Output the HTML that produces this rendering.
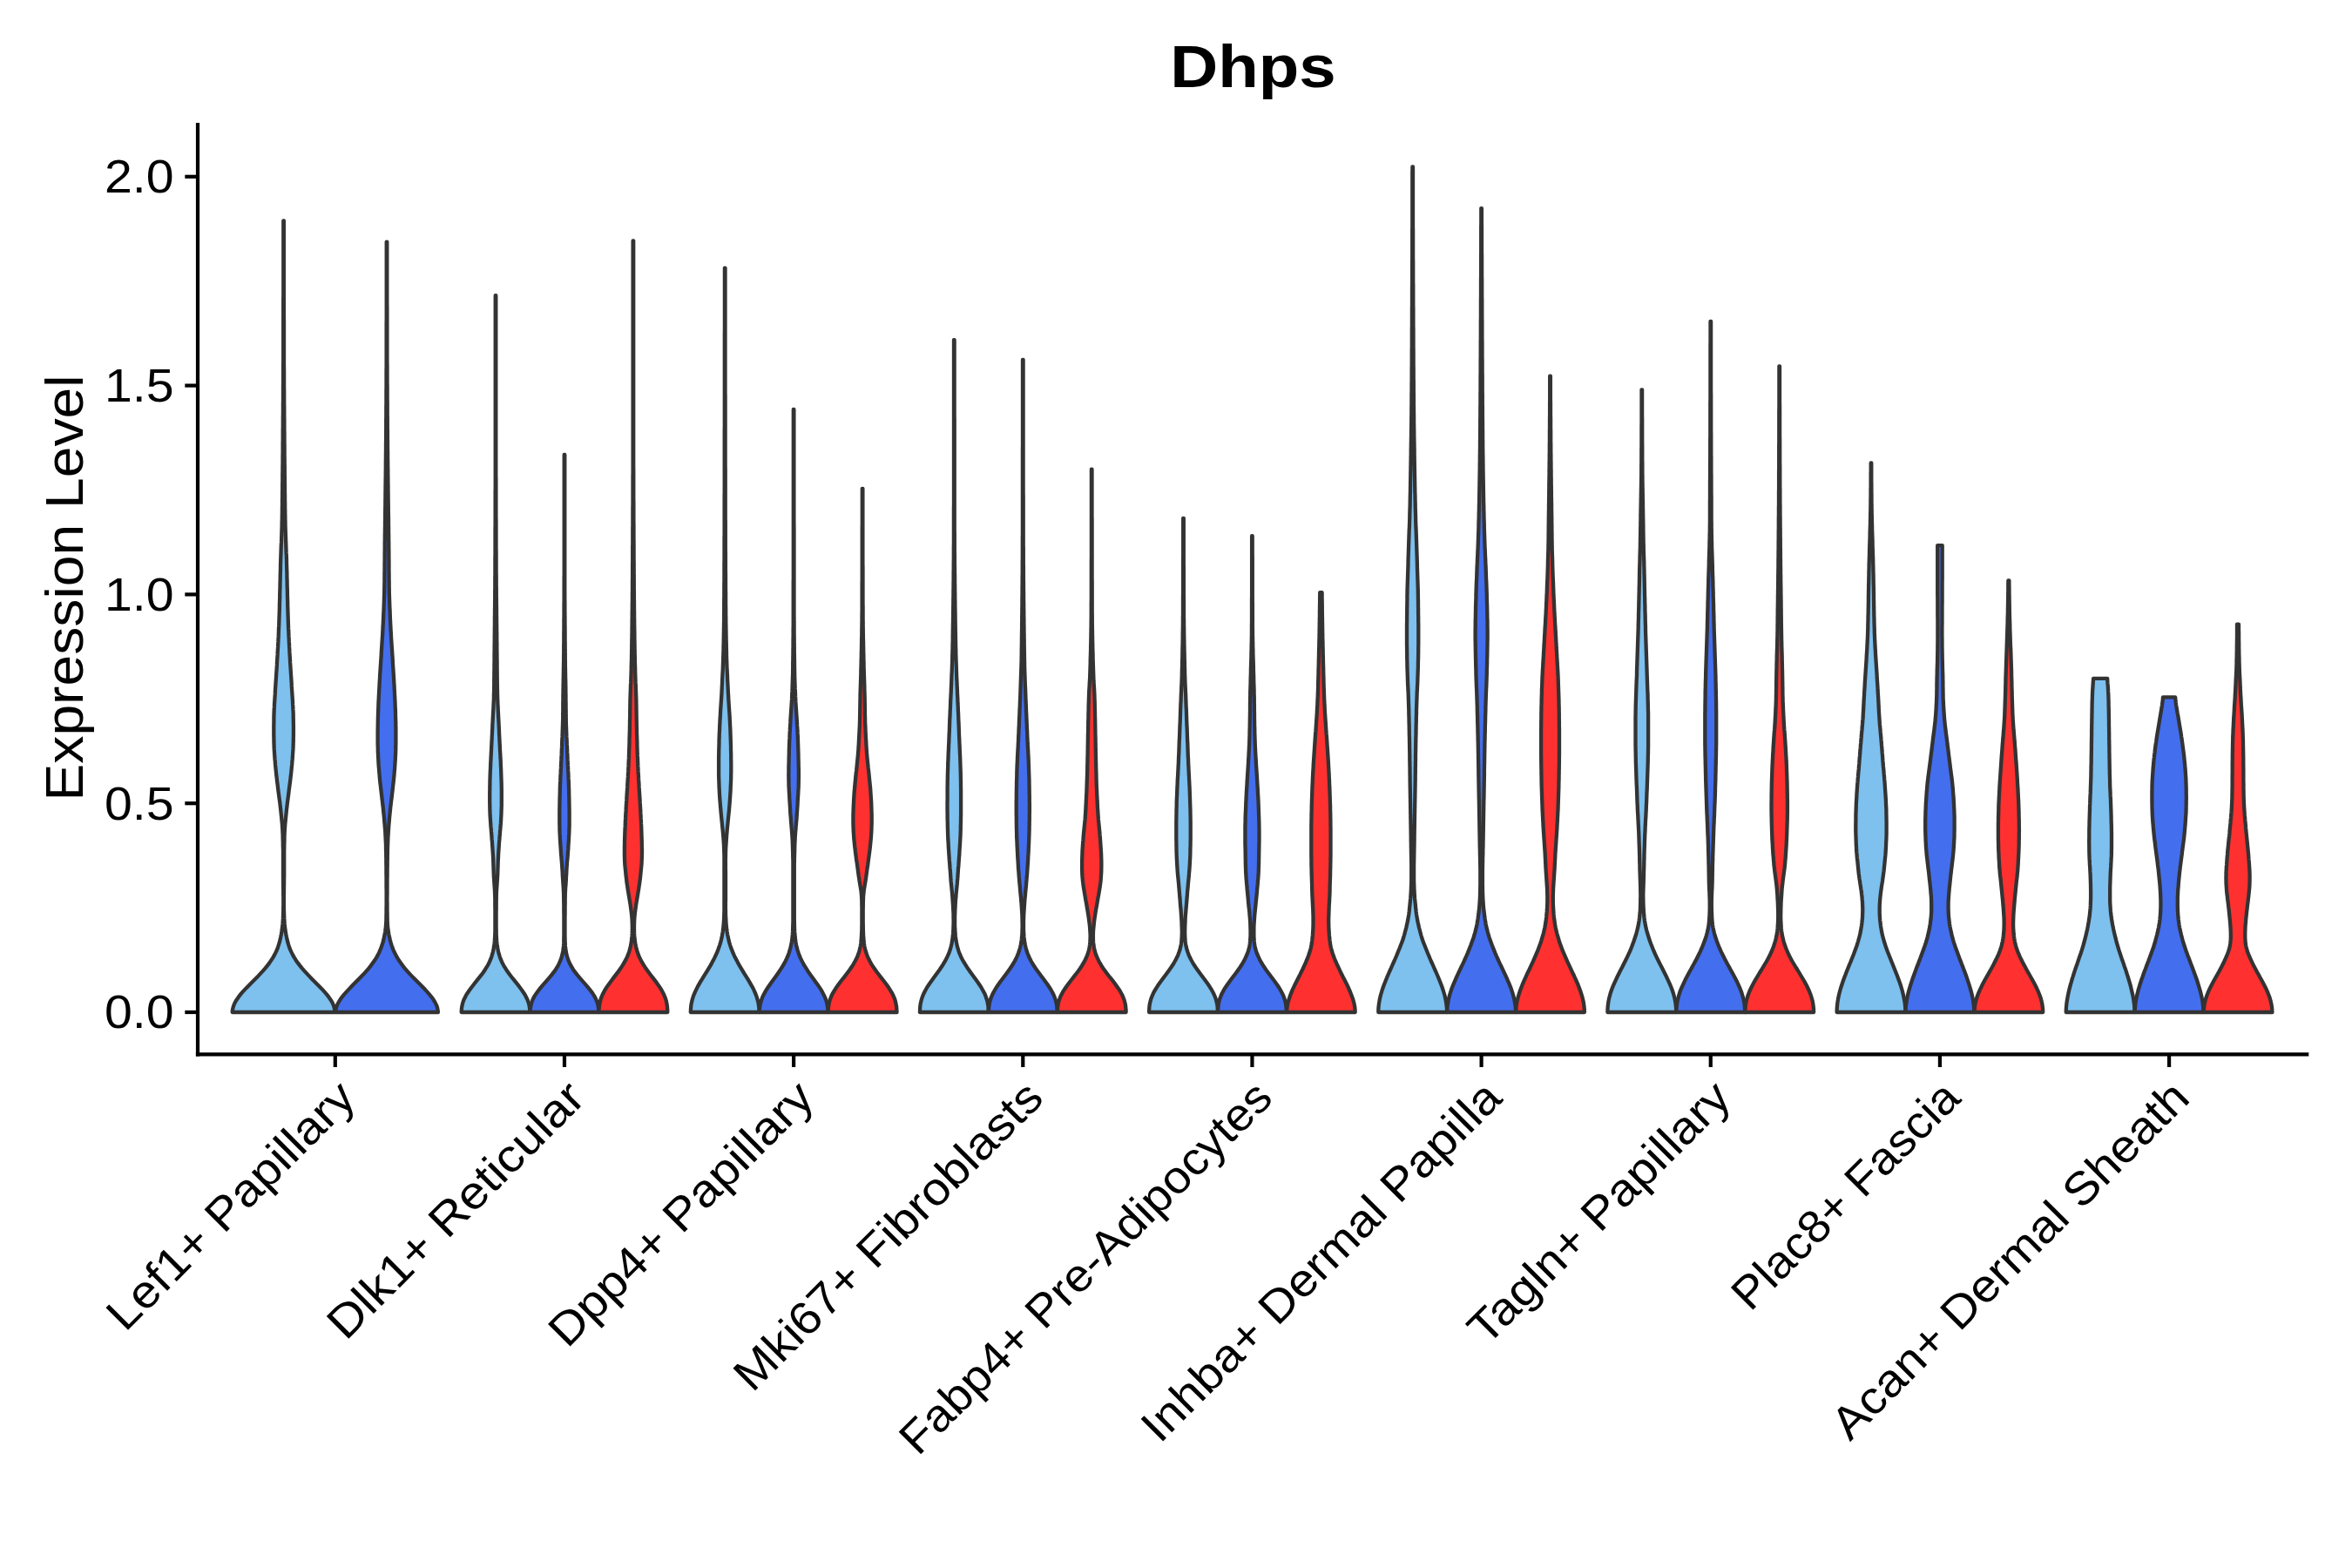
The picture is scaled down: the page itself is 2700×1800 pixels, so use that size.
<!DOCTYPE html>
<html lang="en"><head><meta charset="utf-8"><title>Dhps</title>
<style>html,body{margin:0;padding:0;background:#fff}body{width:2700px;height:1800px;overflow:hidden}svg{display:block}text{font-family:"Liberation Sans",sans-serif;fill:#000}</style></head><body>
<svg width="2700" height="1800" viewBox="0 0 2700 1800">
<rect width="2700" height="1800" fill="#fff"/>
<text transform="translate(1438.5,99.8) scale(1.1,1)" text-anchor="middle" font-size="69.2" font-weight="bold">Dhps</text>
<g stroke="#333333" stroke-width="4.3" stroke-linejoin="round" stroke-linecap="round">
<path d="M266.7,1162.0 L266.9,1159.4 L267.6,1156.4 L268.6,1153.4 L270.0,1150.4 L271.8,1147.4 L273.9,1144.4 L276.2,1141.4 L278.8,1138.4 L281.6,1135.4 L284.5,1132.4 L287.4,1129.4 L290.4,1126.4 L293.4,1123.4 L296.4,1120.4 L299.2,1117.4 L302.0,1114.4 L304.6,1111.4 L307.0,1108.4 L309.3,1105.4 L311.3,1102.4 L313.3,1099.4 L315.0,1096.4 L316.5,1093.4 L317.9,1090.4 L319.0,1087.4 L320.0,1084.4 L320.9,1081.4 L321.6,1078.4 L322.3,1075.4 L322.9,1072.4 L323.4,1069.4 L323.8,1066.4 L324.2,1063.4 L324.5,1060.4 L324.7,1057.4 L324.9,1054.4 L325.0,1051.4 L325.1,1048.4 L325.2,1045.4 L325.2,1042.4 L325.3,1039.4 L325.3,1036.4 L325.3,1033.4 L325.3,1030.4 L325.2,1027.4 L325.2,1024.4 L325.2,1021.4 L325.1,1018.4 L325.1,1015.4 L325.1,1012.4 L325.0,1009.4 L325.0,1006.4 L325.0,1003.4 L325.0,1000.4 L325.0,997.4 L325.0,994.4 L325.0,991.4 L325.0,988.4 L325.0,985.4 L325.0,982.4 L325.0,979.4 L325.0,976.4 L324.9,973.4 L324.8,970.4 L324.8,967.4 L324.7,964.4 L324.6,961.4 L324.6,958.4 L324.4,955.4 L324.3,952.4 L324.1,949.4 L323.9,946.4 L323.6,943.4 L323.3,940.4 L323.0,937.4 L322.7,934.4 L322.4,931.4 L322.1,928.4 L321.7,925.4 L321.4,922.4 L321.0,919.4 L320.6,916.4 L320.2,913.4 L319.8,910.4 L319.4,907.4 L319.0,904.4 L318.7,901.4 L318.3,898.4 L317.9,895.4 L317.6,892.4 L317.2,889.4 L316.9,886.4 L316.6,883.4 L316.3,880.4 L316.0,877.4 L315.8,874.4 L315.5,871.4 L315.3,868.4 L315.1,865.4 L314.9,862.4 L314.7,859.4 L314.6,856.4 L314.5,853.4 L314.4,850.4 L314.4,847.4 L314.3,844.4 L314.3,841.4 L314.3,838.4 L314.3,835.4 L314.3,832.4 L314.4,829.4 L314.4,826.4 L314.4,823.4 L314.5,820.4 L314.6,817.4 L314.7,814.4 L314.9,811.4 L315.0,808.4 L315.2,805.4 L315.4,802.4 L315.6,799.4 L315.8,796.4 L315.9,793.4 L316.1,790.4 L316.3,787.4 L316.5,784.4 L316.7,781.4 L316.9,778.4 L317.1,775.4 L317.3,772.4 L317.5,769.4 L317.7,766.4 L317.9,763.4 L318.0,760.4 L318.2,757.4 L318.4,754.4 L318.6,751.4 L318.7,748.4 L318.9,745.4 L319.1,742.4 L319.2,739.4 L319.4,736.4 L319.5,733.4 L319.7,730.4 L319.8,727.4 L319.9,724.4 L320.0,721.4 L320.2,718.4 L320.3,715.4 L320.4,712.4 L320.5,709.4 L320.6,706.4 L320.7,703.4 L320.8,700.4 L320.9,697.4 L320.9,694.4 L321.0,691.4 L321.1,688.4 L321.2,685.4 L321.2,682.4 L321.3,679.4 L321.4,676.4 L321.5,673.4 L321.5,670.4 L321.6,667.4 L321.7,664.4 L321.7,661.4 L321.8,658.4 L321.9,655.4 L322.0,652.4 L322.0,649.4 L322.1,646.4 L322.2,643.4 L322.3,640.4 L322.4,637.4 L322.5,634.4 L322.6,631.4 L322.7,628.4 L322.8,625.4 L323.0,622.4 L323.1,619.4 L323.2,616.4 L323.3,613.4 L323.4,610.4 L323.5,607.4 L323.6,604.4 L323.6,601.4 L323.7,598.4 L323.8,595.4 L323.8,592.4 L323.9,589.4 L323.9,586.4 L323.9,583.4 L324.0,580.4 L324.0,577.4 L324.0,574.4 L324.1,571.4 L324.1,568.4 L324.1,565.4 L324.2,562.4 L324.2,559.4 L324.2,556.4 L324.3,553.4 L324.3,550.4 L324.3,547.4 L324.3,544.4 L324.4,541.4 L324.4,538.4 L324.4,535.4 L324.5,532.4 L324.5,529.4 L324.5,526.4 L324.5,523.4 L324.6,520.4 L324.6,517.4 L324.6,514.4 L324.6,511.4 L324.6,508.4 L324.7,505.4 L324.7,502.4 L324.7,499.4 L324.7,496.4 L324.7,493.4 L324.8,490.4 L324.8,487.4 L324.8,484.4 L324.8,481.4 L324.8,478.4 L324.9,475.4 L324.9,472.4 L324.9,469.4 L324.9,466.4 L324.9,463.4 L325.0,460.4 L325.0,457.4 L325.0,454.4 L325.0,451.4 L325.0,448.4 L325.0,445.4 L325.0,442.4 L325.1,439.4 L325.1,436.4 L325.1,433.4 L325.1,430.4 L325.1,427.4 L325.1,424.4 L325.1,421.4 L325.1,418.4 L325.2,415.4 L325.2,412.4 L325.2,409.4 L325.2,406.4 L325.2,403.4 L325.2,400.4 L325.2,397.4 L325.2,394.4 L325.2,391.4 L325.2,388.4 L325.2,385.4 L325.2,382.4 L325.2,379.4 L325.2,376.4 L325.2,373.4 L325.2,370.4 L325.2,367.4 L325.2,364.4 L325.2,361.4 L325.2,358.4 L325.2,355.4 L325.2,352.4 L325.2,349.4 L325.2,346.4 L325.2,343.4 L325.3,340.4 L325.3,337.4 L325.3,334.4 L325.3,331.4 L325.3,328.4 L325.3,325.4 L325.3,322.4 L325.3,319.4 L325.3,316.4 L325.3,313.4 L325.3,310.4 L325.3,307.4 L325.3,304.4 L325.3,301.4 L325.3,298.4 L325.3,295.4 L325.3,292.4 L325.3,289.4 L325.3,286.4 L325.3,283.4 L325.3,280.4 L325.3,277.4 L325.3,274.4 L325.3,271.4 L325.3,268.4 L325.3,265.4 L325.3,262.4 L325.3,259.4 L325.3,256.4 L325.3,253.4 L325.9,253.4 L325.9,256.4 L325.9,259.4 L325.9,262.4 L325.9,265.4 L325.9,268.4 L325.9,271.4 L325.9,274.4 L325.9,277.4 L325.9,280.4 L325.9,283.4 L325.9,286.4 L325.9,289.4 L325.9,292.4 L325.9,295.4 L325.9,298.4 L325.9,301.4 L325.9,304.4 L325.9,307.4 L325.9,310.4 L325.9,313.4 L325.9,316.4 L325.9,319.4 L325.9,322.4 L325.9,325.4 L325.9,328.4 L325.9,331.4 L325.9,334.4 L325.9,337.4 L325.9,340.4 L325.9,343.4 L325.9,346.4 L325.9,349.4 L325.9,352.4 L325.9,355.4 L325.9,358.4 L325.9,361.4 L325.9,364.4 L326.0,367.4 L326.0,370.4 L326.0,373.4 L326.0,376.4 L326.0,379.4 L326.0,382.4 L326.0,385.4 L326.0,388.4 L326.0,391.4 L326.0,394.4 L326.0,397.4 L326.0,400.4 L326.0,403.4 L326.0,406.4 L326.0,409.4 L326.0,412.4 L326.0,415.4 L326.0,418.4 L326.0,421.4 L326.1,424.4 L326.1,427.4 L326.1,430.4 L326.1,433.4 L326.1,436.4 L326.1,439.4 L326.1,442.4 L326.1,445.4 L326.2,448.4 L326.2,451.4 L326.2,454.4 L326.2,457.4 L326.2,460.4 L326.2,463.4 L326.3,466.4 L326.3,469.4 L326.3,472.4 L326.3,475.4 L326.3,478.4 L326.4,481.4 L326.4,484.4 L326.4,487.4 L326.4,490.4 L326.4,493.4 L326.5,496.4 L326.5,499.4 L326.5,502.4 L326.5,505.4 L326.5,508.4 L326.6,511.4 L326.6,514.4 L326.6,517.4 L326.6,520.4 L326.6,523.4 L326.7,526.4 L326.7,529.4 L326.7,532.4 L326.8,535.4 L326.8,538.4 L326.8,541.4 L326.8,544.4 L326.9,547.4 L326.9,550.4 L326.9,553.4 L327.0,556.4 L327.0,559.4 L327.0,562.4 L327.0,565.4 L327.1,568.4 L327.1,571.4 L327.1,574.4 L327.2,577.4 L327.2,580.4 L327.2,583.4 L327.3,586.4 L327.3,589.4 L327.4,592.4 L327.4,595.4 L327.5,598.4 L327.5,601.4 L327.6,604.4 L327.7,607.4 L327.8,610.4 L327.9,613.4 L328.0,616.4 L328.1,619.4 L328.2,622.4 L328.3,625.4 L328.4,628.4 L328.5,631.4 L328.6,634.4 L328.8,637.4 L328.9,640.4 L329.0,643.4 L329.0,646.4 L329.1,649.4 L329.2,652.4 L329.3,655.4 L329.4,658.4 L329.4,661.4 L329.5,664.4 L329.6,667.4 L329.6,670.4 L329.7,673.4 L329.8,676.4 L329.9,679.4 L329.9,682.4 L330.0,685.4 L330.1,688.4 L330.2,691.4 L330.2,694.4 L330.3,697.4 L330.4,700.4 L330.5,703.4 L330.6,706.4 L330.7,709.4 L330.8,712.4 L330.9,715.4 L331.0,718.4 L331.1,721.4 L331.3,724.4 L331.4,727.4 L331.5,730.4 L331.7,733.4 L331.8,736.4 L332.0,739.4 L332.1,742.4 L332.3,745.4 L332.4,748.4 L332.6,751.4 L332.8,754.4 L333.0,757.4 L333.1,760.4 L333.3,763.4 L333.5,766.4 L333.7,769.4 L333.9,772.4 L334.1,775.4 L334.3,778.4 L334.5,781.4 L334.7,784.4 L334.8,787.4 L335.0,790.4 L335.2,793.4 L335.4,796.4 L335.6,799.4 L335.8,802.4 L336.0,805.4 L336.1,808.4 L336.3,811.4 L336.4,814.4 L336.6,817.4 L336.7,820.4 L336.7,823.4 L336.8,826.4 L336.8,829.4 L336.9,832.4 L336.9,835.4 L336.9,838.4 L336.9,841.4 L336.9,844.4 L336.8,847.4 L336.8,850.4 L336.7,853.4 L336.6,856.4 L336.5,859.4 L336.3,862.4 L336.1,865.4 L335.9,868.4 L335.7,871.4 L335.4,874.4 L335.2,877.4 L334.9,880.4 L334.6,883.4 L334.3,886.4 L334.0,889.4 L333.6,892.4 L333.3,895.4 L332.9,898.4 L332.5,901.4 L332.1,904.4 L331.7,907.4 L331.4,910.4 L331.0,913.4 L330.6,916.4 L330.2,919.4 L329.8,922.4 L329.5,925.4 L329.1,928.4 L328.8,931.4 L328.5,934.4 L328.2,937.4 L327.9,940.4 L327.6,943.4 L327.3,946.4 L327.1,949.4 L326.9,952.4 L326.7,955.4 L326.6,958.4 L326.5,961.4 L326.5,964.4 L326.4,967.4 L326.3,970.4 L326.3,973.4 L326.2,976.4 L326.2,979.4 L326.2,982.4 L326.2,985.4 L326.2,988.4 L326.2,991.4 L326.2,994.4 L326.2,997.4 L326.2,1000.4 L326.2,1003.4 L326.2,1006.4 L326.1,1009.4 L326.1,1012.4 L326.1,1015.4 L326.0,1018.4 L326.0,1021.4 L326.0,1024.4 L325.9,1027.4 L325.9,1030.4 L325.9,1033.4 L325.9,1036.4 L325.9,1039.4 L325.9,1042.4 L326.0,1045.4 L326.1,1048.4 L326.2,1051.4 L326.3,1054.4 L326.5,1057.4 L326.7,1060.4 L327.0,1063.4 L327.3,1066.4 L327.8,1069.4 L328.3,1072.4 L328.9,1075.4 L329.6,1078.4 L330.3,1081.4 L331.1,1084.4 L332.1,1087.4 L333.3,1090.4 L334.7,1093.4 L336.2,1096.4 L337.9,1099.4 L339.8,1102.4 L341.9,1105.4 L344.2,1108.4 L346.6,1111.4 L349.2,1114.4 L352.0,1117.4 L354.8,1120.4 L357.7,1123.4 L360.7,1126.4 L363.7,1129.4 L366.7,1132.4 L369.6,1135.4 L372.3,1138.4 L374.9,1141.4 L377.3,1144.4 L379.4,1147.4 L381.2,1150.4 L382.6,1153.4 L383.6,1156.4 L384.2,1159.4 L384.4,1162.0Z" fill="#7EC0EE"/>
<path d="M385.2,1162.0 L385.4,1159.6 L386.0,1156.6 L387.1,1153.6 L388.6,1150.6 L390.5,1147.6 L392.6,1144.6 L395.0,1141.6 L397.7,1138.6 L400.5,1135.6 L403.4,1132.6 L406.3,1129.6 L409.3,1126.6 L412.3,1123.6 L415.2,1120.6 L418.0,1117.6 L420.7,1114.6 L423.3,1111.6 L425.7,1108.6 L427.9,1105.6 L430.0,1102.6 L431.9,1099.6 L433.6,1096.6 L435.1,1093.6 L436.4,1090.6 L437.6,1087.6 L438.7,1084.6 L439.6,1081.6 L440.4,1078.6 L441.0,1075.6 L441.6,1072.6 L442.2,1069.6 L442.6,1066.6 L442.9,1063.6 L443.1,1060.6 L443.3,1057.6 L443.4,1054.6 L443.4,1051.6 L443.5,1048.6 L443.5,1045.6 L443.5,1042.6 L443.6,1039.6 L443.6,1036.6 L443.6,1033.6 L443.6,1030.6 L443.6,1027.6 L443.6,1024.6 L443.6,1021.6 L443.5,1018.6 L443.5,1015.6 L443.5,1012.6 L443.5,1009.6 L443.5,1006.6 L443.4,1003.6 L443.4,1000.6 L443.4,997.6 L443.4,994.6 L443.3,991.6 L443.3,988.6 L443.3,985.6 L443.2,982.6 L443.2,979.6 L443.1,976.6 L443.0,973.6 L443.0,970.6 L442.9,967.6 L442.7,964.6 L442.6,961.6 L442.4,958.6 L442.3,955.6 L442.1,952.6 L441.8,949.6 L441.6,946.6 L441.3,943.6 L441.1,940.6 L440.8,937.6 L440.5,934.6 L440.2,931.6 L439.9,928.6 L439.6,925.6 L439.2,922.6 L438.9,919.6 L438.5,916.6 L438.2,913.6 L437.8,910.6 L437.5,907.6 L437.1,904.6 L436.8,901.6 L436.4,898.6 L436.1,895.6 L435.8,892.6 L435.6,889.6 L435.3,886.6 L435.1,883.6 L434.8,880.6 L434.6,877.6 L434.4,874.6 L434.3,871.6 L434.1,868.6 L434.0,865.6 L433.8,862.6 L433.8,859.6 L433.7,856.6 L433.6,853.6 L433.6,850.6 L433.6,847.6 L433.6,844.6 L433.6,841.6 L433.6,838.6 L433.7,835.6 L433.7,832.6 L433.8,829.6 L433.8,826.6 L433.9,823.6 L434.0,820.6 L434.1,817.6 L434.2,814.6 L434.3,811.6 L434.4,808.6 L434.5,805.6 L434.7,802.6 L434.8,799.6 L435.0,796.6 L435.1,793.6 L435.3,790.6 L435.5,787.6 L435.6,784.6 L435.8,781.6 L436.0,778.6 L436.1,775.6 L436.3,772.6 L436.5,769.6 L436.7,766.6 L436.9,763.6 L437.1,760.6 L437.3,757.6 L437.5,754.6 L437.7,751.6 L437.8,748.6 L438.0,745.6 L438.2,742.6 L438.4,739.6 L438.6,736.6 L438.8,733.6 L439.0,730.6 L439.2,727.6 L439.3,724.6 L439.5,721.6 L439.6,718.6 L439.8,715.6 L439.9,712.6 L440.1,709.6 L440.2,706.6 L440.3,703.6 L440.5,700.6 L440.6,697.6 L440.7,694.6 L440.8,691.6 L440.9,688.6 L441.0,685.6 L441.1,682.6 L441.2,679.6 L441.2,676.6 L441.3,673.6 L441.3,670.6 L441.4,667.6 L441.4,664.6 L441.4,661.6 L441.4,658.6 L441.5,655.6 L441.5,652.6 L441.5,649.6 L441.5,646.6 L441.6,643.6 L441.6,640.6 L441.6,637.6 L441.6,634.6 L441.7,631.6 L441.7,628.6 L441.7,625.6 L441.7,622.6 L441.8,619.6 L441.8,616.6 L441.8,613.6 L441.9,610.6 L441.9,607.6 L442.0,604.6 L442.0,601.6 L442.0,598.6 L442.1,595.6 L442.1,592.6 L442.1,589.6 L442.2,586.6 L442.2,583.6 L442.3,580.6 L442.3,577.6 L442.3,574.6 L442.4,571.6 L442.4,568.6 L442.4,565.6 L442.5,562.6 L442.5,559.6 L442.5,556.6 L442.6,553.6 L442.6,550.6 L442.7,547.6 L442.7,544.6 L442.7,541.6 L442.8,538.6 L442.8,535.6 L442.8,532.6 L442.8,529.6 L442.9,526.6 L442.9,523.6 L442.9,520.6 L443.0,517.6 L443.0,514.6 L443.0,511.6 L443.0,508.6 L443.1,505.6 L443.1,502.6 L443.1,499.6 L443.1,496.6 L443.2,493.6 L443.2,490.6 L443.2,487.6 L443.2,484.6 L443.2,481.6 L443.3,478.6 L443.3,475.6 L443.3,472.6 L443.3,469.6 L443.3,466.6 L443.4,463.6 L443.4,460.6 L443.4,457.6 L443.4,454.6 L443.4,451.6 L443.4,448.6 L443.5,445.6 L443.5,442.6 L443.5,439.6 L443.5,436.6 L443.5,433.6 L443.5,430.6 L443.5,427.6 L443.5,424.6 L443.6,421.6 L443.6,418.6 L443.6,415.6 L443.6,412.6 L443.6,409.6 L443.6,406.6 L443.6,403.6 L443.6,400.6 L443.6,397.6 L443.6,394.6 L443.6,391.6 L443.6,388.6 L443.6,385.6 L443.6,382.6 L443.6,379.6 L443.6,376.6 L443.6,373.6 L443.6,370.6 L443.7,367.6 L443.7,364.6 L443.7,361.6 L443.7,358.6 L443.7,355.6 L443.7,352.6 L443.7,349.6 L443.7,346.6 L443.7,343.6 L443.7,340.6 L443.7,337.6 L443.7,334.6 L443.7,331.6 L443.7,328.6 L443.7,325.6 L443.7,322.6 L443.7,319.6 L443.7,316.6 L443.7,313.6 L443.7,310.6 L443.7,307.6 L443.7,304.6 L443.7,301.6 L443.7,298.6 L443.7,295.6 L443.7,292.6 L443.7,289.6 L443.7,286.6 L443.7,283.6 L443.7,280.6 L443.7,277.6 L444.3,277.6 L444.3,280.6 L444.3,283.6 L444.3,286.6 L444.3,289.6 L444.3,292.6 L444.3,295.6 L444.3,298.6 L444.3,301.6 L444.3,304.6 L444.3,307.6 L444.3,310.6 L444.3,313.6 L444.3,316.6 L444.3,319.6 L444.3,322.6 L444.3,325.6 L444.3,328.6 L444.3,331.6 L444.3,334.6 L444.3,337.6 L444.3,340.6 L444.3,343.6 L444.3,346.6 L444.3,349.6 L444.4,352.6 L444.4,355.6 L444.4,358.6 L444.4,361.6 L444.4,364.6 L444.4,367.6 L444.4,370.6 L444.4,373.6 L444.4,376.6 L444.4,379.6 L444.4,382.6 L444.4,385.6 L444.4,388.6 L444.4,391.6 L444.4,394.6 L444.4,397.6 L444.4,400.6 L444.4,403.6 L444.4,406.6 L444.4,409.6 L444.4,412.6 L444.4,415.6 L444.5,418.6 L444.5,421.6 L444.5,424.6 L444.5,427.6 L444.5,430.6 L444.5,433.6 L444.5,436.6 L444.5,439.6 L444.6,442.6 L444.6,445.6 L444.6,448.6 L444.6,451.6 L444.6,454.6 L444.6,457.6 L444.7,460.6 L444.7,463.6 L444.7,466.6 L444.7,469.6 L444.7,472.6 L444.7,475.6 L444.8,478.6 L444.8,481.6 L444.8,484.6 L444.8,487.6 L444.8,490.6 L444.9,493.6 L444.9,496.6 L444.9,499.6 L444.9,502.6 L445.0,505.6 L445.0,508.6 L445.0,511.6 L445.0,514.6 L445.1,517.6 L445.1,520.6 L445.1,523.6 L445.1,526.6 L445.2,529.6 L445.2,532.6 L445.2,535.6 L445.3,538.6 L445.3,541.6 L445.3,544.6 L445.4,547.6 L445.4,550.6 L445.4,553.6 L445.5,556.6 L445.5,559.6 L445.5,562.6 L445.6,565.6 L445.6,568.6 L445.6,571.6 L445.7,574.6 L445.7,577.6 L445.8,580.6 L445.8,583.6 L445.8,586.6 L445.9,589.6 L445.9,592.6 L446.0,595.6 L446.0,598.6 L446.0,601.6 L446.1,604.6 L446.1,607.6 L446.1,610.6 L446.2,613.6 L446.2,616.6 L446.2,619.6 L446.3,622.6 L446.3,625.6 L446.3,628.6 L446.4,631.6 L446.4,634.6 L446.4,637.6 L446.4,640.6 L446.5,643.6 L446.5,646.6 L446.5,649.6 L446.5,652.6 L446.5,655.6 L446.6,658.6 L446.6,661.6 L446.6,664.6 L446.7,667.6 L446.7,670.6 L446.7,673.6 L446.8,676.6 L446.8,679.6 L446.9,682.6 L447.0,685.6 L447.1,688.6 L447.2,691.6 L447.3,694.6 L447.4,697.6 L447.6,700.6 L447.7,703.6 L447.8,706.6 L447.9,709.6 L448.1,712.6 L448.2,715.6 L448.4,718.6 L448.5,721.6 L448.7,724.6 L448.9,727.6 L449.0,730.6 L449.2,733.6 L449.4,736.6 L449.6,739.6 L449.8,742.6 L450.0,745.6 L450.2,748.6 L450.4,751.6 L450.6,754.6 L450.8,757.6 L450.9,760.6 L451.1,763.6 L451.3,766.6 L451.5,769.6 L451.7,772.6 L451.9,775.6 L452.1,778.6 L452.2,781.6 L452.4,784.6 L452.6,787.6 L452.7,790.6 L452.9,793.6 L453.0,796.6 L453.2,799.6 L453.3,802.6 L453.5,805.6 L453.6,808.6 L453.7,811.6 L453.9,814.6 L454.0,817.6 L454.0,820.6 L454.1,823.6 L454.2,826.6 L454.3,829.6 L454.3,832.6 L454.4,835.6 L454.4,838.6 L454.4,841.6 L454.4,844.6 L454.4,847.6 L454.4,850.6 L454.4,853.6 L454.3,856.6 L454.3,859.6 L454.2,862.6 L454.1,865.6 L453.9,868.6 L453.8,871.6 L453.6,874.6 L453.4,877.6 L453.2,880.6 L453.0,883.6 L452.7,886.6 L452.5,889.6 L452.2,892.6 L451.9,895.6 L451.6,898.6 L451.2,901.6 L450.9,904.6 L450.6,907.6 L450.2,910.6 L449.9,913.6 L449.5,916.6 L449.1,919.6 L448.8,922.6 L448.4,925.6 L448.1,928.6 L447.8,931.6 L447.5,934.6 L447.2,937.6 L446.9,940.6 L446.7,943.6 L446.4,946.6 L446.2,949.6 L446.0,952.6 L445.8,955.6 L445.6,958.6 L445.4,961.6 L445.3,964.6 L445.2,967.6 L445.1,970.6 L445.0,973.6 L444.9,976.6 L444.9,979.6 L444.8,982.6 L444.8,985.6 L444.7,988.6 L444.7,991.6 L444.7,994.6 L444.6,997.6 L444.6,1000.6 L444.6,1003.6 L444.6,1006.6 L444.5,1009.6 L444.5,1012.6 L444.5,1015.6 L444.5,1018.6 L444.5,1021.6 L444.5,1024.6 L444.5,1027.6 L444.4,1030.6 L444.4,1033.6 L444.5,1036.6 L444.5,1039.6 L444.5,1042.6 L444.5,1045.6 L444.6,1048.6 L444.6,1051.6 L444.7,1054.6 L444.7,1057.6 L444.9,1060.6 L445.1,1063.6 L445.4,1066.6 L445.9,1069.6 L446.4,1072.6 L447.0,1075.6 L447.7,1078.6 L448.5,1081.6 L449.4,1084.6 L450.4,1087.6 L451.6,1090.6 L452.9,1093.6 L454.5,1096.6 L456.2,1099.6 L458.0,1102.6 L460.1,1105.6 L462.3,1108.6 L464.7,1111.6 L467.3,1114.6 L470.0,1117.6 L472.8,1120.6 L475.7,1123.6 L478.7,1126.6 L481.7,1129.6 L484.7,1132.6 L487.6,1135.6 L490.4,1138.6 L493.0,1141.6 L495.4,1144.6 L497.6,1147.6 L499.4,1150.6 L500.9,1153.6 L502.0,1156.6 L502.6,1159.6 L502.9,1162.0Z" fill="#436EEE"/>
<path d="M529.7,1162.0 L529.7,1161.2 L529.9,1158.2 L530.3,1155.2 L531.0,1152.2 L531.9,1149.2 L533.2,1146.2 L534.7,1143.2 L536.5,1140.2 L538.5,1137.2 L540.7,1134.2 L543.0,1131.2 L545.4,1128.2 L547.8,1125.2 L550.2,1122.2 L552.6,1119.2 L554.8,1116.2 L556.8,1113.2 L558.7,1110.2 L560.4,1107.2 L561.9,1104.2 L563.2,1101.2 L564.3,1098.2 L565.2,1095.2 L566.0,1092.2 L566.6,1089.2 L567.1,1086.2 L567.5,1083.2 L567.8,1080.2 L568.0,1077.2 L568.2,1074.2 L568.3,1071.2 L568.4,1068.2 L568.4,1065.2 L568.4,1062.2 L568.4,1059.2 L568.4,1056.2 L568.4,1053.2 L568.4,1050.2 L568.4,1047.2 L568.4,1044.2 L568.3,1041.2 L568.3,1038.2 L568.3,1035.2 L568.3,1032.2 L568.2,1029.2 L568.1,1026.2 L568.0,1023.2 L567.8,1020.2 L567.6,1017.2 L567.4,1014.2 L567.2,1011.2 L567.0,1008.2 L566.8,1005.2 L566.7,1002.2 L566.6,999.2 L566.5,996.2 L566.4,993.2 L566.3,990.2 L566.2,987.2 L566.1,984.2 L565.9,981.2 L565.7,978.2 L565.5,975.2 L565.3,972.2 L565.1,969.2 L564.9,966.2 L564.6,963.2 L564.4,960.2 L564.2,957.2 L563.9,954.2 L563.7,951.2 L563.4,948.2 L563.2,945.2 L563.0,942.2 L562.8,939.2 L562.6,936.2 L562.5,933.2 L562.4,930.2 L562.3,927.2 L562.3,924.2 L562.2,921.2 L562.2,918.2 L562.2,915.2 L562.2,912.2 L562.2,909.2 L562.3,906.2 L562.3,903.2 L562.4,900.2 L562.4,897.2 L562.5,894.2 L562.6,891.2 L562.7,888.2 L562.8,885.2 L563.0,882.2 L563.1,879.2 L563.2,876.2 L563.4,873.2 L563.5,870.2 L563.7,867.2 L563.8,864.2 L564.0,861.2 L564.1,858.2 L564.3,855.2 L564.4,852.2 L564.6,849.2 L564.7,846.2 L564.9,843.2 L565.0,840.2 L565.2,837.2 L565.3,834.2 L565.4,831.2 L565.6,828.2 L565.7,825.2 L565.9,822.2 L566.0,819.2 L566.2,816.2 L566.4,813.2 L566.5,810.2 L566.6,807.2 L566.8,804.2 L566.9,801.2 L566.9,798.2 L567.0,795.2 L567.1,792.2 L567.1,789.2 L567.2,786.2 L567.2,783.2 L567.2,780.2 L567.3,777.2 L567.3,774.2 L567.3,771.2 L567.4,768.2 L567.4,765.2 L567.4,762.2 L567.5,759.2 L567.5,756.2 L567.5,753.2 L567.5,750.2 L567.6,747.2 L567.6,744.2 L567.6,741.2 L567.7,738.2 L567.7,735.2 L567.7,732.2 L567.7,729.2 L567.8,726.2 L567.8,723.2 L567.8,720.2 L567.9,717.2 L567.9,714.2 L567.9,711.2 L567.9,708.2 L568.0,705.2 L568.0,702.2 L568.0,699.2 L568.1,696.2 L568.1,693.2 L568.1,690.2 L568.2,687.2 L568.2,684.2 L568.2,681.2 L568.2,678.2 L568.3,675.2 L568.3,672.2 L568.3,669.2 L568.3,666.2 L568.3,663.2 L568.4,660.2 L568.4,657.2 L568.4,654.2 L568.4,651.2 L568.4,648.2 L568.4,645.2 L568.4,642.2 L568.4,639.2 L568.5,636.2 L568.5,633.2 L568.5,630.2 L568.5,627.2 L568.5,624.2 L568.5,621.2 L568.5,618.2 L568.5,615.2 L568.5,612.2 L568.5,609.2 L568.5,606.2 L568.6,603.2 L568.6,600.2 L568.6,597.2 L568.6,594.2 L568.6,591.2 L568.6,588.2 L568.6,585.2 L568.6,582.2 L568.6,579.2 L568.6,576.2 L568.6,573.2 L568.6,570.2 L568.6,567.2 L568.6,564.2 L568.7,561.2 L568.7,558.2 L568.7,555.2 L568.7,552.2 L568.7,549.2 L568.7,546.2 L568.7,543.2 L568.7,540.2 L568.7,537.2 L568.7,534.2 L568.7,531.2 L568.7,528.2 L568.7,525.2 L568.7,522.2 L568.7,519.2 L568.7,516.2 L568.7,513.2 L568.7,510.2 L568.7,507.2 L568.7,504.2 L568.7,501.2 L568.7,498.2 L568.7,495.2 L568.7,492.2 L568.7,489.2 L568.7,486.2 L568.7,483.2 L568.7,480.2 L568.7,477.2 L568.7,474.2 L568.7,471.2 L568.7,468.2 L568.7,465.2 L568.7,462.2 L568.7,459.2 L568.7,456.2 L568.7,453.2 L568.7,450.2 L568.7,447.2 L568.7,444.2 L568.7,441.2 L568.7,438.2 L568.7,435.2 L568.7,432.2 L568.7,429.2 L568.7,426.2 L568.7,423.2 L568.7,420.2 L568.7,417.2 L568.7,414.2 L568.7,411.2 L568.7,408.2 L568.7,405.2 L568.7,402.2 L568.7,399.2 L568.7,396.2 L568.7,393.2 L568.7,390.2 L568.7,387.2 L568.7,384.2 L568.7,381.2 L568.7,378.2 L568.7,375.2 L568.7,372.2 L568.7,369.2 L568.7,366.2 L568.7,363.2 L568.7,360.2 L568.7,357.2 L568.7,354.2 L568.7,351.2 L568.7,348.2 L568.7,345.2 L568.7,342.2 L568.7,339.2 L569.3,339.2 L569.3,342.2 L569.3,345.2 L569.3,348.2 L569.3,351.2 L569.3,354.2 L569.3,357.2 L569.3,360.2 L569.3,363.2 L569.3,366.2 L569.3,369.2 L569.3,372.2 L569.3,375.2 L569.3,378.2 L569.3,381.2 L569.3,384.2 L569.3,387.2 L569.3,390.2 L569.3,393.2 L569.3,396.2 L569.3,399.2 L569.3,402.2 L569.3,405.2 L569.3,408.2 L569.3,411.2 L569.3,414.2 L569.3,417.2 L569.3,420.2 L569.3,423.2 L569.3,426.2 L569.3,429.2 L569.3,432.2 L569.3,435.2 L569.3,438.2 L569.3,441.2 L569.3,444.2 L569.3,447.2 L569.3,450.2 L569.3,453.2 L569.3,456.2 L569.3,459.2 L569.3,462.2 L569.3,465.2 L569.3,468.2 L569.3,471.2 L569.3,474.2 L569.3,477.2 L569.3,480.2 L569.3,483.2 L569.3,486.2 L569.3,489.2 L569.3,492.2 L569.3,495.2 L569.3,498.2 L569.3,501.2 L569.3,504.2 L569.3,507.2 L569.3,510.2 L569.3,513.2 L569.3,516.2 L569.3,519.2 L569.3,522.2 L569.3,525.2 L569.3,528.2 L569.3,531.2 L569.3,534.2 L569.3,537.2 L569.3,540.2 L569.3,543.2 L569.3,546.2 L569.4,549.2 L569.4,552.2 L569.4,555.2 L569.4,558.2 L569.4,561.2 L569.4,564.2 L569.4,567.2 L569.4,570.2 L569.4,573.2 L569.4,576.2 L569.4,579.2 L569.4,582.2 L569.4,585.2 L569.4,588.2 L569.4,591.2 L569.4,594.2 L569.5,597.2 L569.5,600.2 L569.5,603.2 L569.5,606.2 L569.5,609.2 L569.5,612.2 L569.5,615.2 L569.5,618.2 L569.5,621.2 L569.5,624.2 L569.5,627.2 L569.5,630.2 L569.6,633.2 L569.6,636.2 L569.6,639.2 L569.6,642.2 L569.6,645.2 L569.6,648.2 L569.6,651.2 L569.6,654.2 L569.6,657.2 L569.7,660.2 L569.7,663.2 L569.7,666.2 L569.7,669.2 L569.7,672.2 L569.8,675.2 L569.8,678.2 L569.8,681.2 L569.8,684.2 L569.9,687.2 L569.9,690.2 L569.9,693.2 L570.0,696.2 L570.0,699.2 L570.0,702.2 L570.0,705.2 L570.1,708.2 L570.1,711.2 L570.1,714.2 L570.2,717.2 L570.2,720.2 L570.2,723.2 L570.3,726.2 L570.3,729.2 L570.3,732.2 L570.3,735.2 L570.4,738.2 L570.4,741.2 L570.4,744.2 L570.4,747.2 L570.5,750.2 L570.5,753.2 L570.5,756.2 L570.6,759.2 L570.6,762.2 L570.6,765.2 L570.6,768.2 L570.7,771.2 L570.7,774.2 L570.7,777.2 L570.8,780.2 L570.8,783.2 L570.9,786.2 L570.9,789.2 L571.0,792.2 L571.0,795.2 L571.1,798.2 L571.2,801.2 L571.3,804.2 L571.4,807.2 L571.5,810.2 L571.7,813.2 L571.8,816.2 L572.0,819.2 L572.1,822.2 L572.3,825.2 L572.4,828.2 L572.6,831.2 L572.7,834.2 L572.9,837.2 L573.0,840.2 L573.1,843.2 L573.3,846.2 L573.4,849.2 L573.6,852.2 L573.7,855.2 L573.9,858.2 L574.0,861.2 L574.2,864.2 L574.4,867.2 L574.5,870.2 L574.7,873.2 L574.8,876.2 L574.9,879.2 L575.1,882.2 L575.2,885.2 L575.3,888.2 L575.4,891.2 L575.5,894.2 L575.6,897.2 L575.7,900.2 L575.7,903.2 L575.8,906.2 L575.8,909.2 L575.8,912.2 L575.8,915.2 L575.8,918.2 L575.8,921.2 L575.8,924.2 L575.7,927.2 L575.6,930.2 L575.5,933.2 L575.4,936.2 L575.2,939.2 L575.1,942.2 L574.9,945.2 L574.6,948.2 L574.4,951.2 L574.1,954.2 L573.9,957.2 L573.6,960.2 L573.4,963.2 L573.1,966.2 L572.9,969.2 L572.7,972.2 L572.5,975.2 L572.3,978.2 L572.1,981.2 L572.0,984.2 L571.8,987.2 L571.7,990.2 L571.6,993.2 L571.5,996.2 L571.4,999.2 L571.3,1002.2 L571.2,1005.2 L571.0,1008.2 L570.8,1011.2 L570.6,1014.2 L570.4,1017.2 L570.2,1020.2 L570.0,1023.2 L569.9,1026.2 L569.8,1029.2 L569.8,1032.2 L569.7,1035.2 L569.7,1038.2 L569.7,1041.2 L569.7,1044.2 L569.6,1047.2 L569.6,1050.2 L569.6,1053.2 L569.6,1056.2 L569.6,1059.2 L569.6,1062.2 L569.6,1065.2 L569.7,1068.2 L569.7,1071.2 L569.8,1074.2 L570.0,1077.2 L570.2,1080.2 L570.5,1083.2 L570.9,1086.2 L571.4,1089.2 L572.0,1092.2 L572.8,1095.2 L573.7,1098.2 L574.8,1101.2 L576.1,1104.2 L577.6,1107.2 L579.3,1110.2 L581.2,1113.2 L583.3,1116.2 L585.5,1119.2 L587.8,1122.2 L590.2,1125.2 L592.6,1128.2 L595.0,1131.2 L597.3,1134.2 L599.5,1137.2 L601.5,1140.2 L603.3,1143.2 L604.8,1146.2 L606.1,1149.2 L607.1,1152.2 L607.7,1155.2 L608.1,1158.2 L608.3,1161.2 L608.3,1162.0Z" fill="#7EC0EE"/>
<path d="M608.6,1162.0 L608.6,1160.9 L608.8,1157.9 L609.3,1154.9 L610.0,1151.9 L611.0,1148.9 L612.3,1145.9 L614.0,1142.9 L616.0,1139.9 L618.2,1136.9 L620.6,1133.9 L623.1,1130.9 L625.8,1127.9 L628.4,1124.9 L631.0,1121.9 L633.5,1118.9 L635.8,1115.9 L637.9,1112.9 L639.8,1109.9 L641.4,1106.9 L642.8,1103.9 L644.0,1100.9 L644.9,1097.9 L645.7,1094.9 L646.3,1091.9 L646.7,1088.9 L647.0,1085.9 L647.2,1082.9 L647.3,1079.9 L647.3,1076.9 L647.4,1073.9 L647.4,1070.9 L647.4,1067.9 L647.4,1064.9 L647.4,1061.9 L647.4,1058.9 L647.4,1055.9 L647.4,1052.9 L647.4,1049.9 L647.3,1046.9 L647.3,1043.9 L647.3,1040.9 L647.3,1037.9 L647.2,1034.9 L647.2,1031.9 L647.1,1028.9 L647.1,1025.9 L646.9,1022.9 L646.8,1019.9 L646.6,1016.9 L646.4,1013.9 L646.2,1010.9 L646.0,1007.9 L645.8,1004.9 L645.7,1001.9 L645.5,998.9 L645.3,995.9 L645.1,992.9 L644.9,989.9 L644.6,986.9 L644.4,983.9 L644.1,980.9 L643.9,977.9 L643.7,974.9 L643.5,971.9 L643.3,968.9 L643.1,965.9 L642.9,962.9 L642.8,959.9 L642.6,956.9 L642.5,953.9 L642.4,950.9 L642.4,947.9 L642.3,944.9 L642.3,941.9 L642.3,938.9 L642.3,935.9 L642.3,932.9 L642.3,929.9 L642.4,926.9 L642.4,923.9 L642.5,920.9 L642.5,917.9 L642.6,914.9 L642.7,911.9 L642.8,908.9 L642.8,905.9 L642.9,902.9 L643.0,899.9 L643.2,896.9 L643.3,893.9 L643.4,890.9 L643.6,887.9 L643.7,884.9 L643.9,881.9 L644.0,878.9 L644.1,875.9 L644.3,872.9 L644.4,869.9 L644.6,866.9 L644.7,863.9 L644.8,860.9 L645.0,857.9 L645.1,854.9 L645.2,851.9 L645.3,848.9 L645.5,845.9 L645.6,842.9 L645.7,839.9 L645.8,836.9 L645.9,833.9 L646.0,830.9 L646.1,827.9 L646.2,824.9 L646.2,821.9 L646.2,818.9 L646.3,815.9 L646.3,812.9 L646.3,809.9 L646.3,806.9 L646.4,803.9 L646.4,800.9 L646.4,797.9 L646.5,794.9 L646.5,791.9 L646.6,788.9 L646.6,785.9 L646.7,782.9 L646.7,779.9 L646.8,776.9 L646.8,773.9 L646.9,770.9 L646.9,767.9 L647.0,764.9 L647.0,761.9 L647.1,758.9 L647.1,755.9 L647.1,752.9 L647.2,749.9 L647.2,746.9 L647.2,743.9 L647.2,740.9 L647.3,737.9 L647.3,734.9 L647.3,731.9 L647.3,728.9 L647.3,725.9 L647.4,722.9 L647.4,719.9 L647.4,716.9 L647.4,713.9 L647.4,710.9 L647.5,707.9 L647.5,704.9 L647.5,701.9 L647.5,698.9 L647.5,695.9 L647.5,692.9 L647.6,689.9 L647.6,686.9 L647.6,683.9 L647.6,680.9 L647.6,677.9 L647.6,674.9 L647.6,671.9 L647.6,668.9 L647.6,665.9 L647.6,662.9 L647.7,659.9 L647.7,656.9 L647.7,653.9 L647.7,650.9 L647.7,647.9 L647.7,644.9 L647.7,641.9 L647.7,638.9 L647.7,635.9 L647.7,632.9 L647.7,629.9 L647.7,626.9 L647.7,623.9 L647.7,620.9 L647.7,617.9 L647.7,614.9 L647.7,611.9 L647.7,608.9 L647.7,605.9 L647.7,602.9 L647.7,599.9 L647.7,596.9 L647.7,593.9 L647.7,590.9 L647.7,587.9 L647.7,584.9 L647.7,581.9 L647.7,578.9 L647.7,575.9 L647.7,572.9 L647.7,569.9 L647.7,566.9 L647.7,563.9 L647.7,560.9 L647.7,557.9 L647.7,554.9 L647.7,551.9 L647.7,548.9 L647.7,545.9 L647.7,542.9 L647.7,539.9 L647.7,536.9 L647.7,533.9 L647.7,530.9 L647.7,527.9 L647.7,524.9 L647.7,521.9 L648.3,521.9 L648.3,524.9 L648.3,527.9 L648.3,530.9 L648.3,533.9 L648.3,536.9 L648.3,539.9 L648.3,542.9 L648.3,545.9 L648.3,548.9 L648.3,551.9 L648.3,554.9 L648.3,557.9 L648.3,560.9 L648.3,563.9 L648.3,566.9 L648.3,569.9 L648.3,572.9 L648.3,575.9 L648.3,578.9 L648.3,581.9 L648.3,584.9 L648.3,587.9 L648.3,590.9 L648.3,593.9 L648.3,596.9 L648.3,599.9 L648.3,602.9 L648.3,605.9 L648.3,608.9 L648.3,611.9 L648.3,614.9 L648.3,617.9 L648.3,620.9 L648.3,623.9 L648.3,626.9 L648.3,629.9 L648.3,632.9 L648.3,635.9 L648.3,638.9 L648.3,641.9 L648.3,644.9 L648.3,647.9 L648.3,650.9 L648.3,653.9 L648.3,656.9 L648.3,659.9 L648.3,662.9 L648.3,665.9 L648.3,668.9 L648.3,671.9 L648.3,674.9 L648.3,677.9 L648.3,680.9 L648.3,683.9 L648.3,686.9 L648.4,689.9 L648.4,692.9 L648.4,695.9 L648.4,698.9 L648.4,701.9 L648.4,704.9 L648.5,707.9 L648.5,710.9 L648.5,713.9 L648.5,716.9 L648.5,719.9 L648.6,722.9 L648.6,725.9 L648.6,728.9 L648.6,731.9 L648.6,734.9 L648.7,737.9 L648.7,740.9 L648.7,743.9 L648.7,746.9 L648.8,749.9 L648.8,752.9 L648.8,755.9 L648.9,758.9 L648.9,761.9 L648.9,764.9 L649.0,767.9 L649.0,770.9 L649.1,773.9 L649.1,776.9 L649.2,779.9 L649.3,782.9 L649.3,785.9 L649.4,788.9 L649.4,791.9 L649.4,794.9 L649.5,797.9 L649.5,800.9 L649.5,803.9 L649.6,806.9 L649.6,809.9 L649.6,812.9 L649.7,815.9 L649.7,818.9 L649.7,821.9 L649.8,824.9 L649.8,827.9 L649.9,830.9 L650.0,833.9 L650.1,836.9 L650.2,839.9 L650.3,842.9 L650.4,845.9 L650.6,848.9 L650.7,851.9 L650.8,854.9 L651.0,857.9 L651.1,860.9 L651.2,863.9 L651.4,866.9 L651.5,869.9 L651.6,872.9 L651.8,875.9 L651.9,878.9 L652.1,881.9 L652.2,884.9 L652.4,887.9 L652.5,890.9 L652.6,893.9 L652.8,896.9 L652.9,899.9 L653.0,902.9 L653.1,905.9 L653.2,908.9 L653.2,911.9 L653.3,914.9 L653.4,917.9 L653.4,920.9 L653.5,923.9 L653.5,926.9 L653.6,929.9 L653.6,932.9 L653.6,935.9 L653.6,938.9 L653.6,941.9 L653.6,944.9 L653.6,947.9 L653.5,950.9 L653.4,953.9 L653.3,956.9 L653.1,959.9 L653.0,962.9 L652.8,965.9 L652.6,968.9 L652.4,971.9 L652.3,974.9 L652.0,977.9 L651.8,980.9 L651.6,983.9 L651.3,986.9 L651.0,989.9 L650.8,992.9 L650.6,995.9 L650.4,998.9 L650.3,1001.9 L650.1,1004.9 L649.9,1007.9 L649.8,1010.9 L649.6,1013.9 L649.4,1016.9 L649.1,1019.9 L649.0,1022.9 L648.8,1025.9 L648.8,1028.9 L648.7,1031.9 L648.7,1034.9 L648.7,1037.9 L648.6,1040.9 L648.6,1043.9 L648.6,1046.9 L648.6,1049.9 L648.5,1052.9 L648.5,1055.9 L648.5,1058.9 L648.5,1061.9 L648.5,1064.9 L648.5,1067.9 L648.5,1070.9 L648.5,1073.9 L648.6,1076.9 L648.6,1079.9 L648.8,1082.9 L648.9,1085.9 L649.2,1088.9 L649.7,1091.9 L650.2,1094.9 L651.0,1097.9 L652.0,1100.9 L653.1,1103.9 L654.5,1106.9 L656.2,1109.9 L658.0,1112.9 L660.1,1115.9 L662.4,1118.9 L664.9,1121.9 L667.5,1124.9 L670.1,1127.9 L672.8,1130.9 L675.3,1133.9 L677.7,1136.9 L680.0,1139.9 L681.9,1142.9 L683.6,1145.9 L684.9,1148.9 L686.0,1151.9 L686.7,1154.9 L687.1,1157.9 L687.3,1160.9 L687.3,1162.0Z" fill="#436EEE"/>
<path d="M687.5,1162.0 L687.5,1161.4 L687.6,1158.4 L687.9,1155.4 L688.3,1152.4 L689.0,1149.4 L689.8,1146.4 L691.0,1143.4 L692.3,1140.4 L693.9,1137.4 L695.7,1134.4 L697.7,1131.4 L699.9,1128.4 L702.1,1125.4 L704.4,1122.4 L706.7,1119.4 L709.0,1116.4 L711.1,1113.4 L713.2,1110.4 L715.2,1107.4 L716.9,1104.4 L718.6,1101.4 L720.0,1098.4 L721.2,1095.4 L722.3,1092.4 L723.1,1089.4 L723.9,1086.4 L724.4,1083.4 L724.9,1080.4 L725.2,1077.4 L725.5,1074.4 L725.7,1071.4 L725.8,1068.4 L725.8,1065.4 L725.8,1062.4 L725.7,1059.4 L725.6,1056.4 L725.4,1053.4 L725.1,1050.4 L724.8,1047.4 L724.4,1044.4 L724.0,1041.4 L723.6,1038.4 L723.1,1035.4 L722.6,1032.4 L722.1,1029.4 L721.6,1026.4 L721.1,1023.4 L720.6,1020.4 L720.2,1017.4 L719.7,1014.4 L719.3,1011.4 L719.0,1008.4 L718.6,1005.4 L718.3,1002.4 L718.0,999.4 L717.7,996.4 L717.4,993.4 L717.2,990.4 L717.1,987.4 L717.0,984.4 L716.9,981.4 L716.9,978.4 L716.9,975.4 L716.9,972.4 L717.0,969.4 L717.0,966.4 L717.1,963.4 L717.2,960.4 L717.3,957.4 L717.4,954.4 L717.5,951.4 L717.7,948.4 L717.8,945.4 L717.9,942.4 L718.1,939.4 L718.2,936.4 L718.4,933.4 L718.6,930.4 L718.7,927.4 L718.9,924.4 L719.1,921.4 L719.3,918.4 L719.4,915.4 L719.6,912.4 L719.8,909.4 L720.0,906.4 L720.2,903.4 L720.3,900.4 L720.5,897.4 L720.7,894.4 L720.9,891.4 L721.0,888.4 L721.2,885.4 L721.3,882.4 L721.5,879.4 L721.6,876.4 L721.7,873.4 L721.9,870.4 L722.0,867.4 L722.1,864.4 L722.2,861.4 L722.3,858.4 L722.4,855.4 L722.5,852.4 L722.5,849.4 L722.6,846.4 L722.7,843.4 L722.8,840.4 L722.9,837.4 L722.9,834.4 L723.0,831.4 L723.0,828.4 L723.1,825.4 L723.2,822.4 L723.2,819.4 L723.2,816.4 L723.3,813.4 L723.3,810.4 L723.4,807.4 L723.4,804.4 L723.5,801.4 L723.6,798.4 L723.7,795.4 L723.8,792.4 L723.9,789.4 L724.0,786.4 L724.2,783.4 L724.3,780.4 L724.4,777.4 L724.5,774.4 L724.6,771.4 L724.7,768.4 L724.7,765.4 L724.8,762.4 L724.9,759.4 L725.0,756.4 L725.0,753.4 L725.1,750.4 L725.1,747.4 L725.2,744.4 L725.2,741.4 L725.3,738.4 L725.3,735.4 L725.4,732.4 L725.4,729.4 L725.5,726.4 L725.5,723.4 L725.5,720.4 L725.6,717.4 L725.6,714.4 L725.6,711.4 L725.7,708.4 L725.7,705.4 L725.7,702.4 L725.8,699.4 L725.8,696.4 L725.8,693.4 L725.9,690.4 L725.9,687.4 L725.9,684.4 L725.9,681.4 L726.0,678.4 L726.0,675.4 L726.0,672.4 L726.0,669.4 L726.0,666.4 L726.1,663.4 L726.1,660.4 L726.1,657.4 L726.1,654.4 L726.1,651.4 L726.1,648.4 L726.2,645.4 L726.2,642.4 L726.2,639.4 L726.2,636.4 L726.2,633.4 L726.2,630.4 L726.2,627.4 L726.3,624.4 L726.3,621.4 L726.3,618.4 L726.3,615.4 L726.3,612.4 L726.3,609.4 L726.3,606.4 L726.4,603.4 L726.4,600.4 L726.4,597.4 L726.4,594.4 L726.4,591.4 L726.4,588.4 L726.4,585.4 L726.4,582.4 L726.5,579.4 L726.5,576.4 L726.5,573.4 L726.5,570.4 L726.5,567.4 L726.5,564.4 L726.5,561.4 L726.5,558.4 L726.5,555.4 L726.5,552.4 L726.5,549.4 L726.5,546.4 L726.6,543.4 L726.6,540.4 L726.6,537.4 L726.6,534.4 L726.6,531.4 L726.6,528.4 L726.6,525.4 L726.6,522.4 L726.6,519.4 L726.6,516.4 L726.6,513.4 L726.6,510.4 L726.6,507.4 L726.6,504.4 L726.6,501.4 L726.6,498.4 L726.6,495.4 L726.6,492.4 L726.6,489.4 L726.6,486.4 L726.6,483.4 L726.6,480.4 L726.6,477.4 L726.6,474.4 L726.6,471.4 L726.6,468.4 L726.6,465.4 L726.6,462.4 L726.6,459.4 L726.6,456.4 L726.6,453.4 L726.6,450.4 L726.6,447.4 L726.6,444.4 L726.6,441.4 L726.6,438.4 L726.6,435.4 L726.6,432.4 L726.6,429.4 L726.6,426.4 L726.6,423.4 L726.6,420.4 L726.6,417.4 L726.6,414.4 L726.6,411.4 L726.6,408.4 L726.6,405.4 L726.6,402.4 L726.6,399.4 L726.6,396.4 L726.6,393.4 L726.6,390.4 L726.6,387.4 L726.6,384.4 L726.6,381.4 L726.6,378.4 L726.6,375.4 L726.6,372.4 L726.6,369.4 L726.6,366.4 L726.6,363.4 L726.6,360.4 L726.6,357.4 L726.6,354.4 L726.6,351.4 L726.6,348.4 L726.6,345.4 L726.6,342.4 L726.6,339.4 L726.6,336.4 L726.6,333.4 L726.6,330.4 L726.6,327.4 L726.6,324.4 L726.6,321.4 L726.6,318.4 L726.6,315.4 L726.6,312.4 L726.6,309.4 L726.6,306.4 L726.6,303.4 L726.6,300.4 L726.6,297.4 L726.6,294.4 L726.6,291.4 L726.6,288.4 L726.6,285.4 L726.6,282.4 L726.6,279.4 L726.6,276.4 L727.2,276.4 L727.2,279.4 L727.2,282.4 L727.2,285.4 L727.2,288.4 L727.2,291.4 L727.2,294.4 L727.2,297.4 L727.2,300.4 L727.2,303.4 L727.2,306.4 L727.2,309.4 L727.2,312.4 L727.2,315.4 L727.2,318.4 L727.2,321.4 L727.2,324.4 L727.2,327.4 L727.2,330.4 L727.2,333.4 L727.2,336.4 L727.2,339.4 L727.2,342.4 L727.2,345.4 L727.2,348.4 L727.2,351.4 L727.2,354.4 L727.2,357.4 L727.2,360.4 L727.2,363.4 L727.2,366.4 L727.2,369.4 L727.2,372.4 L727.2,375.4 L727.2,378.4 L727.2,381.4 L727.2,384.4 L727.2,387.4 L727.2,390.4 L727.2,393.4 L727.2,396.4 L727.2,399.4 L727.2,402.4 L727.2,405.4 L727.2,408.4 L727.2,411.4 L727.2,414.4 L727.2,417.4 L727.2,420.4 L727.2,423.4 L727.2,426.4 L727.2,429.4 L727.2,432.4 L727.2,435.4 L727.2,438.4 L727.2,441.4 L727.2,444.4 L727.2,447.4 L727.2,450.4 L727.2,453.4 L727.2,456.4 L727.2,459.4 L727.2,462.4 L727.2,465.4 L727.2,468.4 L727.2,471.4 L727.2,474.4 L727.2,477.4 L727.2,480.4 L727.2,483.4 L727.2,486.4 L727.2,489.4 L727.2,492.4 L727.2,495.4 L727.2,498.4 L727.2,501.4 L727.2,504.4 L727.2,507.4 L727.2,510.4 L727.2,513.4 L727.2,516.4 L727.2,519.4 L727.2,522.4 L727.2,525.4 L727.2,528.4 L727.2,531.4 L727.2,534.4 L727.2,537.4 L727.3,540.4 L727.3,543.4 L727.3,546.4 L727.3,549.4 L727.3,552.4 L727.3,555.4 L727.3,558.4 L727.3,561.4 L727.3,564.4 L727.3,567.4 L727.3,570.4 L727.3,573.4 L727.4,576.4 L727.4,579.4 L727.4,582.4 L727.4,585.4 L727.4,588.4 L727.4,591.4 L727.4,594.4 L727.4,597.4 L727.4,600.4 L727.5,603.4 L727.5,606.4 L727.5,609.4 L727.5,612.4 L727.5,615.4 L727.5,618.4 L727.5,621.4 L727.6,624.4 L727.6,627.4 L727.6,630.4 L727.6,633.4 L727.6,636.4 L727.6,639.4 L727.6,642.4 L727.7,645.4 L727.7,648.4 L727.7,651.4 L727.7,654.4 L727.7,657.4 L727.7,660.4 L727.8,663.4 L727.8,666.4 L727.8,669.4 L727.8,672.4 L727.8,675.4 L727.9,678.4 L727.9,681.4 L727.9,684.4 L727.9,687.4 L728.0,690.4 L728.0,693.4 L728.0,696.4 L728.0,699.4 L728.1,702.4 L728.1,705.4 L728.1,708.4 L728.2,711.4 L728.2,714.4 L728.2,717.4 L728.3,720.4 L728.3,723.4 L728.4,726.4 L728.4,729.4 L728.4,732.4 L728.5,735.4 L728.5,738.4 L728.6,741.4 L728.6,744.4 L728.7,747.4 L728.7,750.4 L728.8,753.4 L728.9,756.4 L728.9,759.4 L729.0,762.4 L729.1,765.4 L729.2,768.4 L729.2,771.4 L729.3,774.4 L729.4,777.4 L729.5,780.4 L729.6,783.4 L729.8,786.4 L729.9,789.4 L730.0,792.4 L730.1,795.4 L730.2,798.4 L730.3,801.4 L730.4,804.4 L730.4,807.4 L730.5,810.4 L730.5,813.4 L730.6,816.4 L730.6,819.4 L730.7,822.4 L730.7,825.4 L730.8,828.4 L730.8,831.4 L730.9,834.4 L731.0,837.4 L731.0,840.4 L731.1,843.4 L731.2,846.4 L731.3,849.4 L731.4,852.4 L731.4,855.4 L731.5,858.4 L731.6,861.4 L731.7,864.4 L731.8,867.4 L732.0,870.4 L732.1,873.4 L732.2,876.4 L732.3,879.4 L732.5,882.4 L732.6,885.4 L732.8,888.4 L733.0,891.4 L733.1,894.4 L733.3,897.4 L733.5,900.4 L733.6,903.4 L733.8,906.4 L734.0,909.4 L734.2,912.4 L734.4,915.4 L734.6,918.4 L734.7,921.4 L734.9,924.4 L735.1,927.4 L735.3,930.4 L735.4,933.4 L735.6,936.4 L735.7,939.4 L735.9,942.4 L736.0,945.4 L736.2,948.4 L736.3,951.4 L736.4,954.4 L736.5,957.4 L736.6,960.4 L736.7,963.4 L736.8,966.4 L736.8,969.4 L736.9,972.4 L737.0,975.4 L737.0,978.4 L736.9,981.4 L736.9,984.4 L736.7,987.4 L736.6,990.4 L736.4,993.4 L736.1,996.4 L735.8,999.4 L735.5,1002.4 L735.2,1005.4 L734.9,1008.4 L734.5,1011.4 L734.1,1014.4 L733.6,1017.4 L733.2,1020.4 L732.7,1023.4 L732.2,1026.4 L731.7,1029.4 L731.2,1032.4 L730.7,1035.4 L730.2,1038.4 L729.8,1041.4 L729.4,1044.4 L729.0,1047.4 L728.7,1050.4 L728.4,1053.4 L728.2,1056.4 L728.1,1059.4 L728.0,1062.4 L728.0,1065.4 L728.0,1068.4 L728.1,1071.4 L728.3,1074.4 L728.6,1077.4 L728.9,1080.4 L729.4,1083.4 L730.0,1086.4 L730.7,1089.4 L731.6,1092.4 L732.6,1095.4 L733.8,1098.4 L735.3,1101.4 L736.9,1104.4 L738.6,1107.4 L740.6,1110.4 L742.7,1113.4 L744.9,1116.4 L747.1,1119.4 L749.4,1122.4 L751.7,1125.4 L754.0,1128.4 L756.1,1131.4 L758.1,1134.4 L759.9,1137.4 L761.5,1140.4 L762.8,1143.4 L764.0,1146.4 L764.9,1149.4 L765.5,1152.4 L765.9,1155.4 L766.2,1158.4 L766.3,1161.4 L766.3,1162.0Z" fill="#FF3030"/>
<path d="M792.8,1162.0 L792.9,1159.6 L793.1,1156.6 L793.4,1153.6 L794.0,1150.6 L794.7,1147.6 L795.6,1144.6 L796.7,1141.6 L798.0,1138.6 L799.4,1135.6 L800.9,1132.6 L802.6,1129.6 L804.3,1126.6 L806.2,1123.6 L808.0,1120.6 L809.9,1117.6 L811.8,1114.6 L813.6,1111.6 L815.4,1108.6 L817.1,1105.6 L818.7,1102.6 L820.2,1099.6 L821.6,1096.6 L823.0,1093.6 L824.2,1090.6 L825.3,1087.6 L826.3,1084.6 L827.2,1081.6 L828.0,1078.6 L828.7,1075.6 L829.2,1072.6 L829.7,1069.6 L830.1,1066.6 L830.4,1063.6 L830.7,1060.6 L830.9,1057.6 L831.1,1054.6 L831.2,1051.6 L831.3,1048.6 L831.4,1045.6 L831.4,1042.6 L831.4,1039.6 L831.4,1036.6 L831.4,1033.6 L831.4,1030.6 L831.4,1027.6 L831.4,1024.6 L831.4,1021.6 L831.4,1018.6 L831.4,1015.6 L831.4,1012.6 L831.4,1009.6 L831.4,1006.6 L831.4,1003.6 L831.4,1000.6 L831.4,997.6 L831.4,994.6 L831.4,991.6 L831.4,988.6 L831.4,985.6 L831.4,982.6 L831.3,979.6 L831.2,976.6 L831.1,973.6 L831.0,970.6 L830.8,967.6 L830.6,964.6 L830.4,961.6 L830.1,958.6 L829.9,955.6 L829.6,952.6 L829.3,949.6 L829.0,946.6 L828.7,943.6 L828.4,940.6 L828.1,937.6 L827.8,934.6 L827.5,931.6 L827.3,928.6 L827.0,925.6 L826.8,922.6 L826.5,919.6 L826.3,916.6 L826.1,913.6 L825.9,910.6 L825.8,907.6 L825.6,904.6 L825.5,901.6 L825.4,898.6 L825.3,895.6 L825.2,892.6 L825.1,889.6 L825.1,886.6 L825.1,883.6 L825.1,880.6 L825.1,877.6 L825.1,874.6 L825.1,871.6 L825.1,868.6 L825.2,865.6 L825.2,862.6 L825.3,859.6 L825.4,856.6 L825.5,853.6 L825.5,850.6 L825.6,847.6 L825.7,844.6 L825.8,841.6 L826.0,838.6 L826.1,835.6 L826.2,832.6 L826.4,829.6 L826.5,826.6 L826.7,823.6 L826.9,820.6 L827.0,817.6 L827.2,814.6 L827.4,811.6 L827.6,808.6 L827.8,805.6 L828.0,802.6 L828.2,799.6 L828.4,796.6 L828.5,793.6 L828.7,790.6 L828.8,787.6 L829.0,784.6 L829.1,781.6 L829.2,778.6 L829.4,775.6 L829.5,772.6 L829.7,769.6 L829.8,766.6 L829.9,763.6 L830.0,760.6 L830.1,757.6 L830.2,754.6 L830.3,751.6 L830.4,748.6 L830.5,745.6 L830.5,742.6 L830.6,739.6 L830.7,736.6 L830.7,733.6 L830.8,730.6 L830.8,727.6 L830.9,724.6 L830.9,721.6 L831.0,718.6 L831.0,715.6 L831.1,712.6 L831.1,709.6 L831.1,706.6 L831.1,703.6 L831.2,700.6 L831.2,697.6 L831.2,694.6 L831.2,691.6 L831.2,688.6 L831.3,685.6 L831.3,682.6 L831.3,679.6 L831.3,676.6 L831.3,673.6 L831.3,670.6 L831.4,667.6 L831.4,664.6 L831.4,661.6 L831.4,658.6 L831.4,655.6 L831.4,652.6 L831.4,649.6 L831.4,646.6 L831.5,643.6 L831.5,640.6 L831.5,637.6 L831.5,634.6 L831.5,631.6 L831.5,628.6 L831.5,625.6 L831.5,622.6 L831.5,619.6 L831.5,616.6 L831.6,613.6 L831.6,610.6 L831.6,607.6 L831.6,604.6 L831.6,601.6 L831.6,598.6 L831.6,595.6 L831.6,592.6 L831.6,589.6 L831.6,586.6 L831.6,583.6 L831.6,580.6 L831.6,577.6 L831.6,574.6 L831.6,571.6 L831.6,568.6 L831.7,565.6 L831.7,562.6 L831.7,559.6 L831.7,556.6 L831.7,553.6 L831.7,550.6 L831.7,547.6 L831.7,544.6 L831.7,541.6 L831.7,538.6 L831.7,535.6 L831.7,532.6 L831.7,529.6 L831.7,526.6 L831.7,523.6 L831.7,520.6 L831.7,517.6 L831.7,514.6 L831.7,511.6 L831.7,508.6 L831.7,505.6 L831.7,502.6 L831.7,499.6 L831.7,496.6 L831.7,493.6 L831.8,490.6 L831.8,487.6 L831.8,484.6 L831.8,481.6 L831.8,478.6 L831.8,475.6 L831.8,472.6 L831.8,469.6 L831.8,466.6 L831.8,463.6 L831.8,460.6 L831.8,457.6 L831.8,454.6 L831.8,451.6 L831.8,448.6 L831.8,445.6 L831.8,442.6 L831.8,439.6 L831.8,436.6 L831.8,433.6 L831.8,430.6 L831.8,427.6 L831.8,424.6 L831.8,421.6 L831.8,418.6 L831.8,415.6 L831.8,412.6 L831.8,409.6 L831.8,406.6 L831.8,403.6 L831.8,400.6 L831.8,397.6 L831.8,394.6 L831.8,391.6 L831.8,388.6 L831.8,385.6 L831.8,382.6 L831.9,379.6 L831.9,376.6 L831.9,373.6 L831.9,370.6 L831.9,367.6 L831.9,364.6 L831.9,361.6 L831.9,358.6 L831.9,355.6 L831.9,352.6 L831.9,349.6 L831.9,346.6 L831.9,343.6 L831.9,340.6 L831.9,337.6 L831.9,334.6 L831.9,331.6 L831.9,328.6 L831.9,325.6 L831.9,322.6 L831.9,319.6 L831.9,316.6 L831.9,313.6 L831.9,310.6 L831.9,307.6 L832.5,307.6 L832.5,310.6 L832.5,313.6 L832.5,316.6 L832.5,319.6 L832.5,322.6 L832.5,325.6 L832.5,328.6 L832.5,331.6 L832.5,334.6 L832.5,337.6 L832.5,340.6 L832.5,343.6 L832.5,346.6 L832.5,349.6 L832.5,352.6 L832.5,355.6 L832.5,358.6 L832.5,361.6 L832.5,364.6 L832.5,367.6 L832.5,370.6 L832.5,373.6 L832.5,376.6 L832.5,379.6 L832.5,382.6 L832.5,385.6 L832.5,388.6 L832.5,391.6 L832.5,394.6 L832.5,397.6 L832.5,400.6 L832.5,403.6 L832.5,406.6 L832.5,409.6 L832.5,412.6 L832.5,415.6 L832.5,418.6 L832.5,421.6 L832.5,424.6 L832.5,427.6 L832.5,430.6 L832.5,433.6 L832.5,436.6 L832.5,439.6 L832.5,442.6 L832.5,445.6 L832.5,448.6 L832.5,451.6 L832.6,454.6 L832.6,457.6 L832.6,460.6 L832.6,463.6 L832.6,466.6 L832.6,469.6 L832.6,472.6 L832.6,475.6 L832.6,478.6 L832.6,481.6 L832.6,484.6 L832.6,487.6 L832.6,490.6 L832.6,493.6 L832.6,496.6 L832.6,499.6 L832.6,502.6 L832.6,505.6 L832.6,508.6 L832.6,511.6 L832.6,514.6 L832.6,517.6 L832.6,520.6 L832.6,523.6 L832.6,526.6 L832.6,529.6 L832.6,532.6 L832.6,535.6 L832.7,538.6 L832.7,541.6 L832.7,544.6 L832.7,547.6 L832.7,550.6 L832.7,553.6 L832.7,556.6 L832.7,559.6 L832.7,562.6 L832.7,565.6 L832.7,568.6 L832.7,571.6 L832.7,574.6 L832.7,577.6 L832.7,580.6 L832.7,583.6 L832.7,586.6 L832.7,589.6 L832.7,592.6 L832.7,595.6 L832.8,598.6 L832.8,601.6 L832.8,604.6 L832.8,607.6 L832.8,610.6 L832.8,613.6 L832.8,616.6 L832.8,619.6 L832.8,622.6 L832.8,625.6 L832.8,628.6 L832.8,631.6 L832.9,634.6 L832.9,637.6 L832.9,640.6 L832.9,643.6 L832.9,646.6 L832.9,649.6 L832.9,652.6 L832.9,655.6 L833.0,658.6 L833.0,661.6 L833.0,664.6 L833.0,667.6 L833.0,670.6 L833.0,673.6 L833.0,676.6 L833.1,679.6 L833.1,682.6 L833.1,685.6 L833.1,688.6 L833.1,691.6 L833.1,694.6 L833.2,697.6 L833.2,700.6 L833.2,703.6 L833.2,706.6 L833.3,709.6 L833.3,712.6 L833.3,715.6 L833.4,718.6 L833.4,721.6 L833.5,724.6 L833.5,727.6 L833.6,730.6 L833.6,733.6 L833.7,736.6 L833.8,739.6 L833.8,742.6 L833.9,745.6 L834.0,748.6 L834.0,751.6 L834.1,754.6 L834.2,757.6 L834.3,760.6 L834.4,763.6 L834.5,766.6 L834.7,769.6 L834.8,772.6 L835.0,775.6 L835.1,778.6 L835.2,781.6 L835.4,784.6 L835.5,787.6 L835.7,790.6 L835.8,793.6 L836.0,796.6 L836.2,799.6 L836.3,802.6 L836.5,805.6 L836.7,808.6 L836.9,811.6 L837.1,814.6 L837.3,817.6 L837.5,820.6 L837.7,823.6 L837.8,826.6 L838.0,829.6 L838.1,832.6 L838.3,835.6 L838.4,838.6 L838.5,841.6 L838.6,844.6 L838.7,847.6 L838.8,850.6 L838.9,853.6 L839.0,856.6 L839.0,859.6 L839.1,862.6 L839.2,865.6 L839.2,868.6 L839.2,871.6 L839.3,874.6 L839.3,877.6 L839.3,880.6 L839.3,883.6 L839.3,886.6 L839.2,889.6 L839.2,892.6 L839.1,895.6 L839.0,898.6 L838.8,901.6 L838.7,904.6 L838.6,907.6 L838.4,910.6 L838.2,913.6 L838.0,916.6 L837.8,919.6 L837.6,922.6 L837.3,925.6 L837.1,928.6 L836.8,931.6 L836.5,934.6 L836.2,937.6 L835.9,940.6 L835.6,943.6 L835.3,946.6 L835.0,949.6 L834.7,952.6 L834.5,955.6 L834.2,958.6 L834.0,961.6 L833.8,964.6 L833.6,967.6 L833.4,970.6 L833.2,973.6 L833.1,976.6 L833.0,979.6 L833.0,982.6 L832.9,985.6 L832.9,988.6 L832.9,991.6 L832.9,994.6 L832.9,997.6 L833.0,1000.6 L833.0,1003.6 L833.0,1006.6 L833.0,1009.6 L833.0,1012.6 L833.0,1015.6 L833.0,1018.6 L833.0,1021.6 L833.0,1024.6 L833.0,1027.6 L833.0,1030.6 L833.0,1033.6 L832.9,1036.6 L832.9,1039.6 L832.9,1042.6 L833.0,1045.6 L833.0,1048.6 L833.1,1051.6 L833.3,1054.6 L833.4,1057.6 L833.6,1060.6 L833.9,1063.6 L834.2,1066.6 L834.6,1069.6 L835.1,1072.6 L835.7,1075.6 L836.4,1078.6 L837.1,1081.6 L838.0,1084.6 L839.0,1087.6 L840.2,1090.6 L841.4,1093.6 L842.7,1096.6 L844.1,1099.6 L845.7,1102.6 L847.3,1105.6 L849.0,1108.6 L850.8,1111.6 L852.6,1114.6 L854.4,1117.6 L856.3,1120.6 L858.2,1123.6 L860.0,1126.6 L861.7,1129.6 L863.4,1132.6 L865.0,1135.6 L866.4,1138.6 L867.6,1141.6 L868.7,1144.6 L869.6,1147.6 L870.4,1150.6 L870.9,1153.6 L871.3,1156.6 L871.5,1159.6 L871.6,1162.0Z" fill="#7EC0EE"/>
<path d="M871.7,1162.0 L871.8,1159.9 L872.1,1156.9 L872.5,1153.9 L873.2,1150.9 L874.1,1147.9 L875.2,1144.9 L876.6,1141.9 L878.2,1138.9 L880.0,1135.9 L881.9,1132.9 L884.0,1129.9 L886.1,1126.9 L888.3,1123.9 L890.5,1120.9 L892.6,1117.9 L894.7,1114.9 L896.7,1111.9 L898.6,1108.9 L900.3,1105.9 L901.9,1102.9 L903.3,1099.9 L904.6,1096.9 L905.7,1093.9 L906.6,1090.9 L907.5,1087.9 L908.1,1084.9 L908.7,1081.9 L909.2,1078.9 L909.5,1075.9 L909.8,1072.9 L910.0,1069.9 L910.1,1066.9 L910.2,1063.9 L910.3,1060.9 L910.4,1057.9 L910.4,1054.9 L910.4,1051.9 L910.4,1048.9 L910.4,1045.9 L910.4,1042.9 L910.4,1039.9 L910.4,1036.9 L910.4,1033.9 L910.4,1030.9 L910.4,1027.9 L910.4,1024.9 L910.4,1021.9 L910.4,1018.9 L910.4,1015.9 L910.4,1012.9 L910.4,1009.9 L910.4,1006.9 L910.4,1003.9 L910.4,1000.9 L910.4,997.9 L910.4,994.9 L910.4,991.9 L910.4,988.9 L910.3,985.9 L910.2,982.9 L910.2,979.9 L910.1,976.9 L910.0,973.9 L909.9,970.9 L909.8,967.9 L909.7,964.9 L909.5,961.9 L909.3,958.9 L909.1,955.9 L908.9,952.9 L908.6,949.9 L908.4,946.9 L908.1,943.9 L907.9,940.9 L907.7,937.9 L907.4,934.9 L907.2,931.9 L907.1,928.9 L906.9,925.9 L906.7,922.9 L906.5,919.9 L906.3,916.9 L906.2,913.9 L906.0,910.9 L905.8,907.9 L905.7,904.9 L905.5,901.9 L905.5,898.9 L905.4,895.9 L905.4,892.9 L905.3,889.9 L905.4,886.9 L905.4,883.9 L905.4,880.9 L905.5,877.9 L905.6,874.9 L905.6,871.9 L905.7,868.9 L905.8,865.9 L905.8,862.9 L905.9,859.9 L906.0,856.9 L906.1,853.9 L906.2,850.9 L906.4,847.9 L906.5,844.9 L906.6,841.9 L906.8,838.9 L906.9,835.9 L907.1,832.9 L907.3,829.9 L907.4,826.9 L907.6,823.9 L907.8,820.9 L908.0,817.9 L908.2,814.9 L908.4,811.9 L908.6,808.9 L908.8,805.9 L909.0,802.9 L909.1,799.9 L909.2,796.9 L909.4,793.9 L909.5,790.9 L909.6,787.9 L909.7,784.9 L909.8,781.9 L909.9,778.9 L910.0,775.9 L910.1,772.9 L910.1,769.9 L910.2,766.9 L910.2,763.9 L910.2,760.9 L910.3,757.9 L910.3,754.9 L910.4,751.9 L910.4,748.9 L910.4,745.9 L910.5,742.9 L910.5,739.9 L910.5,736.9 L910.5,733.9 L910.6,730.9 L910.6,727.9 L910.6,724.9 L910.6,721.9 L910.7,718.9 L910.7,715.9 L910.7,712.9 L910.7,709.9 L910.7,706.9 L910.7,703.9 L910.7,700.9 L910.7,697.9 L910.7,694.9 L910.7,691.9 L910.7,688.9 L910.7,685.9 L910.7,682.9 L910.7,679.9 L910.7,676.9 L910.7,673.9 L910.7,670.9 L910.7,667.9 L910.8,664.9 L910.8,661.9 L910.8,658.9 L910.8,655.9 L910.8,652.9 L910.8,649.9 L910.8,646.9 L910.8,643.9 L910.8,640.9 L910.8,637.9 L910.8,634.9 L910.8,631.9 L910.8,628.9 L910.8,625.9 L910.8,622.9 L910.8,619.9 L910.8,616.9 L910.8,613.9 L910.8,610.9 L910.8,607.9 L910.8,604.9 L910.8,601.9 L910.8,598.9 L910.8,595.9 L910.8,592.9 L910.8,589.9 L910.8,586.9 L910.8,583.9 L910.8,580.9 L910.8,577.9 L910.8,574.9 L910.8,571.9 L910.8,568.9 L910.8,565.9 L910.8,562.9 L910.8,559.9 L910.8,556.9 L910.8,553.9 L910.8,550.9 L910.8,547.9 L910.8,544.9 L910.8,541.9 L910.8,538.9 L910.8,535.9 L910.8,532.9 L910.8,529.9 L910.8,526.9 L910.8,523.9 L910.8,520.9 L910.8,517.9 L910.8,514.9 L910.8,511.9 L910.8,508.9 L910.8,505.9 L910.8,502.9 L910.8,499.9 L910.8,496.9 L910.8,493.9 L910.8,490.9 L910.8,487.9 L910.8,484.9 L910.8,481.9 L910.8,478.9 L910.8,475.9 L910.8,472.9 L910.8,469.9 L911.4,469.9 L911.4,472.9 L911.4,475.9 L911.4,478.9 L911.4,481.9 L911.4,484.9 L911.4,487.9 L911.4,490.9 L911.4,493.9 L911.4,496.9 L911.4,499.9 L911.4,502.9 L911.4,505.9 L911.4,508.9 L911.4,511.9 L911.4,514.9 L911.4,517.9 L911.4,520.9 L911.4,523.9 L911.4,526.9 L911.4,529.9 L911.4,532.9 L911.4,535.9 L911.4,538.9 L911.4,541.9 L911.4,544.9 L911.4,547.9 L911.4,550.9 L911.4,553.9 L911.4,556.9 L911.4,559.9 L911.4,562.9 L911.4,565.9 L911.4,568.9 L911.4,571.9 L911.4,574.9 L911.4,577.9 L911.4,580.9 L911.4,583.9 L911.4,586.9 L911.4,589.9 L911.4,592.9 L911.4,595.9 L911.4,598.9 L911.4,601.9 L911.5,604.9 L911.5,607.9 L911.5,610.9 L911.5,613.9 L911.5,616.9 L911.5,619.9 L911.5,622.9 L911.5,625.9 L911.5,628.9 L911.5,631.9 L911.5,634.9 L911.5,637.9 L911.5,640.9 L911.5,643.9 L911.5,646.9 L911.5,649.9 L911.5,652.9 L911.5,655.9 L911.5,658.9 L911.5,661.9 L911.5,664.9 L911.5,667.9 L911.5,670.9 L911.5,673.9 L911.5,676.9 L911.5,679.9 L911.5,682.9 L911.5,685.9 L911.5,688.9 L911.5,691.9 L911.5,694.9 L911.5,697.9 L911.5,700.9 L911.5,703.9 L911.5,706.9 L911.5,709.9 L911.6,712.9 L911.6,715.9 L911.6,718.9 L911.6,721.9 L911.6,724.9 L911.6,727.9 L911.7,730.9 L911.7,733.9 L911.7,736.9 L911.7,739.9 L911.8,742.9 L911.8,745.9 L911.8,748.9 L911.9,751.9 L911.9,754.9 L912.0,757.9 L912.0,760.9 L912.0,763.9 L912.1,766.9 L912.1,769.9 L912.2,772.9 L912.2,775.9 L912.3,778.9 L912.4,781.9 L912.5,784.9 L912.6,787.9 L912.7,790.9 L912.9,793.9 L913.0,796.9 L913.1,799.9 L913.3,802.9 L913.4,805.9 L913.6,808.9 L913.8,811.9 L914.0,814.9 L914.2,817.9 L914.4,820.9 L914.6,823.9 L914.8,826.9 L915.0,829.9 L915.1,832.9 L915.3,835.9 L915.5,838.9 L915.6,841.9 L915.8,844.9 L915.9,847.9 L916.0,850.9 L916.1,853.9 L916.2,856.9 L916.3,859.9 L916.4,862.9 L916.5,865.9 L916.5,868.9 L916.6,871.9 L916.7,874.9 L916.7,877.9 L916.8,880.9 L916.9,883.9 L916.9,886.9 L916.9,889.9 L916.9,892.9 L916.8,895.9 L916.8,898.9 L916.7,901.9 L916.6,904.9 L916.4,907.9 L916.3,910.9 L916.1,913.9 L915.9,916.9 L915.7,919.9 L915.6,922.9 L915.4,925.9 L915.2,928.9 L915.0,931.9 L914.8,934.9 L914.6,937.9 L914.4,940.9 L914.1,943.9 L913.9,946.9 L913.6,949.9 L913.4,952.9 L913.1,955.9 L912.9,958.9 L912.7,961.9 L912.6,964.9 L912.4,967.9 L912.3,970.9 L912.2,973.9 L912.2,976.9 L912.1,979.9 L912.0,982.9 L911.9,985.9 L911.9,988.9 L911.8,991.9 L911.8,994.9 L911.8,997.9 L911.8,1000.9 L911.8,1003.9 L911.8,1006.9 L911.8,1009.9 L911.8,1012.9 L911.8,1015.9 L911.8,1018.9 L911.8,1021.9 L911.8,1024.9 L911.8,1027.9 L911.8,1030.9 L911.8,1033.9 L911.8,1036.9 L911.8,1039.9 L911.8,1042.9 L911.8,1045.9 L911.8,1048.9 L911.8,1051.9 L911.8,1054.9 L911.9,1057.9 L911.9,1060.9 L912.0,1063.9 L912.1,1066.9 L912.2,1069.9 L912.5,1072.9 L912.7,1075.9 L913.1,1078.9 L913.5,1081.9 L914.1,1084.9 L914.8,1087.9 L915.6,1090.9 L916.6,1093.9 L917.7,1096.9 L918.9,1099.9 L920.4,1102.9 L921.9,1105.9 L923.7,1108.9 L925.6,1111.9 L927.5,1114.9 L929.6,1117.9 L931.8,1120.9 L934.0,1123.9 L936.1,1126.9 L938.3,1129.9 L940.3,1132.9 L942.3,1135.9 L944.0,1138.9 L945.6,1141.9 L947.0,1144.9 L948.2,1147.9 L949.1,1150.9 L949.7,1153.9 L950.2,1156.9 L950.4,1159.9 L950.5,1162.0Z" fill="#436EEE"/>
<path d="M950.7,1162.0 L950.7,1160.8 L950.8,1157.8 L951.2,1154.8 L951.7,1151.8 L952.4,1148.8 L953.5,1145.8 L954.7,1142.8 L956.2,1139.8 L958.0,1136.8 L959.9,1133.8 L962.1,1130.8 L964.3,1127.8 L966.6,1124.8 L969.0,1121.8 L971.3,1118.8 L973.6,1115.8 L975.8,1112.8 L977.8,1109.8 L979.7,1106.8 L981.4,1103.8 L983.0,1100.8 L984.3,1097.8 L985.5,1094.8 L986.4,1091.8 L987.2,1088.8 L987.8,1085.8 L988.3,1082.8 L988.6,1079.8 L988.8,1076.8 L989.0,1073.8 L989.1,1070.8 L989.3,1067.8 L989.3,1064.8 L989.4,1061.8 L989.4,1058.8 L989.4,1055.8 L989.4,1052.8 L989.4,1049.8 L989.4,1046.8 L989.4,1043.8 L989.4,1040.8 L989.3,1037.8 L989.3,1034.8 L989.2,1031.8 L989.0,1028.8 L988.8,1025.8 L988.5,1022.8 L988.0,1019.8 L987.5,1016.8 L987.0,1013.8 L986.5,1010.8 L986.1,1007.8 L985.6,1004.8 L985.2,1001.8 L984.8,998.8 L984.4,995.8 L984.0,992.8 L983.6,989.8 L983.1,986.8 L982.7,983.8 L982.3,980.8 L981.9,977.8 L981.6,974.8 L981.2,971.8 L980.9,968.8 L980.6,965.8 L980.3,962.8 L980.1,959.8 L979.9,956.8 L979.7,953.8 L979.6,950.8 L979.5,947.8 L979.4,944.8 L979.4,941.8 L979.4,938.8 L979.4,935.8 L979.5,932.8 L979.6,929.8 L979.7,926.8 L979.8,923.8 L980.0,920.8 L980.1,917.8 L980.3,914.8 L980.5,911.8 L980.7,908.8 L981.0,905.8 L981.3,902.8 L981.5,899.8 L981.8,896.8 L982.1,893.8 L982.4,890.8 L982.7,887.8 L983.1,884.8 L983.4,881.8 L983.7,878.8 L984.0,875.8 L984.3,872.8 L984.6,869.8 L984.9,866.8 L985.1,863.8 L985.4,860.8 L985.5,857.8 L985.7,854.8 L985.9,851.8 L986.0,848.8 L986.2,845.8 L986.3,842.8 L986.5,839.8 L986.6,836.8 L986.8,833.8 L986.9,830.8 L987.0,827.8 L987.1,824.8 L987.1,821.8 L987.2,818.8 L987.2,815.8 L987.3,812.8 L987.3,809.8 L987.4,806.8 L987.4,803.8 L987.5,800.8 L987.5,797.8 L987.6,794.8 L987.7,791.8 L987.8,788.8 L987.9,785.8 L988.0,782.8 L988.1,779.8 L988.2,776.8 L988.3,773.8 L988.3,770.8 L988.4,767.8 L988.5,764.8 L988.6,761.8 L988.6,758.8 L988.7,755.8 L988.8,752.8 L988.8,749.8 L988.9,746.8 L989.0,743.8 L989.0,740.8 L989.1,737.8 L989.1,734.8 L989.2,731.8 L989.3,728.8 L989.3,725.8 L989.3,722.8 L989.4,719.8 L989.4,716.8 L989.5,713.8 L989.5,710.8 L989.5,707.8 L989.5,704.8 L989.6,701.8 L989.6,698.8 L989.6,695.8 L989.6,692.8 L989.6,689.8 L989.6,686.8 L989.6,683.8 L989.6,680.8 L989.6,677.8 L989.6,674.8 L989.6,671.8 L989.6,668.8 L989.7,665.8 L989.7,662.8 L989.7,659.8 L989.7,656.8 L989.7,653.8 L989.7,650.8 L989.7,647.8 L989.7,644.8 L989.7,641.8 L989.7,638.8 L989.7,635.8 L989.7,632.8 L989.7,629.8 L989.7,626.8 L989.7,623.8 L989.7,620.8 L989.7,617.8 L989.7,614.8 L989.7,611.8 L989.7,608.8 L989.7,605.8 L989.8,602.8 L989.8,599.8 L989.8,596.8 L989.8,593.8 L989.8,590.8 L989.8,587.8 L989.8,584.8 L989.8,581.8 L989.8,578.8 L989.8,575.8 L989.8,572.8 L989.8,569.8 L989.8,566.8 L989.8,563.8 L989.8,560.8 L990.4,560.8 L990.4,563.8 L990.4,566.8 L990.4,569.8 L990.4,572.8 L990.4,575.8 L990.4,578.8 L990.4,581.8 L990.4,584.8 L990.4,587.8 L990.4,590.8 L990.4,593.8 L990.4,596.8 L990.4,599.8 L990.4,602.8 L990.4,605.8 L990.4,608.8 L990.4,611.8 L990.4,614.8 L990.4,617.8 L990.4,620.8 L990.4,623.8 L990.4,626.8 L990.4,629.8 L990.4,632.8 L990.4,635.8 L990.4,638.8 L990.4,641.8 L990.4,644.8 L990.4,647.8 L990.5,650.8 L990.5,653.8 L990.5,656.8 L990.5,659.8 L990.5,662.8 L990.5,665.8 L990.5,668.8 L990.5,671.8 L990.5,674.8 L990.5,677.8 L990.5,680.8 L990.5,683.8 L990.5,686.8 L990.5,689.8 L990.5,692.8 L990.6,695.8 L990.6,698.8 L990.6,701.8 L990.6,704.8 L990.6,707.8 L990.6,710.8 L990.7,713.8 L990.7,716.8 L990.7,719.8 L990.8,722.8 L990.8,725.8 L990.9,728.8 L990.9,731.8 L991.0,734.8 L991.1,737.8 L991.1,740.8 L991.2,743.8 L991.2,746.8 L991.3,749.8 L991.4,752.8 L991.4,755.8 L991.5,758.8 L991.6,761.8 L991.6,764.8 L991.7,767.8 L991.8,770.8 L991.9,773.8 L992.0,776.8 L992.1,779.8 L992.2,782.8 L992.3,785.8 L992.4,788.8 L992.4,791.8 L992.5,794.8 L992.6,797.8 L992.7,800.8 L992.7,803.8 L992.8,806.8 L992.8,809.8 L992.9,812.8 L992.9,815.8 L992.9,818.8 L993.0,821.8 L993.1,824.8 L993.1,827.8 L993.2,830.8 L993.4,833.8 L993.5,836.8 L993.6,839.8 L993.8,842.8 L993.9,845.8 L994.1,848.8 L994.3,851.8 L994.4,854.8 L994.6,857.8 L994.8,860.8 L995.0,863.8 L995.2,866.8 L995.5,869.8 L995.8,872.8 L996.1,875.8 L996.4,878.8 L996.7,881.8 L997.1,884.8 L997.4,887.8 L997.7,890.8 L998.0,893.8 L998.3,896.8 L998.6,899.8 L998.9,902.8 L999.2,905.8 L999.4,908.8 L999.6,911.8 L999.8,914.8 L1000.0,917.8 L1000.2,920.8 L1000.3,923.8 L1000.4,926.8 L1000.5,929.8 L1000.6,932.8 L1000.7,935.8 L1000.7,938.8 L1000.7,941.8 L1000.7,944.8 L1000.6,947.8 L1000.5,950.8 L1000.4,953.8 L1000.2,956.8 L1000.0,959.8 L999.8,962.8 L999.5,965.8 L999.2,968.8 L998.9,971.8 L998.6,974.8 L998.2,977.8 L997.8,980.8 L997.4,983.8 L997.0,986.8 L996.6,989.8 L996.2,992.8 L995.7,995.8 L995.3,998.8 L994.9,1001.8 L994.5,1004.8 L994.1,1007.8 L993.6,1010.8 L993.1,1013.8 L992.6,1016.8 L992.1,1019.8 L991.7,1022.8 L991.4,1025.8 L991.1,1028.8 L991.0,1031.8 L990.9,1034.8 L990.8,1037.8 L990.8,1040.8 L990.7,1043.8 L990.7,1046.8 L990.7,1049.8 L990.7,1052.8 L990.7,1055.8 L990.7,1058.8 L990.8,1061.8 L990.8,1064.8 L990.9,1067.8 L991.0,1070.8 L991.1,1073.8 L991.3,1076.8 L991.6,1079.8 L991.9,1082.8 L992.3,1085.8 L992.9,1088.8 L993.7,1091.8 L994.7,1094.8 L995.8,1097.8 L997.2,1100.8 L998.7,1103.8 L1000.4,1106.8 L1002.3,1109.8 L1004.4,1112.8 L1006.5,1115.8 L1008.8,1118.8 L1011.2,1121.8 L1013.5,1124.8 L1015.8,1127.8 L1018.1,1130.8 L1020.2,1133.8 L1022.1,1136.8 L1023.9,1139.8 L1025.4,1142.8 L1026.7,1145.8 L1027.7,1148.8 L1028.4,1151.8 L1029.0,1154.8 L1029.3,1157.8 L1029.4,1160.8 L1029.5,1162.0Z" fill="#FF3030"/>
<path d="M1055.9,1162.0 L1056.0,1161.2 L1056.1,1158.2 L1056.3,1155.2 L1056.7,1152.2 L1057.4,1149.2 L1058.2,1146.2 L1059.3,1143.2 L1060.6,1140.2 L1062.1,1137.2 L1063.8,1134.2 L1065.7,1131.2 L1067.7,1128.2 L1069.9,1125.2 L1072.0,1122.2 L1074.2,1119.2 L1076.4,1116.2 L1078.6,1113.2 L1080.6,1110.2 L1082.6,1107.2 L1084.4,1104.2 L1086.0,1101.2 L1087.5,1098.2 L1088.9,1095.2 L1090.0,1092.2 L1091.0,1089.2 L1091.8,1086.2 L1092.5,1083.2 L1093.0,1080.2 L1093.5,1077.2 L1093.8,1074.2 L1094.1,1071.2 L1094.3,1068.2 L1094.4,1065.2 L1094.5,1062.2 L1094.6,1059.2 L1094.6,1056.2 L1094.5,1053.2 L1094.5,1050.2 L1094.4,1047.2 L1094.2,1044.2 L1094.1,1041.2 L1093.9,1038.2 L1093.7,1035.2 L1093.5,1032.2 L1093.3,1029.2 L1093.1,1026.2 L1092.8,1023.2 L1092.5,1020.2 L1092.2,1017.2 L1091.9,1014.2 L1091.6,1011.2 L1091.4,1008.2 L1091.2,1005.2 L1091.0,1002.2 L1090.8,999.2 L1090.5,996.2 L1090.3,993.2 L1090.1,990.2 L1089.8,987.2 L1089.6,984.2 L1089.4,981.2 L1089.2,978.2 L1089.0,975.2 L1088.8,972.2 L1088.7,969.2 L1088.5,966.2 L1088.3,963.2 L1088.2,960.2 L1088.1,957.2 L1088.0,954.2 L1087.9,951.2 L1087.8,948.2 L1087.8,945.2 L1087.7,942.2 L1087.6,939.2 L1087.6,936.2 L1087.6,933.2 L1087.5,930.2 L1087.5,927.2 L1087.5,924.2 L1087.5,921.2 L1087.6,918.2 L1087.6,915.2 L1087.6,912.2 L1087.6,909.2 L1087.6,906.2 L1087.6,903.2 L1087.7,900.2 L1087.7,897.2 L1087.8,894.2 L1087.8,891.2 L1087.9,888.2 L1088.0,885.2 L1088.1,882.2 L1088.2,879.2 L1088.2,876.2 L1088.4,873.2 L1088.5,870.2 L1088.6,867.2 L1088.7,864.2 L1088.9,861.2 L1089.0,858.2 L1089.1,855.2 L1089.3,852.2 L1089.4,849.2 L1089.5,846.2 L1089.6,843.2 L1089.8,840.2 L1089.9,837.2 L1090.0,834.2 L1090.1,831.2 L1090.2,828.2 L1090.3,825.2 L1090.5,822.2 L1090.6,819.2 L1090.7,816.2 L1090.9,813.2 L1091.0,810.2 L1091.1,807.2 L1091.2,804.2 L1091.4,801.2 L1091.5,798.2 L1091.7,795.2 L1091.8,792.2 L1091.9,789.2 L1092.1,786.2 L1092.2,783.2 L1092.3,780.2 L1092.4,777.2 L1092.5,774.2 L1092.7,771.2 L1092.8,768.2 L1092.9,765.2 L1093.0,762.2 L1093.1,759.2 L1093.2,756.2 L1093.2,753.2 L1093.3,750.2 L1093.4,747.2 L1093.5,744.2 L1093.5,741.2 L1093.6,738.2 L1093.7,735.2 L1093.7,732.2 L1093.7,729.2 L1093.8,726.2 L1093.8,723.2 L1093.9,720.2 L1093.9,717.2 L1094.0,714.2 L1094.0,711.2 L1094.1,708.2 L1094.1,705.2 L1094.1,702.2 L1094.2,699.2 L1094.2,696.2 L1094.3,693.2 L1094.3,690.2 L1094.3,687.2 L1094.4,684.2 L1094.4,681.2 L1094.4,678.2 L1094.5,675.2 L1094.5,672.2 L1094.5,669.2 L1094.6,666.2 L1094.6,663.2 L1094.6,660.2 L1094.6,657.2 L1094.7,654.2 L1094.7,651.2 L1094.7,648.2 L1094.7,645.2 L1094.8,642.2 L1094.8,639.2 L1094.8,636.2 L1094.8,633.2 L1094.8,630.2 L1094.8,627.2 L1094.9,624.2 L1094.9,621.2 L1094.9,618.2 L1094.9,615.2 L1094.9,612.2 L1094.9,609.2 L1094.9,606.2 L1094.9,603.2 L1094.9,600.2 L1094.9,597.2 L1094.9,594.2 L1094.9,591.2 L1094.9,588.2 L1094.9,585.2 L1094.9,582.2 L1095.0,579.2 L1095.0,576.2 L1095.0,573.2 L1095.0,570.2 L1095.0,567.2 L1095.0,564.2 L1095.0,561.2 L1095.0,558.2 L1095.0,555.2 L1095.0,552.2 L1095.0,549.2 L1095.0,546.2 L1095.0,543.2 L1095.0,540.2 L1095.0,537.2 L1095.0,534.2 L1095.0,531.2 L1095.0,528.2 L1095.0,525.2 L1095.0,522.2 L1095.0,519.2 L1095.0,516.2 L1095.0,513.2 L1095.0,510.2 L1095.0,507.2 L1095.0,504.2 L1095.0,501.2 L1095.0,498.2 L1095.0,495.2 L1095.0,492.2 L1095.0,489.2 L1095.0,486.2 L1095.0,483.2 L1095.0,480.2 L1095.0,477.2 L1095.0,474.2 L1095.0,471.2 L1095.0,468.2 L1095.0,465.2 L1095.0,462.2 L1095.0,459.2 L1095.0,456.2 L1095.0,453.2 L1095.0,450.2 L1095.0,447.2 L1095.0,444.2 L1095.0,441.2 L1095.0,438.2 L1095.0,435.2 L1095.0,432.2 L1095.0,429.2 L1095.0,426.2 L1095.0,423.2 L1095.0,420.2 L1095.0,417.2 L1095.0,414.2 L1095.0,411.2 L1095.0,408.2 L1095.0,405.2 L1095.0,402.2 L1095.0,399.2 L1095.0,396.2 L1095.0,393.2 L1095.0,390.2 L1095.6,390.2 L1095.6,393.2 L1095.6,396.2 L1095.6,399.2 L1095.6,402.2 L1095.6,405.2 L1095.6,408.2 L1095.6,411.2 L1095.6,414.2 L1095.6,417.2 L1095.6,420.2 L1095.6,423.2 L1095.6,426.2 L1095.6,429.2 L1095.6,432.2 L1095.6,435.2 L1095.6,438.2 L1095.6,441.2 L1095.6,444.2 L1095.6,447.2 L1095.6,450.2 L1095.6,453.2 L1095.6,456.2 L1095.6,459.2 L1095.6,462.2 L1095.6,465.2 L1095.6,468.2 L1095.6,471.2 L1095.6,474.2 L1095.6,477.2 L1095.7,480.2 L1095.7,483.2 L1095.7,486.2 L1095.7,489.2 L1095.7,492.2 L1095.7,495.2 L1095.7,498.2 L1095.7,501.2 L1095.7,504.2 L1095.7,507.2 L1095.7,510.2 L1095.7,513.2 L1095.7,516.2 L1095.7,519.2 L1095.7,522.2 L1095.7,525.2 L1095.7,528.2 L1095.7,531.2 L1095.7,534.2 L1095.7,537.2 L1095.7,540.2 L1095.7,543.2 L1095.7,546.2 L1095.7,549.2 L1095.7,552.2 L1095.7,555.2 L1095.7,558.2 L1095.7,561.2 L1095.7,564.2 L1095.7,567.2 L1095.7,570.2 L1095.7,573.2 L1095.7,576.2 L1095.7,579.2 L1095.7,582.2 L1095.7,585.2 L1095.7,588.2 L1095.7,591.2 L1095.7,594.2 L1095.7,597.2 L1095.7,600.2 L1095.7,603.2 L1095.7,606.2 L1095.7,609.2 L1095.8,612.2 L1095.8,615.2 L1095.8,618.2 L1095.8,621.2 L1095.8,624.2 L1095.8,627.2 L1095.8,630.2 L1095.8,633.2 L1095.9,636.2 L1095.9,639.2 L1095.9,642.2 L1095.9,645.2 L1095.9,648.2 L1096.0,651.2 L1096.0,654.2 L1096.0,657.2 L1096.1,660.2 L1096.1,663.2 L1096.1,666.2 L1096.1,669.2 L1096.2,672.2 L1096.2,675.2 L1096.2,678.2 L1096.3,681.2 L1096.3,684.2 L1096.3,687.2 L1096.4,690.2 L1096.4,693.2 L1096.4,696.2 L1096.5,699.2 L1096.5,702.2 L1096.6,705.2 L1096.6,708.2 L1096.6,711.2 L1096.7,714.2 L1096.7,717.2 L1096.8,720.2 L1096.8,723.2 L1096.9,726.2 L1096.9,729.2 L1097.0,732.2 L1097.0,735.2 L1097.1,738.2 L1097.1,741.2 L1097.2,744.2 L1097.3,747.2 L1097.3,750.2 L1097.4,753.2 L1097.5,756.2 L1097.6,759.2 L1097.7,762.2 L1097.8,765.2 L1097.9,768.2 L1098.0,771.2 L1098.1,774.2 L1098.2,777.2 L1098.3,780.2 L1098.5,783.2 L1098.6,786.2 L1098.7,789.2 L1098.9,792.2 L1099.0,795.2 L1099.1,798.2 L1099.3,801.2 L1099.4,804.2 L1099.5,807.2 L1099.7,810.2 L1099.8,813.2 L1099.9,816.2 L1100.1,819.2 L1100.2,822.2 L1100.3,825.2 L1100.4,828.2 L1100.6,831.2 L1100.7,834.2 L1100.8,837.2 L1100.9,840.2 L1101.0,843.2 L1101.1,846.2 L1101.3,849.2 L1101.4,852.2 L1101.5,855.2 L1101.7,858.2 L1101.8,861.2 L1101.9,864.2 L1102.1,867.2 L1102.2,870.2 L1102.3,873.2 L1102.4,876.2 L1102.5,879.2 L1102.6,882.2 L1102.7,885.2 L1102.8,888.2 L1102.8,891.2 L1102.9,894.2 L1103.0,897.2 L1103.0,900.2 L1103.0,903.2 L1103.1,906.2 L1103.1,909.2 L1103.1,912.2 L1103.1,915.2 L1103.1,918.2 L1103.1,921.2 L1103.1,924.2 L1103.1,927.2 L1103.1,930.2 L1103.1,933.2 L1103.1,936.2 L1103.0,939.2 L1103.0,942.2 L1102.9,945.2 L1102.8,948.2 L1102.8,951.2 L1102.7,954.2 L1102.6,957.2 L1102.5,960.2 L1102.3,963.2 L1102.2,966.2 L1102.0,969.2 L1101.8,972.2 L1101.6,975.2 L1101.4,978.2 L1101.3,981.2 L1101.0,984.2 L1100.8,987.2 L1100.6,990.2 L1100.4,993.2 L1100.1,996.2 L1099.9,999.2 L1099.7,1002.2 L1099.5,1005.2 L1099.3,1008.2 L1099.0,1011.2 L1098.8,1014.2 L1098.5,1017.2 L1098.2,1020.2 L1097.9,1023.2 L1097.6,1026.2 L1097.4,1029.2 L1097.1,1032.2 L1096.9,1035.2 L1096.7,1038.2 L1096.6,1041.2 L1096.4,1044.2 L1096.3,1047.2 L1096.2,1050.2 L1096.1,1053.2 L1096.1,1056.2 L1096.1,1059.2 L1096.1,1062.2 L1096.2,1065.2 L1096.4,1068.2 L1096.6,1071.2 L1096.8,1074.2 L1097.2,1077.2 L1097.6,1080.2 L1098.2,1083.2 L1098.8,1086.2 L1099.7,1089.2 L1100.6,1092.2 L1101.8,1095.2 L1103.1,1098.2 L1104.6,1101.2 L1106.3,1104.2 L1108.1,1107.2 L1110.0,1110.2 L1112.1,1113.2 L1114.2,1116.2 L1116.4,1119.2 L1118.6,1122.2 L1120.8,1125.2 L1122.9,1128.2 L1124.9,1131.2 L1126.8,1134.2 L1128.5,1137.2 L1130.1,1140.2 L1131.4,1143.2 L1132.4,1146.2 L1133.3,1149.2 L1133.9,1152.2 L1134.4,1155.2 L1134.6,1158.2 L1134.7,1161.2 L1134.7,1162.0Z" fill="#7EC0EE"/>
<path d="M1134.9,1162.0 L1134.9,1160.0 L1135.1,1157.0 L1135.5,1154.0 L1136.0,1151.0 L1136.8,1148.0 L1137.8,1145.0 L1139.1,1142.0 L1140.6,1139.0 L1142.3,1136.0 L1144.1,1133.0 L1146.2,1130.0 L1148.3,1127.0 L1150.6,1124.0 L1152.8,1121.0 L1155.1,1118.0 L1157.3,1115.0 L1159.4,1112.0 L1161.4,1109.0 L1163.3,1106.0 L1165.0,1103.0 L1166.6,1100.0 L1167.9,1097.0 L1169.1,1094.0 L1170.1,1091.0 L1171.0,1088.0 L1171.7,1085.0 L1172.3,1082.0 L1172.7,1079.0 L1173.0,1076.0 L1173.3,1073.0 L1173.4,1070.0 L1173.5,1067.0 L1173.6,1064.0 L1173.6,1061.0 L1173.5,1058.0 L1173.5,1055.0 L1173.4,1052.0 L1173.3,1049.0 L1173.1,1046.0 L1172.9,1043.0 L1172.7,1040.0 L1172.5,1037.0 L1172.2,1034.0 L1172.0,1031.0 L1171.7,1028.0 L1171.4,1025.0 L1171.1,1022.0 L1170.9,1019.0 L1170.6,1016.0 L1170.3,1013.0 L1170.1,1010.0 L1169.8,1007.0 L1169.6,1004.0 L1169.4,1001.0 L1169.1,998.0 L1168.9,995.0 L1168.8,992.0 L1168.6,989.0 L1168.4,986.0 L1168.2,983.0 L1168.1,980.0 L1167.9,977.0 L1167.8,974.0 L1167.6,971.0 L1167.5,968.0 L1167.4,965.0 L1167.2,962.0 L1167.1,959.0 L1167.1,956.0 L1167.0,953.0 L1166.9,950.0 L1166.9,947.0 L1166.8,944.0 L1166.8,941.0 L1166.8,938.0 L1166.7,935.0 L1166.7,932.0 L1166.7,929.0 L1166.7,926.0 L1166.7,923.0 L1166.7,920.0 L1166.8,917.0 L1166.8,914.0 L1166.8,911.0 L1166.9,908.0 L1166.9,905.0 L1167.0,902.0 L1167.0,899.0 L1167.1,896.0 L1167.2,893.0 L1167.3,890.0 L1167.3,887.0 L1167.4,884.0 L1167.5,881.0 L1167.6,878.0 L1167.8,875.0 L1167.9,872.0 L1168.0,869.0 L1168.2,866.0 L1168.3,863.0 L1168.5,860.0 L1168.7,857.0 L1168.8,854.0 L1169.0,851.0 L1169.1,848.0 L1169.2,845.0 L1169.4,842.0 L1169.5,839.0 L1169.6,836.0 L1169.8,833.0 L1169.9,830.0 L1170.0,827.0 L1170.1,824.0 L1170.3,821.0 L1170.4,818.0 L1170.5,815.0 L1170.7,812.0 L1170.8,809.0 L1170.9,806.0 L1171.1,803.0 L1171.2,800.0 L1171.3,797.0 L1171.4,794.0 L1171.5,791.0 L1171.6,788.0 L1171.7,785.0 L1171.8,782.0 L1171.9,779.0 L1172.0,776.0 L1172.1,773.0 L1172.2,770.0 L1172.3,767.0 L1172.4,764.0 L1172.5,761.0 L1172.6,758.0 L1172.6,755.0 L1172.7,752.0 L1172.7,749.0 L1172.7,746.0 L1172.8,743.0 L1172.8,740.0 L1172.9,737.0 L1172.9,734.0 L1172.9,731.0 L1173.0,728.0 L1173.0,725.0 L1173.1,722.0 L1173.1,719.0 L1173.1,716.0 L1173.2,713.0 L1173.2,710.0 L1173.2,707.0 L1173.3,704.0 L1173.3,701.0 L1173.3,698.0 L1173.4,695.0 L1173.4,692.0 L1173.4,689.0 L1173.4,686.0 L1173.5,683.0 L1173.5,680.0 L1173.5,677.0 L1173.5,674.0 L1173.6,671.0 L1173.6,668.0 L1173.6,665.0 L1173.6,662.0 L1173.7,659.0 L1173.7,656.0 L1173.7,653.0 L1173.7,650.0 L1173.7,647.0 L1173.7,644.0 L1173.8,641.0 L1173.8,638.0 L1173.8,635.0 L1173.8,632.0 L1173.8,629.0 L1173.8,626.0 L1173.8,623.0 L1173.8,620.0 L1173.8,617.0 L1173.9,614.0 L1173.9,611.0 L1173.9,608.0 L1173.9,605.0 L1173.9,602.0 L1173.9,599.0 L1173.9,596.0 L1173.9,593.0 L1173.9,590.0 L1173.9,587.0 L1173.9,584.0 L1173.9,581.0 L1173.9,578.0 L1173.9,575.0 L1173.9,572.0 L1173.9,569.0 L1173.9,566.0 L1173.9,563.0 L1173.9,560.0 L1173.9,557.0 L1173.9,554.0 L1173.9,551.0 L1173.9,548.0 L1173.9,545.0 L1173.9,542.0 L1173.9,539.0 L1173.9,536.0 L1173.9,533.0 L1173.9,530.0 L1173.9,527.0 L1173.9,524.0 L1173.9,521.0 L1173.9,518.0 L1173.9,515.0 L1174.0,512.0 L1174.0,509.0 L1174.0,506.0 L1174.0,503.0 L1174.0,500.0 L1174.0,497.0 L1174.0,494.0 L1174.0,491.0 L1174.0,488.0 L1174.0,485.0 L1174.0,482.0 L1174.0,479.0 L1174.0,476.0 L1174.0,473.0 L1174.0,470.0 L1174.0,467.0 L1174.0,464.0 L1174.0,461.0 L1174.0,458.0 L1174.0,455.0 L1174.0,452.0 L1174.0,449.0 L1174.0,446.0 L1174.0,443.0 L1174.0,440.0 L1174.0,437.0 L1174.0,434.0 L1174.0,431.0 L1174.0,428.0 L1174.0,425.0 L1174.0,422.0 L1174.0,419.0 L1174.0,416.0 L1174.0,413.0 L1174.6,413.0 L1174.6,416.0 L1174.6,419.0 L1174.6,422.0 L1174.6,425.0 L1174.6,428.0 L1174.6,431.0 L1174.6,434.0 L1174.6,437.0 L1174.6,440.0 L1174.6,443.0 L1174.6,446.0 L1174.6,449.0 L1174.6,452.0 L1174.6,455.0 L1174.6,458.0 L1174.6,461.0 L1174.6,464.0 L1174.6,467.0 L1174.6,470.0 L1174.6,473.0 L1174.6,476.0 L1174.6,479.0 L1174.6,482.0 L1174.6,485.0 L1174.6,488.0 L1174.6,491.0 L1174.6,494.0 L1174.6,497.0 L1174.6,500.0 L1174.6,503.0 L1174.6,506.0 L1174.6,509.0 L1174.6,512.0 L1174.6,515.0 L1174.6,518.0 L1174.6,521.0 L1174.6,524.0 L1174.6,527.0 L1174.6,530.0 L1174.6,533.0 L1174.6,536.0 L1174.6,539.0 L1174.6,542.0 L1174.6,545.0 L1174.6,548.0 L1174.6,551.0 L1174.6,554.0 L1174.6,557.0 L1174.6,560.0 L1174.6,563.0 L1174.6,566.0 L1174.7,569.0 L1174.7,572.0 L1174.7,575.0 L1174.7,578.0 L1174.7,581.0 L1174.7,584.0 L1174.7,587.0 L1174.7,590.0 L1174.7,593.0 L1174.7,596.0 L1174.7,599.0 L1174.7,602.0 L1174.7,605.0 L1174.7,608.0 L1174.7,611.0 L1174.7,614.0 L1174.7,617.0 L1174.7,620.0 L1174.7,623.0 L1174.7,626.0 L1174.8,629.0 L1174.8,632.0 L1174.8,635.0 L1174.8,638.0 L1174.8,641.0 L1174.8,644.0 L1174.8,647.0 L1174.9,650.0 L1174.9,653.0 L1174.9,656.0 L1174.9,659.0 L1174.9,662.0 L1174.9,665.0 L1175.0,668.0 L1175.0,671.0 L1175.0,674.0 L1175.0,677.0 L1175.1,680.0 L1175.1,683.0 L1175.1,686.0 L1175.1,689.0 L1175.2,692.0 L1175.2,695.0 L1175.2,698.0 L1175.3,701.0 L1175.3,704.0 L1175.3,707.0 L1175.4,710.0 L1175.4,713.0 L1175.4,716.0 L1175.5,719.0 L1175.5,722.0 L1175.5,725.0 L1175.6,728.0 L1175.6,731.0 L1175.7,734.0 L1175.7,737.0 L1175.7,740.0 L1175.8,743.0 L1175.8,746.0 L1175.9,749.0 L1175.9,752.0 L1176.0,755.0 L1176.0,758.0 L1176.1,761.0 L1176.1,764.0 L1176.2,767.0 L1176.3,770.0 L1176.4,773.0 L1176.5,776.0 L1176.6,779.0 L1176.7,782.0 L1176.8,785.0 L1176.9,788.0 L1177.1,791.0 L1177.2,794.0 L1177.3,797.0 L1177.4,800.0 L1177.5,803.0 L1177.6,806.0 L1177.8,809.0 L1177.9,812.0 L1178.0,815.0 L1178.1,818.0 L1178.3,821.0 L1178.4,824.0 L1178.5,827.0 L1178.7,830.0 L1178.8,833.0 L1178.9,836.0 L1179.1,839.0 L1179.2,842.0 L1179.3,845.0 L1179.4,848.0 L1179.6,851.0 L1179.7,854.0 L1179.9,857.0 L1180.1,860.0 L1180.2,863.0 L1180.4,866.0 L1180.5,869.0 L1180.7,872.0 L1180.8,875.0 L1180.9,878.0 L1181.0,881.0 L1181.1,884.0 L1181.2,887.0 L1181.3,890.0 L1181.4,893.0 L1181.5,896.0 L1181.5,899.0 L1181.6,902.0 L1181.6,905.0 L1181.7,908.0 L1181.7,911.0 L1181.8,914.0 L1181.8,917.0 L1181.8,920.0 L1181.9,923.0 L1181.9,926.0 L1181.9,929.0 L1181.9,932.0 L1181.8,935.0 L1181.8,938.0 L1181.8,941.0 L1181.7,944.0 L1181.7,947.0 L1181.6,950.0 L1181.6,953.0 L1181.5,956.0 L1181.4,959.0 L1181.3,962.0 L1181.2,965.0 L1181.1,968.0 L1180.9,971.0 L1180.8,974.0 L1180.7,977.0 L1180.5,980.0 L1180.3,983.0 L1180.2,986.0 L1180.0,989.0 L1179.8,992.0 L1179.6,995.0 L1179.4,998.0 L1179.2,1001.0 L1179.0,1004.0 L1178.7,1007.0 L1178.5,1010.0 L1178.2,1013.0 L1178.0,1016.0 L1177.7,1019.0 L1177.4,1022.0 L1177.1,1025.0 L1176.9,1028.0 L1176.6,1031.0 L1176.3,1034.0 L1176.1,1037.0 L1175.9,1040.0 L1175.7,1043.0 L1175.5,1046.0 L1175.3,1049.0 L1175.2,1052.0 L1175.1,1055.0 L1175.0,1058.0 L1175.0,1061.0 L1175.0,1064.0 L1175.0,1067.0 L1175.1,1070.0 L1175.3,1073.0 L1175.5,1076.0 L1175.9,1079.0 L1176.3,1082.0 L1176.9,1085.0 L1177.6,1088.0 L1178.4,1091.0 L1179.4,1094.0 L1180.6,1097.0 L1182.0,1100.0 L1183.5,1103.0 L1185.2,1106.0 L1187.1,1109.0 L1189.1,1112.0 L1191.3,1115.0 L1193.5,1118.0 L1195.7,1121.0 L1198.0,1124.0 L1200.2,1127.0 L1202.4,1130.0 L1204.4,1133.0 L1206.3,1136.0 L1208.0,1139.0 L1209.5,1142.0 L1210.7,1145.0 L1211.8,1148.0 L1212.5,1151.0 L1213.1,1154.0 L1213.4,1157.0 L1213.6,1160.0 L1213.6,1162.0Z" fill="#436EEE"/>
<path d="M1213.8,1162.0 L1213.9,1159.7 L1214.1,1156.7 L1214.5,1153.7 L1215.1,1150.7 L1216.0,1147.7 L1217.1,1144.7 L1218.5,1141.7 L1220.1,1138.7 L1222.0,1135.7 L1224.0,1132.7 L1226.2,1129.7 L1228.5,1126.7 L1230.8,1123.7 L1233.2,1120.7 L1235.5,1117.7 L1237.8,1114.7 L1239.9,1111.7 L1241.9,1108.7 L1243.7,1105.7 L1245.3,1102.7 L1246.8,1099.7 L1248.0,1096.7 L1249.1,1093.7 L1249.9,1090.7 L1250.6,1087.7 L1251.0,1084.7 L1251.3,1081.7 L1251.5,1078.7 L1251.6,1075.7 L1251.6,1072.7 L1251.4,1069.7 L1251.2,1066.7 L1251.0,1063.7 L1250.7,1060.7 L1250.3,1057.7 L1249.9,1054.7 L1249.5,1051.7 L1249.0,1048.7 L1248.5,1045.7 L1248.0,1042.7 L1247.5,1039.7 L1247.0,1036.7 L1246.4,1033.7 L1245.9,1030.7 L1245.4,1027.7 L1244.9,1024.7 L1244.4,1021.7 L1243.9,1018.7 L1243.5,1015.7 L1243.1,1012.7 L1242.8,1009.7 L1242.5,1006.7 L1242.3,1003.7 L1242.2,1000.7 L1242.1,997.7 L1242.1,994.7 L1242.1,991.7 L1242.1,988.7 L1242.2,985.7 L1242.3,982.7 L1242.4,979.7 L1242.5,976.7 L1242.7,973.7 L1242.9,970.7 L1243.1,967.7 L1243.4,964.7 L1243.6,961.7 L1243.8,958.7 L1244.1,955.7 L1244.4,952.7 L1244.7,949.7 L1245.0,946.7 L1245.3,943.7 L1245.6,940.7 L1245.8,937.7 L1246.0,934.7 L1246.2,931.7 L1246.4,928.7 L1246.5,925.7 L1246.7,922.7 L1246.8,919.7 L1247.0,916.7 L1247.1,913.7 L1247.3,910.7 L1247.4,907.7 L1247.5,904.7 L1247.6,901.7 L1247.7,898.7 L1247.8,895.7 L1247.9,892.7 L1248.0,889.7 L1248.1,886.7 L1248.2,883.7 L1248.2,880.7 L1248.3,877.7 L1248.4,874.7 L1248.4,871.7 L1248.5,868.7 L1248.6,865.7 L1248.6,862.7 L1248.7,859.7 L1248.7,856.7 L1248.8,853.7 L1248.8,850.7 L1248.9,847.7 L1248.9,844.7 L1249.0,841.7 L1249.1,838.7 L1249.1,835.7 L1249.2,832.7 L1249.2,829.7 L1249.3,826.7 L1249.4,823.7 L1249.4,820.7 L1249.5,817.7 L1249.6,814.7 L1249.6,811.7 L1249.7,808.7 L1249.8,805.7 L1249.9,802.7 L1250.0,799.7 L1250.1,796.7 L1250.2,793.7 L1250.4,790.7 L1250.6,787.7 L1250.7,784.7 L1250.9,781.7 L1251.1,778.7 L1251.2,775.7 L1251.3,772.7 L1251.4,769.7 L1251.5,766.7 L1251.6,763.7 L1251.7,760.7 L1251.7,757.7 L1251.8,754.7 L1251.9,751.7 L1252.0,748.7 L1252.1,745.7 L1252.1,742.7 L1252.2,739.7 L1252.3,736.7 L1252.3,733.7 L1252.4,730.7 L1252.4,727.7 L1252.5,724.7 L1252.5,721.7 L1252.6,718.7 L1252.6,715.7 L1252.6,712.7 L1252.7,709.7 L1252.7,706.7 L1252.7,703.7 L1252.7,700.7 L1252.7,697.7 L1252.7,694.7 L1252.7,691.7 L1252.8,688.7 L1252.8,685.7 L1252.8,682.7 L1252.8,679.7 L1252.8,676.7 L1252.8,673.7 L1252.8,670.7 L1252.8,667.7 L1252.8,664.7 L1252.8,661.7 L1252.8,658.7 L1252.8,655.7 L1252.8,652.7 L1252.8,649.7 L1252.8,646.7 L1252.8,643.7 L1252.9,640.7 L1252.9,637.7 L1252.9,634.7 L1252.9,631.7 L1252.9,628.7 L1252.9,625.7 L1252.9,622.7 L1252.9,619.7 L1252.9,616.7 L1252.9,613.7 L1252.9,610.7 L1252.9,607.7 L1252.9,604.7 L1252.9,601.7 L1252.9,598.7 L1252.9,595.7 L1252.9,592.7 L1252.9,589.7 L1252.9,586.7 L1252.9,583.7 L1252.9,580.7 L1252.9,577.7 L1252.9,574.7 L1252.9,571.7 L1252.9,568.7 L1252.9,565.7 L1252.9,562.7 L1252.9,559.7 L1252.9,556.7 L1252.9,553.7 L1252.9,550.7 L1252.9,547.7 L1252.9,544.7 L1252.9,541.7 L1252.9,538.7 L1253.5,538.7 L1253.5,541.7 L1253.5,544.7 L1253.5,547.7 L1253.5,550.7 L1253.5,553.7 L1253.5,556.7 L1253.5,559.7 L1253.5,562.7 L1253.5,565.7 L1253.5,568.7 L1253.5,571.7 L1253.5,574.7 L1253.5,577.7 L1253.5,580.7 L1253.5,583.7 L1253.5,586.7 L1253.5,589.7 L1253.5,592.7 L1253.6,595.7 L1253.6,598.7 L1253.6,601.7 L1253.6,604.7 L1253.6,607.7 L1253.6,610.7 L1253.6,613.7 L1253.6,616.7 L1253.6,619.7 L1253.6,622.7 L1253.6,625.7 L1253.6,628.7 L1253.6,631.7 L1253.6,634.7 L1253.6,637.7 L1253.6,640.7 L1253.6,643.7 L1253.6,646.7 L1253.6,649.7 L1253.6,652.7 L1253.6,655.7 L1253.6,658.7 L1253.6,661.7 L1253.6,664.7 L1253.7,667.7 L1253.7,670.7 L1253.7,673.7 L1253.7,676.7 L1253.7,679.7 L1253.7,682.7 L1253.7,685.7 L1253.7,688.7 L1253.7,691.7 L1253.7,694.7 L1253.7,697.7 L1253.7,700.7 L1253.7,703.7 L1253.8,706.7 L1253.8,709.7 L1253.8,712.7 L1253.8,715.7 L1253.9,718.7 L1253.9,721.7 L1254.0,724.7 L1254.0,727.7 L1254.1,730.7 L1254.1,733.7 L1254.2,736.7 L1254.3,739.7 L1254.3,742.7 L1254.4,745.7 L1254.5,748.7 L1254.6,751.7 L1254.6,754.7 L1254.7,757.7 L1254.8,760.7 L1254.9,763.7 L1255.0,766.7 L1255.1,769.7 L1255.2,772.7 L1255.3,775.7 L1255.4,778.7 L1255.5,781.7 L1255.7,784.7 L1255.9,787.7 L1256.1,790.7 L1256.2,793.7 L1256.4,796.7 L1256.5,799.7 L1256.6,802.7 L1256.7,805.7 L1256.8,808.7 L1256.8,811.7 L1256.9,814.7 L1257.0,817.7 L1257.0,820.7 L1257.1,823.7 L1257.2,826.7 L1257.2,829.7 L1257.3,832.7 L1257.3,835.7 L1257.4,838.7 L1257.4,841.7 L1257.5,844.7 L1257.6,847.7 L1257.6,850.7 L1257.7,853.7 L1257.7,856.7 L1257.8,859.7 L1257.8,862.7 L1257.9,865.7 L1258.0,868.7 L1258.0,871.7 L1258.1,874.7 L1258.2,877.7 L1258.2,880.7 L1258.3,883.7 L1258.4,886.7 L1258.5,889.7 L1258.5,892.7 L1258.6,895.7 L1258.7,898.7 L1258.8,901.7 L1258.9,904.7 L1259.1,907.7 L1259.2,910.7 L1259.3,913.7 L1259.5,916.7 L1259.6,919.7 L1259.8,922.7 L1259.9,925.7 L1260.1,928.7 L1260.3,931.7 L1260.5,934.7 L1260.7,937.7 L1260.9,940.7 L1261.2,943.7 L1261.5,946.7 L1261.8,949.7 L1262.1,952.7 L1262.4,955.7 L1262.6,958.7 L1262.9,961.7 L1263.1,964.7 L1263.3,967.7 L1263.5,970.7 L1263.7,973.7 L1263.9,976.7 L1264.1,979.7 L1264.2,982.7 L1264.3,985.7 L1264.4,988.7 L1264.4,991.7 L1264.4,994.7 L1264.3,997.7 L1264.3,1000.7 L1264.1,1003.7 L1263.9,1006.7 L1263.7,1009.7 L1263.4,1012.7 L1263.0,1015.7 L1262.6,1018.7 L1262.1,1021.7 L1261.6,1024.7 L1261.1,1027.7 L1260.5,1030.7 L1260.0,1033.7 L1259.5,1036.7 L1259.0,1039.7 L1258.4,1042.7 L1257.9,1045.7 L1257.4,1048.7 L1257.0,1051.7 L1256.5,1054.7 L1256.1,1057.7 L1255.8,1060.7 L1255.5,1063.7 L1255.2,1066.7 L1255.0,1069.7 L1254.9,1072.7 L1254.9,1075.7 L1254.9,1078.7 L1255.1,1081.7 L1255.4,1084.7 L1255.9,1087.7 L1256.5,1090.7 L1257.4,1093.7 L1258.4,1096.7 L1259.7,1099.7 L1261.1,1102.7 L1262.7,1105.7 L1264.5,1108.7 L1266.5,1111.7 L1268.7,1114.7 L1270.9,1117.7 L1273.2,1120.7 L1275.6,1123.7 L1278.0,1126.7 L1280.3,1129.7 L1282.4,1132.7 L1284.5,1135.7 L1286.3,1138.7 L1288.0,1141.7 L1289.3,1144.7 L1290.5,1147.7 L1291.3,1150.7 L1292.0,1153.7 L1292.3,1156.7 L1292.6,1159.7 L1292.6,1162.0Z" fill="#FF3030"/>
<path d="M1319.1,1162.0 L1319.1,1161.8 L1319.2,1158.8 L1319.4,1155.8 L1319.8,1152.8 L1320.5,1149.8 L1321.3,1146.8 L1322.4,1143.8 L1323.7,1140.8 L1325.2,1137.8 L1327.0,1134.8 L1328.9,1131.8 L1331.0,1128.8 L1333.2,1125.8 L1335.4,1122.8 L1337.7,1119.8 L1339.9,1116.8 L1342.1,1113.8 L1344.2,1110.8 L1346.2,1107.8 L1348.0,1104.8 L1349.7,1101.8 L1351.2,1098.8 L1352.5,1095.8 L1353.6,1092.8 L1354.6,1089.8 L1355.3,1086.8 L1355.9,1083.8 L1356.3,1080.8 L1356.5,1077.8 L1356.7,1074.8 L1356.8,1071.8 L1356.8,1068.8 L1356.7,1065.8 L1356.6,1062.8 L1356.5,1059.8 L1356.4,1056.8 L1356.2,1053.8 L1356.0,1050.8 L1355.8,1047.8 L1355.6,1044.8 L1355.3,1041.8 L1355.0,1038.8 L1354.8,1035.8 L1354.6,1032.8 L1354.3,1029.8 L1354.1,1026.8 L1353.8,1023.8 L1353.6,1020.8 L1353.3,1017.8 L1353.1,1014.8 L1352.8,1011.8 L1352.5,1008.8 L1352.2,1005.8 L1351.9,1002.8 L1351.7,999.8 L1351.5,996.8 L1351.3,993.8 L1351.1,990.8 L1351.0,987.8 L1350.8,984.8 L1350.7,981.8 L1350.6,978.8 L1350.5,975.8 L1350.5,972.8 L1350.4,969.8 L1350.4,966.8 L1350.3,963.8 L1350.3,960.8 L1350.3,957.8 L1350.3,954.8 L1350.3,951.8 L1350.3,948.8 L1350.3,945.8 L1350.3,942.8 L1350.4,939.8 L1350.4,936.8 L1350.5,933.8 L1350.5,930.8 L1350.6,927.8 L1350.7,924.8 L1350.7,921.8 L1350.8,918.8 L1350.9,915.8 L1351.1,912.8 L1351.2,909.8 L1351.3,906.8 L1351.4,903.8 L1351.6,900.8 L1351.7,897.8 L1351.8,894.8 L1352.0,891.8 L1352.2,888.8 L1352.3,885.8 L1352.5,882.8 L1352.6,879.8 L1352.8,876.8 L1352.9,873.8 L1353.0,870.8 L1353.1,867.8 L1353.3,864.8 L1353.4,861.8 L1353.5,858.8 L1353.6,855.8 L1353.7,852.8 L1353.8,849.8 L1354.0,846.8 L1354.1,843.8 L1354.2,840.8 L1354.3,837.8 L1354.4,834.8 L1354.5,831.8 L1354.7,828.8 L1354.8,825.8 L1354.9,822.8 L1355.0,819.8 L1355.1,816.8 L1355.2,813.8 L1355.3,810.8 L1355.4,807.8 L1355.6,804.8 L1355.7,801.8 L1355.8,798.8 L1355.9,795.8 L1356.1,792.8 L1356.2,789.8 L1356.3,786.8 L1356.5,783.8 L1356.6,780.8 L1356.7,777.8 L1356.8,774.8 L1356.8,771.8 L1356.9,768.8 L1357.0,765.8 L1357.1,762.8 L1357.1,759.8 L1357.2,756.8 L1357.3,753.8 L1357.3,750.8 L1357.4,747.8 L1357.4,744.8 L1357.5,741.8 L1357.6,738.8 L1357.6,735.8 L1357.7,732.8 L1357.7,729.8 L1357.7,726.8 L1357.8,723.8 L1357.8,720.8 L1357.9,717.8 L1357.9,714.8 L1357.9,711.8 L1357.9,708.8 L1358.0,705.8 L1358.0,702.8 L1358.0,699.8 L1358.0,696.8 L1358.0,693.8 L1358.0,690.8 L1358.0,687.8 L1358.0,684.8 L1358.1,681.8 L1358.1,678.8 L1358.1,675.8 L1358.1,672.8 L1358.1,669.8 L1358.1,666.8 L1358.1,663.8 L1358.1,660.8 L1358.1,657.8 L1358.1,654.8 L1358.1,651.8 L1358.1,648.8 L1358.1,645.8 L1358.1,642.8 L1358.2,639.8 L1358.2,636.8 L1358.2,633.8 L1358.2,630.8 L1358.2,627.8 L1358.2,624.8 L1358.2,621.8 L1358.2,618.8 L1358.2,615.8 L1358.2,612.8 L1358.2,609.8 L1358.2,606.8 L1358.2,603.8 L1358.2,600.8 L1358.2,597.8 L1358.2,594.8 L1358.8,594.8 L1358.8,597.8 L1358.8,600.8 L1358.8,603.8 L1358.8,606.8 L1358.8,609.8 L1358.8,612.8 L1358.8,615.8 L1358.8,618.8 L1358.8,621.8 L1358.8,624.8 L1358.8,627.8 L1358.8,630.8 L1358.8,633.8 L1358.8,636.8 L1358.8,639.8 L1358.8,642.8 L1358.8,645.8 L1358.8,648.8 L1358.9,651.8 L1358.9,654.8 L1358.9,657.8 L1358.9,660.8 L1358.9,663.8 L1358.9,666.8 L1358.9,669.8 L1358.9,672.8 L1358.9,675.8 L1358.9,678.8 L1358.9,681.8 L1358.9,684.8 L1359.0,687.8 L1359.0,690.8 L1359.0,693.8 L1359.0,696.8 L1359.0,699.8 L1359.0,702.8 L1359.0,705.8 L1359.0,708.8 L1359.1,711.8 L1359.1,714.8 L1359.1,717.8 L1359.2,720.8 L1359.2,723.8 L1359.2,726.8 L1359.3,729.8 L1359.3,732.8 L1359.4,735.8 L1359.4,738.8 L1359.5,741.8 L1359.5,744.8 L1359.6,747.8 L1359.7,750.8 L1359.7,753.8 L1359.8,756.8 L1359.9,759.8 L1359.9,762.8 L1360.0,765.8 L1360.1,768.8 L1360.1,771.8 L1360.2,774.8 L1360.3,777.8 L1360.4,780.8 L1360.5,783.8 L1360.6,786.8 L1360.8,789.8 L1360.9,792.8 L1361.1,795.8 L1361.2,798.8 L1361.3,801.8 L1361.4,804.8 L1361.5,807.8 L1361.6,810.8 L1361.8,813.8 L1361.9,816.8 L1362.0,819.8 L1362.1,822.8 L1362.2,825.8 L1362.3,828.8 L1362.4,831.8 L1362.6,834.8 L1362.7,837.8 L1362.8,840.8 L1362.9,843.8 L1363.0,846.8 L1363.1,849.8 L1363.3,852.8 L1363.4,855.8 L1363.5,858.8 L1363.6,861.8 L1363.7,864.8 L1363.8,867.8 L1364.0,870.8 L1364.1,873.8 L1364.2,876.8 L1364.4,879.8 L1364.5,882.8 L1364.7,885.8 L1364.8,888.8 L1365.0,891.8 L1365.1,894.8 L1365.3,897.8 L1365.4,900.8 L1365.6,903.8 L1365.7,906.8 L1365.8,909.8 L1365.9,912.8 L1366.0,915.8 L1366.1,918.8 L1366.2,921.8 L1366.3,924.8 L1366.4,927.8 L1366.5,930.8 L1366.5,933.8 L1366.6,936.8 L1366.6,939.8 L1366.7,942.8 L1366.7,945.8 L1366.7,948.8 L1366.7,951.8 L1366.7,954.8 L1366.7,957.8 L1366.7,960.8 L1366.7,963.8 L1366.6,966.8 L1366.6,969.8 L1366.5,972.8 L1366.4,975.8 L1366.4,978.8 L1366.3,981.8 L1366.2,984.8 L1366.0,987.8 L1365.9,990.8 L1365.7,993.8 L1365.5,996.8 L1365.3,999.8 L1365.0,1002.8 L1364.8,1005.8 L1364.5,1008.8 L1364.2,1011.8 L1363.9,1014.8 L1363.7,1017.8 L1363.4,1020.8 L1363.1,1023.8 L1362.9,1026.8 L1362.7,1029.8 L1362.4,1032.8 L1362.2,1035.8 L1361.9,1038.8 L1361.7,1041.8 L1361.4,1044.8 L1361.2,1047.8 L1360.9,1050.8 L1360.7,1053.8 L1360.6,1056.8 L1360.5,1059.8 L1360.3,1062.8 L1360.3,1065.8 L1360.2,1068.8 L1360.2,1071.8 L1360.3,1074.8 L1360.4,1077.8 L1360.7,1080.8 L1361.1,1083.8 L1361.7,1086.8 L1362.4,1089.8 L1363.4,1092.8 L1364.5,1095.8 L1365.8,1098.8 L1367.3,1101.8 L1369.0,1104.8 L1370.8,1107.8 L1372.8,1110.8 L1374.9,1113.8 L1377.1,1116.8 L1379.3,1119.8 L1381.6,1122.8 L1383.8,1125.8 L1386.0,1128.8 L1388.1,1131.8 L1390.0,1134.8 L1391.7,1137.8 L1393.3,1140.8 L1394.6,1143.8 L1395.7,1146.8 L1396.5,1149.8 L1397.2,1152.8 L1397.6,1155.8 L1397.8,1158.8 L1397.9,1161.8 L1397.9,1162.0Z" fill="#7EC0EE"/>
<path d="M1398.1,1162.0 L1398.1,1161.2 L1398.2,1158.2 L1398.4,1155.2 L1398.9,1152.2 L1399.5,1149.2 L1400.4,1146.2 L1401.6,1143.2 L1402.9,1140.2 L1404.5,1137.2 L1406.3,1134.2 L1408.3,1131.2 L1410.4,1128.2 L1412.6,1125.2 L1414.8,1122.2 L1417.1,1119.2 L1419.4,1116.2 L1421.5,1113.2 L1423.6,1110.2 L1425.6,1107.2 L1427.3,1104.2 L1429.0,1101.2 L1430.4,1098.2 L1431.7,1095.2 L1432.8,1092.2 L1433.7,1089.2 L1434.4,1086.2 L1434.8,1083.2 L1435.1,1080.2 L1435.3,1077.2 L1435.5,1074.2 L1435.5,1071.2 L1435.5,1068.2 L1435.4,1065.2 L1435.3,1062.2 L1435.2,1059.2 L1435.0,1056.2 L1434.8,1053.2 L1434.5,1050.2 L1434.3,1047.2 L1434.0,1044.2 L1433.6,1041.2 L1433.3,1038.2 L1433.0,1035.2 L1432.8,1032.2 L1432.5,1029.2 L1432.2,1026.2 L1431.9,1023.2 L1431.6,1020.2 L1431.4,1017.2 L1431.1,1014.2 L1430.9,1011.2 L1430.6,1008.2 L1430.4,1005.2 L1430.2,1002.2 L1430.1,999.2 L1430.0,996.2 L1429.9,993.2 L1429.8,990.2 L1429.8,987.2 L1429.7,984.2 L1429.7,981.2 L1429.6,978.2 L1429.6,975.2 L1429.5,972.2 L1429.4,969.2 L1429.4,966.2 L1429.4,963.2 L1429.4,960.2 L1429.4,957.2 L1429.4,954.2 L1429.4,951.2 L1429.4,948.2 L1429.5,945.2 L1429.6,942.2 L1429.6,939.2 L1429.7,936.2 L1429.8,933.2 L1430.0,930.2 L1430.1,927.2 L1430.2,924.2 L1430.3,921.2 L1430.5,918.2 L1430.6,915.2 L1430.8,912.2 L1430.9,909.2 L1431.1,906.2 L1431.3,903.2 L1431.5,900.2 L1431.6,897.2 L1431.8,894.2 L1432.0,891.2 L1432.2,888.2 L1432.4,885.2 L1432.6,882.2 L1432.8,879.2 L1433.0,876.2 L1433.1,873.2 L1433.3,870.2 L1433.5,867.2 L1433.6,864.2 L1433.8,861.2 L1433.9,858.2 L1434.1,855.2 L1434.2,852.2 L1434.3,849.2 L1434.4,846.2 L1434.5,843.2 L1434.5,840.2 L1434.6,837.2 L1434.7,834.2 L1434.7,831.2 L1434.8,828.2 L1434.8,825.2 L1434.9,822.2 L1434.9,819.2 L1435.0,816.2 L1435.0,813.2 L1435.0,810.2 L1435.0,807.2 L1435.1,804.2 L1435.1,801.2 L1435.2,798.2 L1435.2,795.2 L1435.3,792.2 L1435.4,789.2 L1435.5,786.2 L1435.6,783.2 L1435.6,780.2 L1435.7,777.2 L1435.8,774.2 L1435.9,771.2 L1435.9,768.2 L1436.0,765.2 L1436.1,762.2 L1436.2,759.2 L1436.3,756.2 L1436.4,753.2 L1436.4,750.2 L1436.5,747.2 L1436.6,744.2 L1436.6,741.2 L1436.7,738.2 L1436.8,735.2 L1436.8,732.2 L1436.9,729.2 L1436.9,726.2 L1436.9,723.2 L1436.9,720.2 L1436.9,717.2 L1437.0,714.2 L1437.0,711.2 L1437.0,708.2 L1437.0,705.2 L1437.0,702.2 L1437.0,699.2 L1437.0,696.2 L1437.0,693.2 L1437.0,690.2 L1437.0,687.2 L1437.1,684.2 L1437.1,681.2 L1437.1,678.2 L1437.1,675.2 L1437.1,672.2 L1437.1,669.2 L1437.1,666.2 L1437.1,663.2 L1437.1,660.2 L1437.1,657.2 L1437.1,654.2 L1437.1,651.2 L1437.1,648.2 L1437.1,645.2 L1437.1,642.2 L1437.1,639.2 L1437.1,636.2 L1437.1,633.2 L1437.1,630.2 L1437.1,627.2 L1437.1,624.2 L1437.1,621.2 L1437.1,618.2 L1437.1,615.2 L1437.7,615.2 L1437.7,618.2 L1437.7,621.2 L1437.7,624.2 L1437.7,627.2 L1437.7,630.2 L1437.7,633.2 L1437.7,636.2 L1437.8,639.2 L1437.8,642.2 L1437.8,645.2 L1437.8,648.2 L1437.8,651.2 L1437.8,654.2 L1437.8,657.2 L1437.8,660.2 L1437.8,663.2 L1437.8,666.2 L1437.8,669.2 L1437.8,672.2 L1437.8,675.2 L1437.8,678.2 L1437.8,681.2 L1437.8,684.2 L1437.8,687.2 L1437.8,690.2 L1437.9,693.2 L1437.9,696.2 L1437.9,699.2 L1437.9,702.2 L1437.9,705.2 L1437.9,708.2 L1437.9,711.2 L1437.9,714.2 L1437.9,717.2 L1437.9,720.2 L1438.0,723.2 L1438.0,726.2 L1438.0,729.2 L1438.1,732.2 L1438.1,735.2 L1438.2,738.2 L1438.2,741.2 L1438.3,744.2 L1438.4,747.2 L1438.4,750.2 L1438.5,753.2 L1438.6,756.2 L1438.7,759.2 L1438.8,762.2 L1438.9,765.2 L1438.9,768.2 L1439.0,771.2 L1439.1,774.2 L1439.2,777.2 L1439.2,780.2 L1439.3,783.2 L1439.4,786.2 L1439.5,789.2 L1439.6,792.2 L1439.6,795.2 L1439.7,798.2 L1439.8,801.2 L1439.8,804.2 L1439.8,807.2 L1439.9,810.2 L1439.9,813.2 L1439.9,816.2 L1440.0,819.2 L1440.0,822.2 L1440.0,825.2 L1440.1,828.2 L1440.1,831.2 L1440.2,834.2 L1440.3,837.2 L1440.3,840.2 L1440.4,843.2 L1440.5,846.2 L1440.6,849.2 L1440.7,852.2 L1440.8,855.2 L1440.9,858.2 L1441.1,861.2 L1441.2,864.2 L1441.4,867.2 L1441.6,870.2 L1441.8,873.2 L1441.9,876.2 L1442.1,879.2 L1442.3,882.2 L1442.5,885.2 L1442.7,888.2 L1442.9,891.2 L1443.1,894.2 L1443.2,897.2 L1443.4,900.2 L1443.6,903.2 L1443.8,906.2 L1443.9,909.2 L1444.1,912.2 L1444.3,915.2 L1444.4,918.2 L1444.6,921.2 L1444.7,924.2 L1444.8,927.2 L1444.9,930.2 L1445.0,933.2 L1445.1,936.2 L1445.2,939.2 L1445.3,942.2 L1445.4,945.2 L1445.4,948.2 L1445.5,951.2 L1445.5,954.2 L1445.5,957.2 L1445.5,960.2 L1445.5,963.2 L1445.5,966.2 L1445.4,969.2 L1445.4,972.2 L1445.3,975.2 L1445.3,978.2 L1445.2,981.2 L1445.2,984.2 L1445.1,987.2 L1445.1,990.2 L1445.0,993.2 L1444.9,996.2 L1444.8,999.2 L1444.7,1002.2 L1444.5,1005.2 L1444.3,1008.2 L1444.0,1011.2 L1443.8,1014.2 L1443.5,1017.2 L1443.2,1020.2 L1443.0,1023.2 L1442.7,1026.2 L1442.4,1029.2 L1442.1,1032.2 L1441.8,1035.2 L1441.5,1038.2 L1441.2,1041.2 L1440.9,1044.2 L1440.6,1047.2 L1440.3,1050.2 L1440.1,1053.2 L1439.9,1056.2 L1439.7,1059.2 L1439.5,1062.2 L1439.4,1065.2 L1439.4,1068.2 L1439.4,1071.2 L1439.4,1074.2 L1439.5,1077.2 L1439.7,1080.2 L1440.0,1083.2 L1440.5,1086.2 L1441.2,1089.2 L1442.1,1092.2 L1443.2,1095.2 L1444.5,1098.2 L1445.9,1101.2 L1447.5,1104.2 L1449.3,1107.2 L1451.3,1110.2 L1453.3,1113.2 L1455.5,1116.2 L1457.8,1119.2 L1460.0,1122.2 L1462.3,1125.2 L1464.5,1128.2 L1466.6,1131.2 L1468.6,1134.2 L1470.3,1137.2 L1471.9,1140.2 L1473.3,1143.2 L1474.4,1146.2 L1475.3,1149.2 L1476.0,1152.2 L1476.4,1155.2 L1476.7,1158.2 L1476.8,1161.2 L1476.8,1162.0Z" fill="#436EEE"/>
<path d="M1477.1,1162.0 L1477.2,1160.2 L1477.4,1157.2 L1477.9,1154.2 L1478.5,1151.2 L1479.3,1148.2 L1480.3,1145.2 L1481.3,1142.2 L1482.5,1139.2 L1483.8,1136.2 L1485.2,1133.2 L1486.6,1130.2 L1488.1,1127.2 L1489.6,1124.2 L1491.1,1121.2 L1492.7,1118.2 L1494.1,1115.2 L1495.6,1112.2 L1497.0,1109.2 L1498.4,1106.2 L1499.6,1103.2 L1500.9,1100.2 L1502.0,1097.2 L1503.0,1094.2 L1504.0,1091.2 L1504.8,1088.2 L1505.4,1085.2 L1505.9,1082.2 L1506.3,1079.2 L1506.6,1076.2 L1506.9,1073.2 L1507.1,1070.2 L1507.3,1067.2 L1507.4,1064.2 L1507.5,1061.2 L1507.5,1058.2 L1507.5,1055.2 L1507.5,1052.2 L1507.4,1049.2 L1507.3,1046.2 L1507.2,1043.2 L1507.0,1040.2 L1506.9,1037.2 L1506.7,1034.2 L1506.6,1031.2 L1506.4,1028.2 L1506.3,1025.2 L1506.2,1022.2 L1506.1,1019.2 L1506.1,1016.2 L1506.0,1013.2 L1505.9,1010.2 L1505.8,1007.2 L1505.7,1004.2 L1505.6,1001.2 L1505.6,998.2 L1505.5,995.2 L1505.4,992.2 L1505.4,989.2 L1505.4,986.2 L1505.3,983.2 L1505.3,980.2 L1505.3,977.2 L1505.3,974.2 L1505.3,971.2 L1505.3,968.2 L1505.3,965.2 L1505.3,962.2 L1505.3,959.2 L1505.3,956.2 L1505.3,953.2 L1505.3,950.2 L1505.3,947.2 L1505.4,944.2 L1505.4,941.2 L1505.5,938.2 L1505.5,935.2 L1505.6,932.2 L1505.7,929.2 L1505.7,926.2 L1505.8,923.2 L1505.9,920.2 L1506.0,917.2 L1506.1,914.2 L1506.2,911.2 L1506.3,908.2 L1506.4,905.2 L1506.5,902.2 L1506.7,899.2 L1506.8,896.2 L1506.9,893.2 L1507.1,890.2 L1507.2,887.2 L1507.4,884.2 L1507.6,881.2 L1507.7,878.2 L1507.9,875.2 L1508.1,872.2 L1508.3,869.2 L1508.5,866.2 L1508.7,863.2 L1508.9,860.2 L1509.1,857.2 L1509.3,854.2 L1509.5,851.2 L1509.7,848.2 L1509.9,845.2 L1510.1,842.2 L1510.4,839.2 L1510.6,836.2 L1510.8,833.2 L1511.0,830.2 L1511.2,827.2 L1511.4,824.2 L1511.6,821.2 L1511.8,818.2 L1511.9,815.2 L1512.1,812.2 L1512.3,809.2 L1512.4,806.2 L1512.5,803.2 L1512.7,800.2 L1512.8,797.2 L1512.9,794.2 L1513.0,791.2 L1513.1,788.2 L1513.1,785.2 L1513.2,782.2 L1513.3,779.2 L1513.4,776.2 L1513.5,773.2 L1513.5,770.2 L1513.6,767.2 L1513.7,764.2 L1513.8,761.2 L1513.8,758.2 L1513.9,755.2 L1514.0,752.2 L1514.0,749.2 L1514.1,746.2 L1514.2,743.2 L1514.3,740.2 L1514.3,737.2 L1514.4,734.2 L1514.5,731.2 L1514.5,728.2 L1514.6,725.2 L1514.6,722.2 L1514.7,719.2 L1514.7,716.2 L1514.8,713.2 L1514.8,710.2 L1514.9,707.2 L1514.9,704.2 L1514.9,701.2 L1515.0,698.2 L1515.0,695.2 L1515.1,692.2 L1515.1,689.2 L1515.1,686.2 L1515.2,683.2 L1515.2,680.2 L1517.6,680.2 L1517.6,683.2 L1517.6,686.2 L1517.7,689.2 L1517.7,692.2 L1517.8,695.2 L1517.8,698.2 L1517.8,701.2 L1517.9,704.2 L1517.9,707.2 L1518.0,710.2 L1518.0,713.2 L1518.1,716.2 L1518.1,719.2 L1518.2,722.2 L1518.2,725.2 L1518.3,728.2 L1518.3,731.2 L1518.4,734.2 L1518.5,737.2 L1518.5,740.2 L1518.6,743.2 L1518.7,746.2 L1518.7,749.2 L1518.8,752.2 L1518.9,755.2 L1518.9,758.2 L1519.0,761.2 L1519.1,764.2 L1519.2,767.2 L1519.2,770.2 L1519.3,773.2 L1519.4,776.2 L1519.5,779.2 L1519.5,782.2 L1519.6,785.2 L1519.7,788.2 L1519.8,791.2 L1519.9,794.2 L1520.0,797.2 L1520.1,800.2 L1520.2,803.2 L1520.4,806.2 L1520.5,809.2 L1520.7,812.2 L1520.8,815.2 L1521.0,818.2 L1521.2,821.2 L1521.4,824.2 L1521.6,827.2 L1521.8,830.2 L1522.0,833.2 L1522.2,836.2 L1522.4,839.2 L1522.6,842.2 L1522.9,845.2 L1523.1,848.2 L1523.3,851.2 L1523.5,854.2 L1523.7,857.2 L1523.9,860.2 L1524.1,863.2 L1524.3,866.2 L1524.5,869.2 L1524.7,872.2 L1524.9,875.2 L1525.0,878.2 L1525.2,881.2 L1525.4,884.2 L1525.5,887.2 L1525.7,890.2 L1525.8,893.2 L1526.0,896.2 L1526.1,899.2 L1526.2,902.2 L1526.4,905.2 L1526.5,908.2 L1526.6,911.2 L1526.7,914.2 L1526.8,917.2 L1526.9,920.2 L1527.0,923.2 L1527.1,926.2 L1527.1,929.2 L1527.2,932.2 L1527.3,935.2 L1527.3,938.2 L1527.4,941.2 L1527.4,944.2 L1527.4,947.2 L1527.5,950.2 L1527.5,953.2 L1527.5,956.2 L1527.5,959.2 L1527.5,962.2 L1527.5,965.2 L1527.5,968.2 L1527.5,971.2 L1527.5,974.2 L1527.5,977.2 L1527.5,980.2 L1527.5,983.2 L1527.4,986.2 L1527.4,989.2 L1527.3,992.2 L1527.3,995.2 L1527.2,998.2 L1527.1,1001.2 L1527.1,1004.2 L1527.0,1007.2 L1526.9,1010.2 L1526.8,1013.2 L1526.7,1016.2 L1526.6,1019.2 L1526.6,1022.2 L1526.5,1025.2 L1526.4,1028.2 L1526.2,1031.2 L1526.1,1034.2 L1525.9,1037.2 L1525.7,1040.2 L1525.6,1043.2 L1525.5,1046.2 L1525.4,1049.2 L1525.3,1052.2 L1525.2,1055.2 L1525.2,1058.2 L1525.3,1061.2 L1525.3,1064.2 L1525.5,1067.2 L1525.7,1070.2 L1525.9,1073.2 L1526.2,1076.2 L1526.5,1079.2 L1526.9,1082.2 L1527.3,1085.2 L1528.0,1088.2 L1528.8,1091.2 L1529.7,1094.2 L1530.8,1097.2 L1531.9,1100.2 L1533.1,1103.2 L1534.4,1106.2 L1535.8,1109.2 L1537.2,1112.2 L1538.6,1115.2 L1540.1,1118.2 L1541.6,1121.2 L1543.2,1124.2 L1544.7,1127.2 L1546.2,1130.2 L1547.6,1133.2 L1548.9,1136.2 L1550.2,1139.2 L1551.4,1142.2 L1552.5,1145.2 L1553.5,1148.2 L1554.3,1151.2 L1554.9,1154.2 L1555.4,1157.2 L1555.6,1160.2 L1555.7,1162.0Z" fill="#FF3030"/>
<path d="M1582.3,1162.0 L1582.3,1160.5 L1582.4,1157.5 L1582.7,1154.5 L1583.1,1151.5 L1583.6,1148.5 L1584.2,1145.5 L1584.9,1142.5 L1585.8,1139.5 L1586.7,1136.5 L1587.7,1133.5 L1588.8,1130.5 L1590.0,1127.5 L1591.2,1124.5 L1592.4,1121.5 L1593.7,1118.5 L1595.0,1115.5 L1596.4,1112.5 L1597.7,1109.5 L1599.0,1106.5 L1600.4,1103.5 L1601.7,1100.5 L1603.0,1097.5 L1604.2,1094.5 L1605.4,1091.5 L1606.7,1088.5 L1607.8,1085.5 L1609.0,1082.5 L1610.1,1079.5 L1611.1,1076.5 L1612.0,1073.5 L1612.8,1070.5 L1613.6,1067.5 L1614.4,1064.5 L1615.0,1061.5 L1615.7,1058.5 L1616.3,1055.5 L1616.8,1052.5 L1617.3,1049.5 L1617.7,1046.5 L1618.0,1043.5 L1618.3,1040.5 L1618.6,1037.5 L1618.9,1034.5 L1619.2,1031.5 L1619.4,1028.5 L1619.6,1025.5 L1619.8,1022.5 L1619.9,1019.5 L1620.0,1016.5 L1620.1,1013.5 L1620.2,1010.5 L1620.2,1007.5 L1620.2,1004.5 L1620.2,1001.5 L1620.2,998.5 L1620.2,995.5 L1620.2,992.5 L1620.1,989.5 L1620.1,986.5 L1620.0,983.5 L1620.0,980.5 L1619.9,977.5 L1619.9,974.5 L1619.8,971.5 L1619.8,968.5 L1619.7,965.5 L1619.7,962.5 L1619.7,959.5 L1619.6,956.5 L1619.6,953.5 L1619.5,950.5 L1619.5,947.5 L1619.4,944.5 L1619.4,941.5 L1619.3,938.5 L1619.3,935.5 L1619.2,932.5 L1619.2,929.5 L1619.1,926.5 L1619.1,923.5 L1619.0,920.5 L1619.0,917.5 L1618.9,914.5 L1618.9,911.5 L1618.8,908.5 L1618.8,905.5 L1618.7,902.5 L1618.7,899.5 L1618.6,896.5 L1618.6,893.5 L1618.6,890.5 L1618.5,887.5 L1618.5,884.5 L1618.5,881.5 L1618.4,878.5 L1618.4,875.5 L1618.3,872.5 L1618.3,869.5 L1618.3,866.5 L1618.2,863.5 L1618.2,860.5 L1618.1,857.5 L1618.1,854.5 L1618.0,851.5 L1618.0,848.5 L1617.9,845.5 L1617.8,842.5 L1617.8,839.5 L1617.7,836.5 L1617.7,833.5 L1617.6,830.5 L1617.5,827.5 L1617.5,824.5 L1617.4,821.5 L1617.3,818.5 L1617.3,815.5 L1617.2,812.5 L1617.1,809.5 L1617.0,806.5 L1616.9,803.5 L1616.8,800.5 L1616.7,797.5 L1616.6,794.5 L1616.4,791.5 L1616.3,788.5 L1616.1,785.5 L1616.0,782.5 L1615.9,779.5 L1615.8,776.5 L1615.7,773.5 L1615.6,770.5 L1615.5,767.5 L1615.4,764.5 L1615.4,761.5 L1615.3,758.5 L1615.2,755.5 L1615.2,752.5 L1615.2,749.5 L1615.1,746.5 L1615.1,743.5 L1615.0,740.5 L1615.0,737.5 L1615.0,734.5 L1615.0,731.5 L1615.0,728.5 L1615.0,725.5 L1615.0,722.5 L1615.0,719.5 L1615.0,716.5 L1615.1,713.5 L1615.1,710.5 L1615.1,707.5 L1615.2,704.5 L1615.2,701.5 L1615.2,698.5 L1615.3,695.5 L1615.3,692.5 L1615.4,689.5 L1615.4,686.5 L1615.4,683.5 L1615.5,680.5 L1615.5,677.5 L1615.6,674.5 L1615.7,671.5 L1615.8,668.5 L1615.9,665.5 L1616.0,662.5 L1616.1,659.5 L1616.2,656.5 L1616.3,653.5 L1616.4,650.5 L1616.5,647.5 L1616.5,644.5 L1616.6,641.5 L1616.7,638.5 L1616.8,635.5 L1616.9,632.5 L1617.0,629.5 L1617.1,626.5 L1617.2,623.5 L1617.3,620.5 L1617.4,617.5 L1617.5,614.5 L1617.6,611.5 L1617.7,608.5 L1617.9,605.5 L1618.0,602.5 L1618.1,599.5 L1618.2,596.5 L1618.3,593.5 L1618.3,590.5 L1618.4,587.5 L1618.5,584.5 L1618.6,581.5 L1618.7,578.5 L1618.7,575.5 L1618.8,572.5 L1618.8,569.5 L1618.9,566.5 L1619.0,563.5 L1619.0,560.5 L1619.1,557.5 L1619.1,554.5 L1619.2,551.5 L1619.2,548.5 L1619.3,545.5 L1619.3,542.5 L1619.4,539.5 L1619.4,536.5 L1619.5,533.5 L1619.5,530.5 L1619.6,527.5 L1619.6,524.5 L1619.7,521.5 L1619.7,518.5 L1619.7,515.5 L1619.8,512.5 L1619.8,509.5 L1619.9,506.5 L1619.9,503.5 L1620.0,500.5 L1620.0,497.5 L1620.0,494.5 L1620.1,491.5 L1620.1,488.5 L1620.2,485.5 L1620.2,482.5 L1620.2,479.5 L1620.3,476.5 L1620.3,473.5 L1620.3,470.5 L1620.3,467.5 L1620.4,464.5 L1620.4,461.5 L1620.4,458.5 L1620.4,455.5 L1620.4,452.5 L1620.5,449.5 L1620.5,446.5 L1620.5,443.5 L1620.5,440.5 L1620.6,437.5 L1620.6,434.5 L1620.6,431.5 L1620.6,428.5 L1620.6,425.5 L1620.6,422.5 L1620.7,419.5 L1620.7,416.5 L1620.7,413.5 L1620.7,410.5 L1620.7,407.5 L1620.7,404.5 L1620.7,401.5 L1620.8,398.5 L1620.8,395.5 L1620.8,392.5 L1620.8,389.5 L1620.8,386.5 L1620.8,383.5 L1620.8,380.5 L1620.8,377.5 L1620.9,374.5 L1620.9,371.5 L1620.9,368.5 L1620.9,365.5 L1620.9,362.5 L1620.9,359.5 L1620.9,356.5 L1620.9,353.5 L1621.0,350.5 L1621.0,347.5 L1621.0,344.5 L1621.0,341.5 L1621.0,338.5 L1621.0,335.5 L1621.0,332.5 L1621.0,329.5 L1621.1,326.5 L1621.1,323.5 L1621.1,320.5 L1621.1,317.5 L1621.1,314.5 L1621.1,311.5 L1621.1,308.5 L1621.1,305.5 L1621.1,302.5 L1621.1,299.5 L1621.2,296.5 L1621.2,293.5 L1621.2,290.5 L1621.2,287.5 L1621.2,284.5 L1621.2,281.5 L1621.2,278.5 L1621.2,275.5 L1621.2,272.5 L1621.2,269.5 L1621.2,266.5 L1621.2,263.5 L1621.3,260.5 L1621.3,257.5 L1621.3,254.5 L1621.3,251.5 L1621.3,248.5 L1621.3,245.5 L1621.3,242.5 L1621.3,239.5 L1621.3,236.5 L1621.3,233.5 L1621.3,230.5 L1621.3,227.5 L1621.3,224.5 L1621.3,221.5 L1621.3,218.5 L1621.3,215.5 L1621.3,212.5 L1621.3,209.5 L1621.3,206.5 L1621.3,203.5 L1621.3,200.5 L1621.3,197.5 L1621.4,194.5 L1621.4,191.5 L1622.0,191.5 L1622.0,194.5 L1622.0,197.5 L1622.0,200.5 L1622.0,203.5 L1622.0,206.5 L1622.0,209.5 L1622.0,212.5 L1622.0,215.5 L1622.0,218.5 L1622.0,221.5 L1622.0,224.5 L1622.0,227.5 L1622.0,230.5 L1622.0,233.5 L1622.0,236.5 L1622.0,239.5 L1622.0,242.5 L1622.0,245.5 L1622.0,248.5 L1622.0,251.5 L1622.0,254.5 L1622.0,257.5 L1622.0,260.5 L1622.1,263.5 L1622.1,266.5 L1622.1,269.5 L1622.1,272.5 L1622.1,275.5 L1622.1,278.5 L1622.1,281.5 L1622.1,284.5 L1622.1,287.5 L1622.1,290.5 L1622.1,293.5 L1622.1,296.5 L1622.2,299.5 L1622.2,302.5 L1622.2,305.5 L1622.2,308.5 L1622.2,311.5 L1622.2,314.5 L1622.2,317.5 L1622.2,320.5 L1622.2,323.5 L1622.3,326.5 L1622.3,329.5 L1622.3,332.5 L1622.3,335.5 L1622.3,338.5 L1622.3,341.5 L1622.3,344.5 L1622.3,347.5 L1622.3,350.5 L1622.4,353.5 L1622.4,356.5 L1622.4,359.5 L1622.4,362.5 L1622.4,365.5 L1622.4,368.5 L1622.4,371.5 L1622.4,374.5 L1622.5,377.5 L1622.5,380.5 L1622.5,383.5 L1622.5,386.5 L1622.5,389.5 L1622.5,392.5 L1622.5,395.5 L1622.5,398.5 L1622.6,401.5 L1622.6,404.5 L1622.6,407.5 L1622.6,410.5 L1622.6,413.5 L1622.6,416.5 L1622.6,419.5 L1622.7,422.5 L1622.7,425.5 L1622.7,428.5 L1622.7,431.5 L1622.7,434.5 L1622.8,437.5 L1622.8,440.5 L1622.8,443.5 L1622.8,446.5 L1622.8,449.5 L1622.9,452.5 L1622.9,455.5 L1622.9,458.5 L1622.9,461.5 L1622.9,464.5 L1623.0,467.5 L1623.0,470.5 L1623.0,473.5 L1623.1,476.5 L1623.1,479.5 L1623.1,482.5 L1623.1,485.5 L1623.2,488.5 L1623.2,491.5 L1623.3,494.5 L1623.3,497.5 L1623.3,500.5 L1623.4,503.5 L1623.4,506.5 L1623.5,509.5 L1623.5,512.5 L1623.6,515.5 L1623.6,518.5 L1623.6,521.5 L1623.7,524.5 L1623.7,527.5 L1623.8,530.5 L1623.8,533.5 L1623.9,536.5 L1623.9,539.5 L1624.0,542.5 L1624.0,545.5 L1624.1,548.5 L1624.1,551.5 L1624.2,554.5 L1624.2,557.5 L1624.3,560.5 L1624.3,563.5 L1624.4,566.5 L1624.5,569.5 L1624.5,572.5 L1624.6,575.5 L1624.7,578.5 L1624.7,581.5 L1624.8,584.5 L1624.9,587.5 L1625.0,590.5 L1625.1,593.5 L1625.1,596.5 L1625.2,599.5 L1625.3,602.5 L1625.4,605.5 L1625.6,608.5 L1625.7,611.5 L1625.8,614.5 L1625.9,617.5 L1626.0,620.5 L1626.1,623.5 L1626.2,626.5 L1626.3,629.5 L1626.4,632.5 L1626.5,635.5 L1626.6,638.5 L1626.7,641.5 L1626.8,644.5 L1626.9,647.5 L1626.9,650.5 L1627.0,653.5 L1627.1,656.5 L1627.2,659.5 L1627.3,662.5 L1627.4,665.5 L1627.5,668.5 L1627.6,671.5 L1627.7,674.5 L1627.8,677.5 L1627.8,680.5 L1627.9,683.5 L1627.9,686.5 L1628.0,689.5 L1628.0,692.5 L1628.0,695.5 L1628.1,698.5 L1628.1,701.5 L1628.1,704.5 L1628.2,707.5 L1628.2,710.5 L1628.2,713.5 L1628.3,716.5 L1628.3,719.5 L1628.3,722.5 L1628.3,725.5 L1628.3,728.5 L1628.3,731.5 L1628.3,734.5 L1628.3,737.5 L1628.3,740.5 L1628.2,743.5 L1628.2,746.5 L1628.2,749.5 L1628.1,752.5 L1628.1,755.5 L1628.0,758.5 L1627.9,761.5 L1627.9,764.5 L1627.8,767.5 L1627.7,770.5 L1627.6,773.5 L1627.5,776.5 L1627.4,779.5 L1627.3,782.5 L1627.2,785.5 L1627.0,788.5 L1626.9,791.5 L1626.7,794.5 L1626.6,797.5 L1626.5,800.5 L1626.4,803.5 L1626.3,806.5 L1626.2,809.5 L1626.1,812.5 L1626.0,815.5 L1626.0,818.5 L1625.9,821.5 L1625.8,824.5 L1625.8,827.5 L1625.7,830.5 L1625.6,833.5 L1625.6,836.5 L1625.5,839.5 L1625.5,842.5 L1625.4,845.5 L1625.3,848.5 L1625.3,851.5 L1625.2,854.5 L1625.2,857.5 L1625.1,860.5 L1625.1,863.5 L1625.0,866.5 L1625.0,869.5 L1625.0,872.5 L1624.9,875.5 L1624.9,878.5 L1624.8,881.5 L1624.8,884.5 L1624.8,887.5 L1624.7,890.5 L1624.7,893.5 L1624.7,896.5 L1624.6,899.5 L1624.6,902.5 L1624.5,905.5 L1624.5,908.5 L1624.4,911.5 L1624.4,914.5 L1624.3,917.5 L1624.3,920.5 L1624.2,923.5 L1624.2,926.5 L1624.1,929.5 L1624.1,932.5 L1624.0,935.5 L1624.0,938.5 L1623.9,941.5 L1623.9,944.5 L1623.8,947.5 L1623.8,950.5 L1623.7,953.5 L1623.7,956.5 L1623.6,959.5 L1623.6,962.5 L1623.6,965.5 L1623.5,968.5 L1623.5,971.5 L1623.4,974.5 L1623.4,977.5 L1623.3,980.5 L1623.3,983.5 L1623.2,986.5 L1623.2,989.5 L1623.1,992.5 L1623.1,995.5 L1623.1,998.5 L1623.1,1001.5 L1623.1,1004.5 L1623.1,1007.5 L1623.1,1010.5 L1623.2,1013.5 L1623.3,1016.5 L1623.4,1019.5 L1623.5,1022.5 L1623.7,1025.5 L1623.9,1028.5 L1624.1,1031.5 L1624.4,1034.5 L1624.7,1037.5 L1625.0,1040.5 L1625.3,1043.5 L1625.6,1046.5 L1626.0,1049.5 L1626.5,1052.5 L1627.0,1055.5 L1627.6,1058.5 L1628.3,1061.5 L1628.9,1064.5 L1629.7,1067.5 L1630.5,1070.5 L1631.3,1073.5 L1632.2,1076.5 L1633.2,1079.5 L1634.3,1082.5 L1635.5,1085.5 L1636.7,1088.5 L1637.9,1091.5 L1639.1,1094.5 L1640.4,1097.5 L1641.6,1100.5 L1642.9,1103.5 L1644.3,1106.5 L1645.6,1109.5 L1646.9,1112.5 L1648.3,1115.5 L1649.6,1118.5 L1650.9,1121.5 L1652.1,1124.5 L1653.3,1127.5 L1654.5,1130.5 L1655.6,1133.5 L1656.6,1136.5 L1657.5,1139.5 L1658.4,1142.5 L1659.1,1145.5 L1659.7,1148.5 L1660.2,1151.5 L1660.6,1154.5 L1660.9,1157.5 L1661.0,1160.5 L1661.0,1162.0Z" fill="#7EC0EE"/>
<path d="M1661.2,1162.0 L1661.3,1160.1 L1661.4,1157.1 L1661.7,1154.1 L1662.2,1151.1 L1662.7,1148.1 L1663.4,1145.1 L1664.2,1142.1 L1665.1,1139.1 L1666.1,1136.1 L1667.2,1133.1 L1668.4,1130.1 L1669.7,1127.1 L1671.0,1124.1 L1672.3,1121.1 L1673.7,1118.1 L1675.1,1115.1 L1676.5,1112.1 L1677.9,1109.1 L1679.4,1106.1 L1680.8,1103.1 L1682.1,1100.1 L1683.5,1097.1 L1684.8,1094.1 L1686.0,1091.1 L1687.2,1088.1 L1688.4,1085.1 L1689.5,1082.1 L1690.6,1079.1 L1691.6,1076.1 L1692.5,1073.1 L1693.4,1070.1 L1694.1,1067.1 L1694.9,1064.1 L1695.5,1061.1 L1696.0,1058.1 L1696.5,1055.1 L1696.9,1052.1 L1697.3,1049.1 L1697.7,1046.1 L1698.0,1043.1 L1698.3,1040.1 L1698.5,1037.1 L1698.7,1034.1 L1698.9,1031.1 L1699.0,1028.1 L1699.1,1025.1 L1699.2,1022.1 L1699.2,1019.1 L1699.3,1016.1 L1699.3,1013.1 L1699.3,1010.1 L1699.3,1007.1 L1699.3,1004.1 L1699.3,1001.1 L1699.3,998.1 L1699.2,995.1 L1699.2,992.1 L1699.1,989.1 L1699.1,986.1 L1699.0,983.1 L1698.9,980.1 L1698.9,977.1 L1698.8,974.1 L1698.7,971.1 L1698.7,968.1 L1698.6,965.1 L1698.6,962.1 L1698.5,959.1 L1698.5,956.1 L1698.4,953.1 L1698.4,950.1 L1698.3,947.1 L1698.3,944.1 L1698.2,941.1 L1698.2,938.1 L1698.1,935.1 L1698.1,932.1 L1698.0,929.1 L1698.0,926.1 L1697.9,923.1 L1697.9,920.1 L1697.8,917.1 L1697.7,914.1 L1697.7,911.1 L1697.6,908.1 L1697.6,905.1 L1697.5,902.1 L1697.5,899.1 L1697.4,896.1 L1697.4,893.1 L1697.3,890.1 L1697.3,887.1 L1697.3,884.1 L1697.2,881.1 L1697.2,878.1 L1697.1,875.1 L1697.1,872.1 L1697.0,869.1 L1697.0,866.1 L1696.9,863.1 L1696.9,860.1 L1696.8,857.1 L1696.8,854.1 L1696.7,851.1 L1696.6,848.1 L1696.6,845.1 L1696.5,842.1 L1696.4,839.1 L1696.4,836.1 L1696.3,833.1 L1696.2,830.1 L1696.1,827.1 L1696.1,824.1 L1696.0,821.1 L1695.9,818.1 L1695.8,815.1 L1695.8,812.1 L1695.7,809.1 L1695.6,806.1 L1695.5,803.1 L1695.4,800.1 L1695.3,797.1 L1695.2,794.1 L1695.1,791.1 L1694.9,788.1 L1694.8,785.1 L1694.7,782.1 L1694.6,779.1 L1694.5,776.1 L1694.4,773.1 L1694.4,770.1 L1694.3,767.1 L1694.2,764.1 L1694.1,761.1 L1694.1,758.1 L1694.0,755.1 L1693.9,752.1 L1693.9,749.1 L1693.8,746.1 L1693.8,743.1 L1693.7,740.1 L1693.7,737.1 L1693.6,734.1 L1693.6,731.1 L1693.6,728.1 L1693.6,725.1 L1693.6,722.1 L1693.7,719.1 L1693.7,716.1 L1693.7,713.1 L1693.8,710.1 L1693.9,707.1 L1693.9,704.1 L1694.0,701.1 L1694.0,698.1 L1694.1,695.1 L1694.2,692.1 L1694.3,689.1 L1694.4,686.1 L1694.4,683.1 L1694.5,680.1 L1694.6,677.1 L1694.7,674.1 L1694.8,671.1 L1694.9,668.1 L1695.1,665.1 L1695.2,662.1 L1695.3,659.1 L1695.4,656.1 L1695.5,653.1 L1695.6,650.1 L1695.8,647.1 L1695.9,644.1 L1696.0,641.1 L1696.2,638.1 L1696.3,635.1 L1696.4,632.1 L1696.6,629.1 L1696.7,626.1 L1696.8,623.1 L1696.9,620.1 L1697.0,617.1 L1697.1,614.1 L1697.2,611.1 L1697.3,608.1 L1697.4,605.1 L1697.4,602.1 L1697.5,599.1 L1697.6,596.1 L1697.7,593.1 L1697.7,590.1 L1697.8,587.1 L1697.9,584.1 L1697.9,581.1 L1698.0,578.1 L1698.1,575.1 L1698.1,572.1 L1698.2,569.1 L1698.2,566.1 L1698.3,563.1 L1698.3,560.1 L1698.4,557.1 L1698.4,554.1 L1698.5,551.1 L1698.5,548.1 L1698.6,545.1 L1698.6,542.1 L1698.7,539.1 L1698.7,536.1 L1698.7,533.1 L1698.8,530.1 L1698.8,527.1 L1698.8,524.1 L1698.9,521.1 L1698.9,518.1 L1699.0,515.1 L1699.0,512.1 L1699.0,509.1 L1699.0,506.1 L1699.1,503.1 L1699.1,500.1 L1699.1,497.1 L1699.1,494.1 L1699.2,491.1 L1699.2,488.1 L1699.2,485.1 L1699.2,482.1 L1699.3,479.1 L1699.3,476.1 L1699.3,473.1 L1699.3,470.1 L1699.3,467.1 L1699.4,464.1 L1699.4,461.1 L1699.4,458.1 L1699.4,455.1 L1699.4,452.1 L1699.5,449.1 L1699.5,446.1 L1699.5,443.1 L1699.5,440.1 L1699.5,437.1 L1699.5,434.1 L1699.5,431.1 L1699.6,428.1 L1699.6,425.1 L1699.6,422.1 L1699.6,419.1 L1699.6,416.1 L1699.6,413.1 L1699.7,410.1 L1699.7,407.1 L1699.7,404.1 L1699.7,401.1 L1699.7,398.1 L1699.7,395.1 L1699.7,392.1 L1699.8,389.1 L1699.8,386.1 L1699.8,383.1 L1699.8,380.1 L1699.8,377.1 L1699.8,374.1 L1699.8,371.1 L1699.8,368.1 L1699.9,365.1 L1699.9,362.1 L1699.9,359.1 L1699.9,356.1 L1699.9,353.1 L1699.9,350.1 L1699.9,347.1 L1699.9,344.1 L1700.0,341.1 L1700.0,338.1 L1700.0,335.1 L1700.0,332.1 L1700.0,329.1 L1700.0,326.1 L1700.0,323.1 L1700.0,320.1 L1700.1,317.1 L1700.1,314.1 L1700.1,311.1 L1700.1,308.1 L1700.1,305.1 L1700.1,302.1 L1700.1,299.1 L1700.1,296.1 L1700.1,293.1 L1700.2,290.1 L1700.2,287.1 L1700.2,284.1 L1700.2,281.1 L1700.2,278.1 L1700.2,275.1 L1700.2,272.1 L1700.2,269.1 L1700.2,266.1 L1700.2,263.1 L1700.2,260.1 L1700.3,257.1 L1700.3,254.1 L1700.3,251.1 L1700.3,248.1 L1700.3,245.1 L1700.3,242.1 L1700.3,239.1 L1700.9,239.1 L1700.9,242.1 L1700.9,245.1 L1700.9,248.1 L1700.9,251.1 L1700.9,254.1 L1700.9,257.1 L1701.0,260.1 L1701.0,263.1 L1701.0,266.1 L1701.0,269.1 L1701.0,272.1 L1701.0,275.1 L1701.0,278.1 L1701.0,281.1 L1701.0,284.1 L1701.0,287.1 L1701.0,290.1 L1701.1,293.1 L1701.1,296.1 L1701.1,299.1 L1701.1,302.1 L1701.1,305.1 L1701.1,308.1 L1701.1,311.1 L1701.1,314.1 L1701.1,317.1 L1701.2,320.1 L1701.2,323.1 L1701.2,326.1 L1701.2,329.1 L1701.2,332.1 L1701.2,335.1 L1701.2,338.1 L1701.2,341.1 L1701.3,344.1 L1701.3,347.1 L1701.3,350.1 L1701.3,353.1 L1701.3,356.1 L1701.3,359.1 L1701.3,362.1 L1701.3,365.1 L1701.4,368.1 L1701.4,371.1 L1701.4,374.1 L1701.4,377.1 L1701.4,380.1 L1701.4,383.1 L1701.4,386.1 L1701.4,389.1 L1701.5,392.1 L1701.5,395.1 L1701.5,398.1 L1701.5,401.1 L1701.5,404.1 L1701.5,407.1 L1701.5,410.1 L1701.6,413.1 L1701.6,416.1 L1701.6,419.1 L1701.6,422.1 L1701.6,425.1 L1701.6,428.1 L1701.7,431.1 L1701.7,434.1 L1701.7,437.1 L1701.7,440.1 L1701.7,443.1 L1701.7,446.1 L1701.7,449.1 L1701.8,452.1 L1701.8,455.1 L1701.8,458.1 L1701.8,461.1 L1701.8,464.1 L1701.9,467.1 L1701.9,470.1 L1701.9,473.1 L1701.9,476.1 L1701.9,479.1 L1702.0,482.1 L1702.0,485.1 L1702.0,488.1 L1702.0,491.1 L1702.1,494.1 L1702.1,497.1 L1702.1,500.1 L1702.1,503.1 L1702.2,506.1 L1702.2,509.1 L1702.2,512.1 L1702.2,515.1 L1702.3,518.1 L1702.3,521.1 L1702.4,524.1 L1702.4,527.1 L1702.4,530.1 L1702.5,533.1 L1702.5,536.1 L1702.5,539.1 L1702.6,542.1 L1702.6,545.1 L1702.7,548.1 L1702.7,551.1 L1702.8,554.1 L1702.8,557.1 L1702.9,560.1 L1702.9,563.1 L1703.0,566.1 L1703.0,569.1 L1703.1,572.1 L1703.1,575.1 L1703.2,578.1 L1703.3,581.1 L1703.3,584.1 L1703.4,587.1 L1703.5,590.1 L1703.5,593.1 L1703.6,596.1 L1703.7,599.1 L1703.8,602.1 L1703.8,605.1 L1703.9,608.1 L1704.0,611.1 L1704.1,614.1 L1704.2,617.1 L1704.3,620.1 L1704.4,623.1 L1704.5,626.1 L1704.6,629.1 L1704.8,632.1 L1704.9,635.1 L1705.0,638.1 L1705.2,641.1 L1705.3,644.1 L1705.4,647.1 L1705.6,650.1 L1705.7,653.1 L1705.8,656.1 L1705.9,659.1 L1706.0,662.1 L1706.1,665.1 L1706.3,668.1 L1706.4,671.1 L1706.5,674.1 L1706.6,677.1 L1706.7,680.1 L1706.8,683.1 L1706.8,686.1 L1706.9,689.1 L1707.0,692.1 L1707.1,695.1 L1707.2,698.1 L1707.2,701.1 L1707.3,704.1 L1707.3,707.1 L1707.4,710.1 L1707.5,713.1 L1707.5,716.1 L1707.5,719.1 L1707.6,722.1 L1707.6,725.1 L1707.6,728.1 L1707.6,731.1 L1707.6,734.1 L1707.5,737.1 L1707.5,740.1 L1707.4,743.1 L1707.4,746.1 L1707.3,749.1 L1707.3,752.1 L1707.2,755.1 L1707.1,758.1 L1707.1,761.1 L1707.0,764.1 L1706.9,767.1 L1706.8,770.1 L1706.8,773.1 L1706.7,776.1 L1706.6,779.1 L1706.5,782.1 L1706.4,785.1 L1706.3,788.1 L1706.1,791.1 L1706.0,794.1 L1705.9,797.1 L1705.8,800.1 L1705.7,803.1 L1705.6,806.1 L1705.5,809.1 L1705.4,812.1 L1705.4,815.1 L1705.3,818.1 L1705.2,821.1 L1705.1,824.1 L1705.1,827.1 L1705.0,830.1 L1704.9,833.1 L1704.8,836.1 L1704.8,839.1 L1704.7,842.1 L1704.6,845.1 L1704.6,848.1 L1704.5,851.1 L1704.4,854.1 L1704.4,857.1 L1704.3,860.1 L1704.3,863.1 L1704.2,866.1 L1704.2,869.1 L1704.1,872.1 L1704.1,875.1 L1704.0,878.1 L1704.0,881.1 L1703.9,884.1 L1703.9,887.1 L1703.9,890.1 L1703.8,893.1 L1703.8,896.1 L1703.7,899.1 L1703.7,902.1 L1703.6,905.1 L1703.6,908.1 L1703.5,911.1 L1703.5,914.1 L1703.4,917.1 L1703.3,920.1 L1703.3,923.1 L1703.2,926.1 L1703.2,929.1 L1703.1,932.1 L1703.1,935.1 L1703.0,938.1 L1703.0,941.1 L1702.9,944.1 L1702.9,947.1 L1702.8,950.1 L1702.8,953.1 L1702.7,956.1 L1702.7,959.1 L1702.6,962.1 L1702.6,965.1 L1702.5,968.1 L1702.5,971.1 L1702.4,974.1 L1702.3,977.1 L1702.3,980.1 L1702.2,983.1 L1702.1,986.1 L1702.1,989.1 L1702.0,992.1 L1702.0,995.1 L1701.9,998.1 L1701.9,1001.1 L1701.9,1004.1 L1701.9,1007.1 L1701.9,1010.1 L1701.9,1013.1 L1701.9,1016.1 L1702.0,1019.1 L1702.0,1022.1 L1702.1,1025.1 L1702.2,1028.1 L1702.3,1031.1 L1702.5,1034.1 L1702.7,1037.1 L1702.9,1040.1 L1703.2,1043.1 L1703.5,1046.1 L1703.9,1049.1 L1704.3,1052.1 L1704.7,1055.1 L1705.2,1058.1 L1705.7,1061.1 L1706.3,1064.1 L1707.1,1067.1 L1707.8,1070.1 L1708.7,1073.1 L1709.6,1076.1 L1710.6,1079.1 L1711.7,1082.1 L1712.8,1085.1 L1714.0,1088.1 L1715.2,1091.1 L1716.4,1094.1 L1717.7,1097.1 L1719.1,1100.1 L1720.4,1103.1 L1721.8,1106.1 L1723.3,1109.1 L1724.7,1112.1 L1726.1,1115.1 L1727.5,1118.1 L1728.9,1121.1 L1730.2,1124.1 L1731.5,1127.1 L1732.8,1130.1 L1734.0,1133.1 L1735.1,1136.1 L1736.1,1139.1 L1737.0,1142.1 L1737.8,1145.1 L1738.5,1148.1 L1739.0,1151.1 L1739.5,1154.1 L1739.8,1157.1 L1739.9,1160.1 L1740.0,1162.0Z" fill="#436EEE"/>
<path d="M1740.2,1162.0 L1740.2,1160.7 L1740.4,1157.7 L1740.7,1154.7 L1741.1,1151.7 L1741.7,1148.7 L1742.4,1145.7 L1743.3,1142.7 L1744.2,1139.7 L1745.2,1136.7 L1746.3,1133.7 L1747.5,1130.7 L1748.8,1127.7 L1750.1,1124.7 L1751.5,1121.7 L1752.8,1118.7 L1754.2,1115.7 L1755.7,1112.7 L1757.1,1109.7 L1758.5,1106.7 L1759.9,1103.7 L1761.2,1100.7 L1762.5,1097.7 L1763.8,1094.7 L1765.1,1091.7 L1766.2,1088.7 L1767.3,1085.7 L1768.4,1082.7 L1769.4,1079.7 L1770.3,1076.7 L1771.2,1073.7 L1772.0,1070.7 L1772.7,1067.7 L1773.4,1064.7 L1773.9,1061.7 L1774.4,1058.7 L1774.8,1055.7 L1775.2,1052.7 L1775.4,1049.7 L1775.7,1046.7 L1775.9,1043.7 L1776.1,1040.7 L1776.2,1037.7 L1776.3,1034.7 L1776.3,1031.7 L1776.3,1028.7 L1776.2,1025.7 L1776.1,1022.7 L1776.0,1019.7 L1775.8,1016.7 L1775.6,1013.7 L1775.4,1010.7 L1775.2,1007.7 L1775.0,1004.7 L1774.8,1001.7 L1774.6,998.7 L1774.4,995.7 L1774.3,992.7 L1774.1,989.7 L1774.0,986.7 L1773.8,983.7 L1773.7,980.7 L1773.5,977.7 L1773.3,974.7 L1773.1,971.7 L1772.9,968.7 L1772.7,965.7 L1772.5,962.7 L1772.3,959.7 L1772.1,956.7 L1771.9,953.7 L1771.7,950.7 L1771.5,947.7 L1771.4,944.7 L1771.2,941.7 L1771.1,938.7 L1770.9,935.7 L1770.8,932.7 L1770.6,929.7 L1770.5,926.7 L1770.4,923.7 L1770.3,920.7 L1770.2,917.7 L1770.1,914.7 L1770.0,911.7 L1769.9,908.7 L1769.8,905.7 L1769.7,902.7 L1769.6,899.7 L1769.6,896.7 L1769.5,893.7 L1769.5,890.7 L1769.4,887.7 L1769.4,884.7 L1769.3,881.7 L1769.3,878.7 L1769.2,875.7 L1769.2,872.7 L1769.2,869.7 L1769.1,866.7 L1769.1,863.7 L1769.1,860.7 L1769.1,857.7 L1769.1,854.7 L1769.1,851.7 L1769.1,848.7 L1769.1,845.7 L1769.1,842.7 L1769.1,839.7 L1769.1,836.7 L1769.2,833.7 L1769.2,830.7 L1769.2,827.7 L1769.3,824.7 L1769.3,821.7 L1769.3,818.7 L1769.4,815.7 L1769.4,812.7 L1769.5,809.7 L1769.6,806.7 L1769.6,803.7 L1769.7,800.7 L1769.8,797.7 L1769.9,794.7 L1769.9,791.7 L1770.1,788.7 L1770.2,785.7 L1770.3,782.7 L1770.4,779.7 L1770.5,776.7 L1770.7,773.7 L1770.8,770.7 L1771.0,767.7 L1771.2,764.7 L1771.3,761.7 L1771.5,758.7 L1771.7,755.7 L1771.9,752.7 L1772.0,749.7 L1772.2,746.7 L1772.4,743.7 L1772.5,740.7 L1772.7,737.7 L1772.9,734.7 L1773.0,731.7 L1773.2,728.7 L1773.4,725.7 L1773.5,722.7 L1773.7,719.7 L1773.9,716.7 L1774.1,713.7 L1774.2,710.7 L1774.4,707.7 L1774.6,704.7 L1774.7,701.7 L1774.9,698.7 L1775.0,695.7 L1775.1,692.7 L1775.3,689.7 L1775.4,686.7 L1775.5,683.7 L1775.7,680.7 L1775.8,677.7 L1775.9,674.7 L1776.0,671.7 L1776.1,668.7 L1776.3,665.7 L1776.4,662.7 L1776.5,659.7 L1776.6,656.7 L1776.7,653.7 L1776.8,650.7 L1776.9,647.7 L1776.9,644.7 L1777.0,641.7 L1777.1,638.7 L1777.2,635.7 L1777.3,632.7 L1777.4,629.7 L1777.4,626.7 L1777.5,623.7 L1777.5,620.7 L1777.6,617.7 L1777.6,614.7 L1777.6,611.7 L1777.7,608.7 L1777.7,605.7 L1777.7,602.7 L1777.8,599.7 L1777.8,596.7 L1777.8,593.7 L1777.9,590.7 L1777.9,587.7 L1778.0,584.7 L1778.0,581.7 L1778.0,578.7 L1778.1,575.7 L1778.1,572.7 L1778.2,569.7 L1778.2,566.7 L1778.2,563.7 L1778.3,560.7 L1778.3,557.7 L1778.3,554.7 L1778.4,551.7 L1778.4,548.7 L1778.5,545.7 L1778.5,542.7 L1778.5,539.7 L1778.6,536.7 L1778.6,533.7 L1778.6,530.7 L1778.7,527.7 L1778.7,524.7 L1778.7,521.7 L1778.8,518.7 L1778.8,515.7 L1778.8,512.7 L1778.8,509.7 L1778.9,506.7 L1778.9,503.7 L1778.9,500.7 L1778.9,497.7 L1778.9,494.7 L1779.0,491.7 L1779.0,488.7 L1779.0,485.7 L1779.0,482.7 L1779.0,479.7 L1779.1,476.7 L1779.1,473.7 L1779.1,470.7 L1779.1,467.7 L1779.1,464.7 L1779.1,461.7 L1779.2,458.7 L1779.2,455.7 L1779.2,452.7 L1779.2,449.7 L1779.2,446.7 L1779.2,443.7 L1779.2,440.7 L1779.2,437.7 L1779.2,434.7 L1779.2,431.7 L1779.9,431.7 L1779.9,434.7 L1779.9,437.7 L1779.9,440.7 L1779.9,443.7 L1779.9,446.7 L1779.9,449.7 L1779.9,452.7 L1779.9,455.7 L1779.9,458.7 L1780.0,461.7 L1780.0,464.7 L1780.0,467.7 L1780.0,470.7 L1780.0,473.7 L1780.0,476.7 L1780.1,479.7 L1780.1,482.7 L1780.1,485.7 L1780.1,488.7 L1780.1,491.7 L1780.2,494.7 L1780.2,497.7 L1780.2,500.7 L1780.2,503.7 L1780.2,506.7 L1780.3,509.7 L1780.3,512.7 L1780.3,515.7 L1780.3,518.7 L1780.4,521.7 L1780.4,524.7 L1780.4,527.7 L1780.5,530.7 L1780.5,533.7 L1780.5,536.7 L1780.6,539.7 L1780.6,542.7 L1780.6,545.7 L1780.7,548.7 L1780.7,551.7 L1780.7,554.7 L1780.8,557.7 L1780.8,560.7 L1780.9,563.7 L1780.9,566.7 L1780.9,569.7 L1781.0,572.7 L1781.0,575.7 L1781.1,578.7 L1781.1,581.7 L1781.1,584.7 L1781.2,587.7 L1781.2,590.7 L1781.3,593.7 L1781.3,596.7 L1781.3,599.7 L1781.4,602.7 L1781.4,605.7 L1781.4,608.7 L1781.5,611.7 L1781.5,614.7 L1781.5,617.7 L1781.6,620.7 L1781.6,623.7 L1781.7,626.7 L1781.7,629.7 L1781.8,632.7 L1781.9,635.7 L1782.0,638.7 L1782.1,641.7 L1782.2,644.7 L1782.2,647.7 L1782.3,650.7 L1782.4,653.7 L1782.5,656.7 L1782.6,659.7 L1782.7,662.7 L1782.8,665.7 L1783.0,668.7 L1783.1,671.7 L1783.2,674.7 L1783.3,677.7 L1783.4,680.7 L1783.5,683.7 L1783.7,686.7 L1783.8,689.7 L1784.0,692.7 L1784.1,695.7 L1784.2,698.7 L1784.4,701.7 L1784.5,704.7 L1784.7,707.7 L1784.9,710.7 L1785.0,713.7 L1785.2,716.7 L1785.4,719.7 L1785.6,722.7 L1785.7,725.7 L1785.9,728.7 L1786.1,731.7 L1786.2,734.7 L1786.4,737.7 L1786.6,740.7 L1786.7,743.7 L1786.9,746.7 L1787.1,749.7 L1787.2,752.7 L1787.4,755.7 L1787.6,758.7 L1787.7,761.7 L1787.9,764.7 L1788.1,767.7 L1788.3,770.7 L1788.4,773.7 L1788.6,776.7 L1788.7,779.7 L1788.8,782.7 L1788.9,785.7 L1789.0,788.7 L1789.1,791.7 L1789.2,794.7 L1789.3,797.7 L1789.4,800.7 L1789.5,803.7 L1789.5,806.7 L1789.6,809.7 L1789.7,812.7 L1789.7,815.7 L1789.8,818.7 L1789.8,821.7 L1789.8,824.7 L1789.9,827.7 L1789.9,830.7 L1789.9,833.7 L1790.0,836.7 L1790.0,839.7 L1790.0,842.7 L1790.0,845.7 L1790.0,848.7 L1790.0,851.7 L1790.0,854.7 L1790.0,857.7 L1790.0,860.7 L1790.0,863.7 L1790.0,866.7 L1789.9,869.7 L1789.9,872.7 L1789.9,875.7 L1789.8,878.7 L1789.8,881.7 L1789.7,884.7 L1789.7,887.7 L1789.6,890.7 L1789.6,893.7 L1789.5,896.7 L1789.4,899.7 L1789.4,902.7 L1789.3,905.7 L1789.2,908.7 L1789.1,911.7 L1789.0,914.7 L1788.9,917.7 L1788.8,920.7 L1788.7,923.7 L1788.6,926.7 L1788.5,929.7 L1788.3,932.7 L1788.2,935.7 L1788.0,938.7 L1787.9,941.7 L1787.7,944.7 L1787.5,947.7 L1787.4,950.7 L1787.2,953.7 L1787.0,956.7 L1786.8,959.7 L1786.6,962.7 L1786.4,965.7 L1786.2,968.7 L1786.0,971.7 L1785.8,974.7 L1785.6,977.7 L1785.4,980.7 L1785.3,983.7 L1785.1,986.7 L1785.0,989.7 L1784.8,992.7 L1784.7,995.7 L1784.5,998.7 L1784.3,1001.7 L1784.1,1004.7 L1783.9,1007.7 L1783.7,1010.7 L1783.5,1013.7 L1783.3,1016.7 L1783.1,1019.7 L1783.0,1022.7 L1782.9,1025.7 L1782.8,1028.7 L1782.8,1031.7 L1782.8,1034.7 L1782.9,1037.7 L1783.0,1040.7 L1783.2,1043.7 L1783.4,1046.7 L1783.6,1049.7 L1783.9,1052.7 L1784.3,1055.7 L1784.7,1058.7 L1785.1,1061.7 L1785.7,1064.7 L1786.4,1067.7 L1787.1,1070.7 L1787.9,1073.7 L1788.8,1076.7 L1789.7,1079.7 L1790.7,1082.7 L1791.8,1085.7 L1792.9,1088.7 L1794.0,1091.7 L1795.3,1094.7 L1796.6,1097.7 L1797.9,1100.7 L1799.2,1103.7 L1800.6,1106.7 L1802.0,1109.7 L1803.4,1112.7 L1804.8,1115.7 L1806.3,1118.7 L1807.6,1121.7 L1809.0,1124.7 L1810.3,1127.7 L1811.6,1130.7 L1812.8,1133.7 L1813.9,1136.7 L1814.9,1139.7 L1815.8,1142.7 L1816.7,1145.7 L1817.4,1148.7 L1818.0,1151.7 L1818.4,1154.7 L1818.7,1157.7 L1818.9,1160.7 L1818.9,1162.0Z" fill="#FF3030"/>
<path d="M1845.4,1162.0 L1845.4,1161.3 L1845.5,1158.3 L1845.7,1155.3 L1846.1,1152.3 L1846.5,1149.3 L1847.1,1146.3 L1847.9,1143.3 L1848.7,1140.3 L1849.7,1137.3 L1850.8,1134.3 L1852.0,1131.3 L1853.3,1128.3 L1854.7,1125.3 L1856.1,1122.3 L1857.6,1119.3 L1859.1,1116.3 L1860.6,1113.3 L1862.2,1110.3 L1863.7,1107.3 L1865.2,1104.3 L1866.7,1101.3 L1868.1,1098.3 L1869.5,1095.3 L1870.9,1092.3 L1872.2,1089.3 L1873.4,1086.3 L1874.5,1083.3 L1875.6,1080.3 L1876.6,1077.3 L1877.6,1074.3 L1878.5,1071.3 L1879.3,1068.3 L1880.0,1065.3 L1880.7,1062.3 L1881.2,1059.3 L1881.7,1056.3 L1882.1,1053.3 L1882.4,1050.3 L1882.7,1047.3 L1882.9,1044.3 L1883.0,1041.3 L1883.1,1038.3 L1883.2,1035.3 L1883.2,1032.3 L1883.3,1029.3 L1883.3,1026.3 L1883.2,1023.3 L1883.2,1020.3 L1883.1,1017.3 L1883.0,1014.3 L1882.9,1011.3 L1882.8,1008.3 L1882.7,1005.3 L1882.6,1002.3 L1882.5,999.3 L1882.4,996.3 L1882.4,993.3 L1882.3,990.3 L1882.2,987.3 L1882.2,984.3 L1882.1,981.3 L1882.0,978.3 L1881.9,975.3 L1881.8,972.3 L1881.7,969.3 L1881.6,966.3 L1881.5,963.3 L1881.4,960.3 L1881.3,957.3 L1881.2,954.3 L1881.0,951.3 L1880.9,948.3 L1880.7,945.3 L1880.6,942.3 L1880.4,939.3 L1880.3,936.3 L1880.1,933.3 L1879.9,930.3 L1879.8,927.3 L1879.7,924.3 L1879.5,921.3 L1879.4,918.3 L1879.3,915.3 L1879.2,912.3 L1879.1,909.3 L1879.0,906.3 L1878.9,903.3 L1878.7,900.3 L1878.6,897.3 L1878.5,894.3 L1878.4,891.3 L1878.3,888.3 L1878.2,885.3 L1878.1,882.3 L1878.0,879.3 L1877.9,876.3 L1877.8,873.3 L1877.8,870.3 L1877.7,867.3 L1877.7,864.3 L1877.6,861.3 L1877.6,858.3 L1877.5,855.3 L1877.5,852.3 L1877.5,849.3 L1877.5,846.3 L1877.5,843.3 L1877.5,840.3 L1877.5,837.3 L1877.5,834.3 L1877.5,831.3 L1877.5,828.3 L1877.5,825.3 L1877.5,822.3 L1877.6,819.3 L1877.6,816.3 L1877.7,813.3 L1877.7,810.3 L1877.8,807.3 L1877.9,804.3 L1878.0,801.3 L1878.1,798.3 L1878.2,795.3 L1878.3,792.3 L1878.4,789.3 L1878.5,786.3 L1878.6,783.3 L1878.7,780.3 L1878.9,777.3 L1879.0,774.3 L1879.0,771.3 L1879.1,768.3 L1879.2,765.3 L1879.3,762.3 L1879.4,759.3 L1879.5,756.3 L1879.6,753.3 L1879.7,750.3 L1879.8,747.3 L1879.9,744.3 L1880.0,741.3 L1880.1,738.3 L1880.2,735.3 L1880.3,732.3 L1880.4,729.3 L1880.5,726.3 L1880.6,723.3 L1880.7,720.3 L1880.7,717.3 L1880.8,714.3 L1880.9,711.3 L1881.0,708.3 L1881.0,705.3 L1881.1,702.3 L1881.2,699.3 L1881.3,696.3 L1881.3,693.3 L1881.4,690.3 L1881.5,687.3 L1881.5,684.3 L1881.6,681.3 L1881.7,678.3 L1881.7,675.3 L1881.8,672.3 L1881.9,669.3 L1881.9,666.3 L1882.0,663.3 L1882.0,660.3 L1882.1,657.3 L1882.1,654.3 L1882.2,651.3 L1882.3,648.3 L1882.4,645.3 L1882.5,642.3 L1882.5,639.3 L1882.6,636.3 L1882.7,633.3 L1882.8,630.3 L1882.9,627.3 L1882.9,624.3 L1883.0,621.3 L1883.0,618.3 L1883.1,615.3 L1883.1,612.3 L1883.2,609.3 L1883.2,606.3 L1883.3,603.3 L1883.3,600.3 L1883.4,597.3 L1883.4,594.3 L1883.4,591.3 L1883.5,588.3 L1883.5,585.3 L1883.6,582.3 L1883.6,579.3 L1883.7,576.3 L1883.7,573.3 L1883.8,570.3 L1883.8,567.3 L1883.9,564.3 L1883.9,561.3 L1884.0,558.3 L1884.0,555.3 L1884.1,552.3 L1884.1,549.3 L1884.2,546.3 L1884.2,543.3 L1884.2,540.3 L1884.2,537.3 L1884.2,534.3 L1884.3,531.3 L1884.3,528.3 L1884.3,525.3 L1884.3,522.3 L1884.3,519.3 L1884.3,516.3 L1884.4,513.3 L1884.4,510.3 L1884.4,507.3 L1884.4,504.3 L1884.4,501.3 L1884.4,498.3 L1884.4,495.3 L1884.4,492.3 L1884.4,489.3 L1884.5,486.3 L1884.5,483.3 L1884.5,480.3 L1884.5,477.3 L1884.5,474.3 L1884.5,471.3 L1884.5,468.3 L1884.5,465.3 L1884.5,462.3 L1884.5,459.3 L1884.5,456.3 L1884.5,453.3 L1884.5,450.3 L1884.5,447.3 L1885.1,447.3 L1885.1,450.3 L1885.1,453.3 L1885.1,456.3 L1885.1,459.3 L1885.1,462.3 L1885.1,465.3 L1885.1,468.3 L1885.1,471.3 L1885.1,474.3 L1885.1,477.3 L1885.2,480.3 L1885.2,483.3 L1885.2,486.3 L1885.2,489.3 L1885.2,492.3 L1885.2,495.3 L1885.2,498.3 L1885.2,501.3 L1885.2,504.3 L1885.2,507.3 L1885.3,510.3 L1885.3,513.3 L1885.3,516.3 L1885.3,519.3 L1885.3,522.3 L1885.3,525.3 L1885.3,528.3 L1885.4,531.3 L1885.4,534.3 L1885.4,537.3 L1885.4,540.3 L1885.4,543.3 L1885.5,546.3 L1885.5,549.3 L1885.5,552.3 L1885.6,555.3 L1885.6,558.3 L1885.7,561.3 L1885.7,564.3 L1885.8,567.3 L1885.8,570.3 L1885.9,573.3 L1886.0,576.3 L1886.0,579.3 L1886.0,582.3 L1886.1,585.3 L1886.1,588.3 L1886.2,591.3 L1886.2,594.3 L1886.3,597.3 L1886.3,600.3 L1886.4,603.3 L1886.4,606.3 L1886.4,609.3 L1886.5,612.3 L1886.5,615.3 L1886.6,618.3 L1886.6,621.3 L1886.7,624.3 L1886.8,627.3 L1886.8,630.3 L1886.9,633.3 L1887.0,636.3 L1887.1,639.3 L1887.2,642.3 L1887.3,645.3 L1887.3,648.3 L1887.4,651.3 L1887.5,654.3 L1887.5,657.3 L1887.6,660.3 L1887.7,663.3 L1887.7,666.3 L1887.8,669.3 L1887.8,672.3 L1887.9,675.3 L1888.0,678.3 L1888.0,681.3 L1888.1,684.3 L1888.2,687.3 L1888.2,690.3 L1888.3,693.3 L1888.4,696.3 L1888.4,699.3 L1888.5,702.3 L1888.6,705.3 L1888.7,708.3 L1888.7,711.3 L1888.8,714.3 L1888.9,717.3 L1889.0,720.3 L1889.0,723.3 L1889.1,726.3 L1889.2,729.3 L1889.3,732.3 L1889.4,735.3 L1889.5,738.3 L1889.6,741.3 L1889.7,744.3 L1889.8,747.3 L1889.9,750.3 L1890.0,753.3 L1890.1,756.3 L1890.2,759.3 L1890.3,762.3 L1890.4,765.3 L1890.5,768.3 L1890.6,771.3 L1890.7,774.3 L1890.8,777.3 L1890.9,780.3 L1891.0,783.3 L1891.1,786.3 L1891.2,789.3 L1891.3,792.3 L1891.5,795.3 L1891.6,798.3 L1891.6,801.3 L1891.7,804.3 L1891.8,807.3 L1891.9,810.3 L1891.9,813.3 L1892.0,816.3 L1892.1,819.3 L1892.1,822.3 L1892.1,825.3 L1892.1,828.3 L1892.1,831.3 L1892.1,834.3 L1892.1,837.3 L1892.1,840.3 L1892.1,843.3 L1892.1,846.3 L1892.1,849.3 L1892.1,852.3 L1892.1,855.3 L1892.1,858.3 L1892.0,861.3 L1892.0,864.3 L1891.9,867.3 L1891.8,870.3 L1891.8,873.3 L1891.7,876.3 L1891.6,879.3 L1891.5,882.3 L1891.4,885.3 L1891.3,888.3 L1891.2,891.3 L1891.1,894.3 L1891.0,897.3 L1890.9,900.3 L1890.8,903.3 L1890.7,906.3 L1890.5,909.3 L1890.4,912.3 L1890.3,915.3 L1890.2,918.3 L1890.1,921.3 L1889.9,924.3 L1889.8,927.3 L1889.7,930.3 L1889.5,933.3 L1889.4,936.3 L1889.2,939.3 L1889.0,942.3 L1888.9,945.3 L1888.7,948.3 L1888.6,951.3 L1888.5,954.3 L1888.3,957.3 L1888.2,960.3 L1888.1,963.3 L1888.0,966.3 L1887.9,969.3 L1887.8,972.3 L1887.7,975.3 L1887.6,978.3 L1887.5,981.3 L1887.5,984.3 L1887.4,987.3 L1887.3,990.3 L1887.3,993.3 L1887.2,996.3 L1887.1,999.3 L1887.0,1002.3 L1887.0,1005.3 L1886.9,1008.3 L1886.8,1011.3 L1886.7,1014.3 L1886.6,1017.3 L1886.5,1020.3 L1886.4,1023.3 L1886.3,1026.3 L1886.3,1029.3 L1886.4,1032.3 L1886.4,1035.3 L1886.5,1038.3 L1886.6,1041.3 L1886.8,1044.3 L1887.0,1047.3 L1887.2,1050.3 L1887.5,1053.3 L1887.9,1056.3 L1888.4,1059.3 L1888.9,1062.3 L1889.6,1065.3 L1890.3,1068.3 L1891.2,1071.3 L1892.1,1074.3 L1893.0,1077.3 L1894.0,1080.3 L1895.1,1083.3 L1896.3,1086.3 L1897.5,1089.3 L1898.8,1092.3 L1900.1,1095.3 L1901.5,1098.3 L1902.9,1101.3 L1904.4,1104.3 L1905.9,1107.3 L1907.5,1110.3 L1909.0,1113.3 L1910.5,1116.3 L1912.0,1119.3 L1913.5,1122.3 L1914.9,1125.3 L1916.3,1128.3 L1917.6,1131.3 L1918.8,1134.3 L1919.9,1137.3 L1920.9,1140.3 L1921.7,1143.3 L1922.5,1146.3 L1923.1,1149.3 L1923.6,1152.3 L1923.9,1155.3 L1924.1,1158.3 L1924.2,1161.3 L1924.2,1162.0Z" fill="#7EC0EE"/>
<path d="M1924.4,1162.0 L1924.4,1160.8 L1924.5,1157.8 L1924.8,1154.8 L1925.1,1151.8 L1925.7,1148.8 L1926.4,1145.8 L1927.2,1142.8 L1928.1,1139.8 L1929.2,1136.8 L1930.4,1133.8 L1931.8,1130.8 L1933.2,1127.8 L1934.6,1124.8 L1936.2,1121.8 L1937.8,1118.8 L1939.4,1115.8 L1941.1,1112.8 L1942.7,1109.8 L1944.4,1106.8 L1946.0,1103.8 L1947.6,1100.8 L1949.1,1097.8 L1950.6,1094.8 L1952.0,1091.8 L1953.3,1088.8 L1954.6,1085.8 L1955.8,1082.8 L1956.9,1079.8 L1958.0,1076.8 L1958.9,1073.8 L1959.7,1070.8 L1960.4,1067.8 L1961.1,1064.8 L1961.5,1061.8 L1961.9,1058.8 L1962.1,1055.8 L1962.3,1052.8 L1962.5,1049.8 L1962.6,1046.8 L1962.7,1043.8 L1962.7,1040.8 L1962.7,1037.8 L1962.7,1034.8 L1962.6,1031.8 L1962.5,1028.8 L1962.4,1025.8 L1962.3,1022.8 L1962.1,1019.8 L1962.0,1016.8 L1961.9,1013.8 L1961.8,1010.8 L1961.8,1007.8 L1961.7,1004.8 L1961.7,1001.8 L1961.6,998.8 L1961.6,995.8 L1961.5,992.8 L1961.4,989.8 L1961.4,986.8 L1961.3,983.8 L1961.2,980.8 L1961.1,977.8 L1961.0,974.8 L1961.0,971.8 L1960.9,968.8 L1960.8,965.8 L1960.7,962.8 L1960.6,959.8 L1960.4,956.8 L1960.3,953.8 L1960.2,950.8 L1960.1,947.8 L1960.0,944.8 L1959.8,941.8 L1959.7,938.8 L1959.6,935.8 L1959.4,932.8 L1959.3,929.8 L1959.2,926.8 L1959.1,923.8 L1959.0,920.8 L1958.9,917.8 L1958.8,914.8 L1958.7,911.8 L1958.6,908.8 L1958.5,905.8 L1958.4,902.8 L1958.3,899.8 L1958.2,896.8 L1958.1,893.8 L1958.1,890.8 L1958.0,887.8 L1957.9,884.8 L1957.9,881.8 L1957.8,878.8 L1957.7,875.8 L1957.7,872.8 L1957.6,869.8 L1957.5,866.8 L1957.5,863.8 L1957.4,860.8 L1957.4,857.8 L1957.3,854.8 L1957.3,851.8 L1957.3,848.8 L1957.3,845.8 L1957.3,842.8 L1957.3,839.8 L1957.3,836.8 L1957.3,833.8 L1957.3,830.8 L1957.3,827.8 L1957.3,824.8 L1957.3,821.8 L1957.3,818.8 L1957.4,815.8 L1957.4,812.8 L1957.4,809.8 L1957.5,806.8 L1957.5,803.8 L1957.6,800.8 L1957.6,797.8 L1957.6,794.8 L1957.7,791.8 L1957.8,788.8 L1957.8,785.8 L1957.9,782.8 L1958.0,779.8 L1958.1,776.8 L1958.1,773.8 L1958.2,770.8 L1958.3,767.8 L1958.4,764.8 L1958.5,761.8 L1958.6,758.8 L1958.7,755.8 L1958.8,752.8 L1958.9,749.8 L1959.0,746.8 L1959.1,743.8 L1959.2,740.8 L1959.3,737.8 L1959.4,734.8 L1959.5,731.8 L1959.6,728.8 L1959.7,725.8 L1959.8,722.8 L1959.9,719.8 L1959.9,716.8 L1960.0,713.8 L1960.1,710.8 L1960.2,707.8 L1960.2,704.8 L1960.3,701.8 L1960.4,698.8 L1960.5,695.8 L1960.5,692.8 L1960.6,689.8 L1960.7,686.8 L1960.8,683.8 L1960.8,680.8 L1960.9,677.8 L1961.0,674.8 L1961.1,671.8 L1961.2,668.8 L1961.2,665.8 L1961.3,662.8 L1961.4,659.8 L1961.5,656.8 L1961.6,653.8 L1961.7,650.8 L1961.8,647.8 L1961.8,644.8 L1961.9,641.8 L1962.0,638.8 L1962.1,635.8 L1962.2,632.8 L1962.3,629.8 L1962.4,626.8 L1962.4,623.8 L1962.5,620.8 L1962.6,617.8 L1962.6,614.8 L1962.7,611.8 L1962.8,608.8 L1962.8,605.8 L1962.8,602.8 L1962.9,599.8 L1962.9,596.8 L1962.9,593.8 L1962.9,590.8 L1962.9,587.8 L1962.9,584.8 L1962.9,581.8 L1962.9,578.8 L1962.9,575.8 L1963.0,572.8 L1963.0,569.8 L1963.0,566.8 L1963.0,563.8 L1963.0,560.8 L1963.0,557.8 L1963.0,554.8 L1963.0,551.8 L1963.1,548.8 L1963.1,545.8 L1963.1,542.8 L1963.1,539.8 L1963.1,536.8 L1963.1,533.8 L1963.1,530.8 L1963.2,527.8 L1963.2,524.8 L1963.2,521.8 L1963.2,518.8 L1963.2,515.8 L1963.2,512.8 L1963.2,509.8 L1963.2,506.8 L1963.2,503.8 L1963.3,500.8 L1963.3,497.8 L1963.3,494.8 L1963.3,491.8 L1963.3,488.8 L1963.3,485.8 L1963.3,482.8 L1963.3,479.8 L1963.3,476.8 L1963.3,473.8 L1963.3,470.8 L1963.3,467.8 L1963.3,464.8 L1963.3,461.8 L1963.4,458.8 L1963.4,455.8 L1963.4,452.8 L1963.4,449.8 L1963.4,446.8 L1963.4,443.8 L1963.4,440.8 L1963.4,437.8 L1963.4,434.8 L1963.4,431.8 L1963.4,428.8 L1963.4,425.8 L1963.4,422.8 L1963.4,419.8 L1963.4,416.8 L1963.4,413.8 L1963.4,410.8 L1963.4,407.8 L1963.4,404.8 L1963.4,401.8 L1963.4,398.8 L1963.4,395.8 L1963.5,392.8 L1963.5,389.8 L1963.5,386.8 L1963.5,383.8 L1963.5,380.8 L1963.5,377.8 L1963.5,374.8 L1963.5,371.8 L1963.5,368.8 L1964.1,368.8 L1964.1,371.8 L1964.1,374.8 L1964.1,377.8 L1964.1,380.8 L1964.1,383.8 L1964.1,386.8 L1964.1,389.8 L1964.1,392.8 L1964.1,395.8 L1964.1,398.8 L1964.1,401.8 L1964.1,404.8 L1964.1,407.8 L1964.1,410.8 L1964.1,413.8 L1964.1,416.8 L1964.1,419.8 L1964.1,422.8 L1964.1,425.8 L1964.1,428.8 L1964.1,431.8 L1964.1,434.8 L1964.1,437.8 L1964.1,440.8 L1964.1,443.8 L1964.1,446.8 L1964.1,449.8 L1964.2,452.8 L1964.2,455.8 L1964.2,458.8 L1964.2,461.8 L1964.2,464.8 L1964.2,467.8 L1964.2,470.8 L1964.2,473.8 L1964.2,476.8 L1964.2,479.8 L1964.2,482.8 L1964.2,485.8 L1964.2,488.8 L1964.2,491.8 L1964.2,494.8 L1964.3,497.8 L1964.3,500.8 L1964.3,503.8 L1964.3,506.8 L1964.3,509.8 L1964.3,512.8 L1964.3,515.8 L1964.3,518.8 L1964.3,521.8 L1964.4,524.8 L1964.4,527.8 L1964.4,530.8 L1964.4,533.8 L1964.4,536.8 L1964.4,539.8 L1964.4,542.8 L1964.5,545.8 L1964.5,548.8 L1964.5,551.8 L1964.5,554.8 L1964.5,557.8 L1964.5,560.8 L1964.5,563.8 L1964.5,566.8 L1964.6,569.8 L1964.6,572.8 L1964.6,575.8 L1964.6,578.8 L1964.6,581.8 L1964.6,584.8 L1964.6,587.8 L1964.6,590.8 L1964.6,593.8 L1964.6,596.8 L1964.7,599.8 L1964.7,602.8 L1964.7,605.8 L1964.8,608.8 L1964.8,611.8 L1964.9,614.8 L1964.9,617.8 L1965.0,620.8 L1965.1,623.8 L1965.1,626.8 L1965.2,629.8 L1965.3,632.8 L1965.4,635.8 L1965.5,638.8 L1965.6,641.8 L1965.7,644.8 L1965.8,647.8 L1965.9,650.8 L1965.9,653.8 L1966.0,656.8 L1966.1,659.8 L1966.2,662.8 L1966.3,665.8 L1966.4,668.8 L1966.4,671.8 L1966.5,674.8 L1966.6,677.8 L1966.7,680.8 L1966.7,683.8 L1966.8,686.8 L1966.9,689.8 L1967.0,692.8 L1967.1,695.8 L1967.1,698.8 L1967.2,701.8 L1967.3,704.8 L1967.4,707.8 L1967.4,710.8 L1967.5,713.8 L1967.6,716.8 L1967.6,719.8 L1967.7,722.8 L1967.8,725.8 L1967.9,728.8 L1968.0,731.8 L1968.1,734.8 L1968.2,737.8 L1968.3,740.8 L1968.4,743.8 L1968.5,746.8 L1968.6,749.8 L1968.7,752.8 L1968.8,755.8 L1968.9,758.8 L1969.0,761.8 L1969.1,764.8 L1969.2,767.8 L1969.3,770.8 L1969.4,773.8 L1969.5,776.8 L1969.5,779.8 L1969.6,782.8 L1969.7,785.8 L1969.7,788.8 L1969.8,791.8 L1969.9,794.8 L1969.9,797.8 L1970.0,800.8 L1970.0,803.8 L1970.1,806.8 L1970.1,809.8 L1970.1,812.8 L1970.2,815.8 L1970.2,818.8 L1970.2,821.8 L1970.2,824.8 L1970.2,827.8 L1970.2,830.8 L1970.2,833.8 L1970.2,836.8 L1970.2,839.8 L1970.2,842.8 L1970.2,845.8 L1970.2,848.8 L1970.2,851.8 L1970.2,854.8 L1970.1,857.8 L1970.1,860.8 L1970.0,863.8 L1970.0,866.8 L1969.9,869.8 L1969.8,872.8 L1969.8,875.8 L1969.7,878.8 L1969.6,881.8 L1969.6,884.8 L1969.5,887.8 L1969.4,890.8 L1969.4,893.8 L1969.3,896.8 L1969.2,899.8 L1969.1,902.8 L1969.0,905.8 L1969.0,908.8 L1968.9,911.8 L1968.8,914.8 L1968.7,917.8 L1968.6,920.8 L1968.4,923.8 L1968.3,926.8 L1968.2,929.8 L1968.1,932.8 L1968.0,935.8 L1967.8,938.8 L1967.7,941.8 L1967.6,944.8 L1967.4,947.8 L1967.3,950.8 L1967.2,953.8 L1967.1,956.8 L1967.0,959.8 L1966.9,962.8 L1966.8,965.8 L1966.7,968.8 L1966.6,971.8 L1966.5,974.8 L1966.4,977.8 L1966.3,980.8 L1966.2,983.8 L1966.2,986.8 L1966.1,989.8 L1966.0,992.8 L1965.9,995.8 L1965.9,998.8 L1965.8,1001.8 L1965.8,1004.8 L1965.7,1007.8 L1965.7,1010.8 L1965.6,1013.8 L1965.5,1016.8 L1965.4,1019.8 L1965.2,1022.8 L1965.1,1025.8 L1965.0,1028.8 L1964.9,1031.8 L1964.8,1034.8 L1964.8,1037.8 L1964.8,1040.8 L1964.9,1043.8 L1965.0,1046.8 L1965.1,1049.8 L1965.2,1052.8 L1965.4,1055.8 L1965.6,1058.8 L1966.0,1061.8 L1966.5,1064.8 L1967.1,1067.8 L1967.8,1070.8 L1968.6,1073.8 L1969.6,1076.8 L1970.6,1079.8 L1971.7,1082.8 L1972.9,1085.8 L1974.2,1088.8 L1975.5,1091.8 L1976.9,1094.8 L1978.4,1097.8 L1979.9,1100.8 L1981.5,1103.8 L1983.1,1106.8 L1984.8,1109.8 L1986.4,1112.8 L1988.1,1115.8 L1989.7,1118.8 L1991.3,1121.8 L1992.9,1124.8 L1994.4,1127.8 L1995.8,1130.8 L1997.1,1133.8 L1998.3,1136.8 L1999.4,1139.8 L2000.3,1142.8 L2001.2,1145.8 L2001.8,1148.8 L2002.4,1151.8 L2002.8,1154.8 L2003.0,1157.8 L2003.1,1160.8 L2003.2,1162.0Z" fill="#436EEE"/>
<path d="M2003.3,1162.0 L2003.3,1161.5 L2003.4,1158.5 L2003.7,1155.5 L2004.1,1152.5 L2004.6,1149.5 L2005.4,1146.5 L2006.3,1143.5 L2007.4,1140.5 L2008.6,1137.5 L2010.0,1134.5 L2011.5,1131.5 L2013.1,1128.5 L2014.7,1125.5 L2016.5,1122.5 L2018.3,1119.5 L2020.1,1116.5 L2022.0,1113.5 L2023.8,1110.5 L2025.6,1107.5 L2027.4,1104.5 L2029.1,1101.5 L2030.7,1098.5 L2032.2,1095.5 L2033.6,1092.5 L2034.8,1089.5 L2036.0,1086.5 L2037.0,1083.5 L2037.9,1080.5 L2038.7,1077.5 L2039.3,1074.5 L2039.9,1071.5 L2040.3,1068.5 L2040.6,1065.5 L2040.8,1062.5 L2041.0,1059.5 L2041.1,1056.5 L2041.2,1053.5 L2041.2,1050.5 L2041.2,1047.5 L2041.1,1044.5 L2041.0,1041.5 L2040.9,1038.5 L2040.8,1035.5 L2040.6,1032.5 L2040.4,1029.5 L2040.3,1026.5 L2040.0,1023.5 L2039.8,1020.5 L2039.5,1017.5 L2039.2,1014.5 L2038.8,1011.5 L2038.4,1008.5 L2038.0,1005.5 L2037.6,1002.5 L2037.2,999.5 L2036.9,996.5 L2036.5,993.5 L2036.3,990.5 L2036.0,987.5 L2035.8,984.5 L2035.5,981.5 L2035.3,978.5 L2035.1,975.5 L2034.9,972.5 L2034.8,969.5 L2034.6,966.5 L2034.4,963.5 L2034.3,960.5 L2034.2,957.5 L2034.1,954.5 L2034.0,951.5 L2033.9,948.5 L2033.8,945.5 L2033.7,942.5 L2033.7,939.5 L2033.6,936.5 L2033.6,933.5 L2033.5,930.5 L2033.5,927.5 L2033.5,924.5 L2033.5,921.5 L2033.6,918.5 L2033.6,915.5 L2033.6,912.5 L2033.7,909.5 L2033.7,906.5 L2033.8,903.5 L2033.8,900.5 L2033.9,897.5 L2034.0,894.5 L2034.1,891.5 L2034.2,888.5 L2034.3,885.5 L2034.4,882.5 L2034.5,879.5 L2034.7,876.5 L2034.8,873.5 L2035.0,870.5 L2035.1,867.5 L2035.3,864.5 L2035.5,861.5 L2035.6,858.5 L2035.8,855.5 L2036.0,852.5 L2036.2,849.5 L2036.4,846.5 L2036.6,843.5 L2036.8,840.5 L2037.1,837.5 L2037.3,834.5 L2037.5,831.5 L2037.7,828.5 L2037.8,825.5 L2038.0,822.5 L2038.2,819.5 L2038.3,816.5 L2038.4,813.5 L2038.6,810.5 L2038.7,807.5 L2038.8,804.5 L2038.9,801.5 L2038.9,798.5 L2039.0,795.5 L2039.0,792.5 L2039.1,789.5 L2039.1,786.5 L2039.1,783.5 L2039.2,780.5 L2039.2,777.5 L2039.3,774.5 L2039.3,771.5 L2039.4,768.5 L2039.5,765.5 L2039.5,762.5 L2039.6,759.5 L2039.7,756.5 L2039.7,753.5 L2039.8,750.5 L2039.9,747.5 L2040.0,744.5 L2040.1,741.5 L2040.2,738.5 L2040.2,735.5 L2040.3,732.5 L2040.4,729.5 L2040.4,726.5 L2040.5,723.5 L2040.5,720.5 L2040.5,717.5 L2040.6,714.5 L2040.6,711.5 L2040.6,708.5 L2040.7,705.5 L2040.7,702.5 L2040.7,699.5 L2040.8,696.5 L2040.8,693.5 L2040.9,690.5 L2040.9,687.5 L2040.9,684.5 L2041.0,681.5 L2041.0,678.5 L2041.1,675.5 L2041.1,672.5 L2041.1,669.5 L2041.2,666.5 L2041.2,663.5 L2041.2,660.5 L2041.3,657.5 L2041.3,654.5 L2041.4,651.5 L2041.4,648.5 L2041.4,645.5 L2041.4,642.5 L2041.5,639.5 L2041.5,636.5 L2041.5,633.5 L2041.6,630.5 L2041.6,627.5 L2041.6,624.5 L2041.6,621.5 L2041.7,618.5 L2041.7,615.5 L2041.7,612.5 L2041.7,609.5 L2041.8,606.5 L2041.8,603.5 L2041.8,600.5 L2041.8,597.5 L2041.8,594.5 L2041.9,591.5 L2041.9,588.5 L2041.9,585.5 L2041.9,582.5 L2042.0,579.5 L2042.0,576.5 L2042.0,573.5 L2042.0,570.5 L2042.0,567.5 L2042.0,564.5 L2042.1,561.5 L2042.1,558.5 L2042.1,555.5 L2042.1,552.5 L2042.1,549.5 L2042.1,546.5 L2042.1,543.5 L2042.1,540.5 L2042.2,537.5 L2042.2,534.5 L2042.2,531.5 L2042.2,528.5 L2042.2,525.5 L2042.2,522.5 L2042.2,519.5 L2042.2,516.5 L2042.2,513.5 L2042.2,510.5 L2042.3,507.5 L2042.3,504.5 L2042.3,501.5 L2042.3,498.5 L2042.3,495.5 L2042.3,492.5 L2042.3,489.5 L2042.3,486.5 L2042.3,483.5 L2042.3,480.5 L2042.3,477.5 L2042.3,474.5 L2042.3,471.5 L2042.4,468.5 L2042.4,465.5 L2042.4,462.5 L2042.4,459.5 L2042.4,456.5 L2042.4,453.5 L2042.4,450.5 L2042.4,447.5 L2042.4,444.5 L2042.4,441.5 L2042.4,438.5 L2042.4,435.5 L2042.4,432.5 L2042.4,429.5 L2042.4,426.5 L2042.4,423.5 L2042.4,420.5 L2043.0,420.5 L2043.0,423.5 L2043.0,426.5 L2043.0,429.5 L2043.0,432.5 L2043.0,435.5 L2043.0,438.5 L2043.0,441.5 L2043.0,444.5 L2043.0,447.5 L2043.0,450.5 L2043.0,453.5 L2043.0,456.5 L2043.0,459.5 L2043.0,462.5 L2043.1,465.5 L2043.1,468.5 L2043.1,471.5 L2043.1,474.5 L2043.1,477.5 L2043.1,480.5 L2043.1,483.5 L2043.1,486.5 L2043.1,489.5 L2043.1,492.5 L2043.1,495.5 L2043.1,498.5 L2043.1,501.5 L2043.2,504.5 L2043.2,507.5 L2043.2,510.5 L2043.2,513.5 L2043.2,516.5 L2043.2,519.5 L2043.2,522.5 L2043.2,525.5 L2043.2,528.5 L2043.2,531.5 L2043.3,534.5 L2043.3,537.5 L2043.3,540.5 L2043.3,543.5 L2043.3,546.5 L2043.3,549.5 L2043.3,552.5 L2043.3,555.5 L2043.3,558.5 L2043.4,561.5 L2043.4,564.5 L2043.4,567.5 L2043.4,570.5 L2043.4,573.5 L2043.4,576.5 L2043.5,579.5 L2043.5,582.5 L2043.5,585.5 L2043.5,588.5 L2043.5,591.5 L2043.6,594.5 L2043.6,597.5 L2043.6,600.5 L2043.6,603.5 L2043.7,606.5 L2043.7,609.5 L2043.7,612.5 L2043.7,615.5 L2043.8,618.5 L2043.8,621.5 L2043.8,624.5 L2043.8,627.5 L2043.9,630.5 L2043.9,633.5 L2043.9,636.5 L2043.9,639.5 L2044.0,642.5 L2044.0,645.5 L2044.0,648.5 L2044.1,651.5 L2044.1,654.5 L2044.1,657.5 L2044.2,660.5 L2044.2,663.5 L2044.2,666.5 L2044.3,669.5 L2044.3,672.5 L2044.4,675.5 L2044.4,678.5 L2044.4,681.5 L2044.5,684.5 L2044.5,687.5 L2044.6,690.5 L2044.6,693.5 L2044.6,696.5 L2044.7,699.5 L2044.7,702.5 L2044.7,705.5 L2044.8,708.5 L2044.8,711.5 L2044.8,714.5 L2044.9,717.5 L2044.9,720.5 L2045.0,723.5 L2045.0,726.5 L2045.1,729.5 L2045.1,732.5 L2045.2,735.5 L2045.3,738.5 L2045.3,741.5 L2045.4,744.5 L2045.5,747.5 L2045.6,750.5 L2045.7,753.5 L2045.7,756.5 L2045.8,759.5 L2045.9,762.5 L2045.9,765.5 L2046.0,768.5 L2046.1,771.5 L2046.1,774.5 L2046.2,777.5 L2046.2,780.5 L2046.3,783.5 L2046.3,786.5 L2046.4,789.5 L2046.4,792.5 L2046.4,795.5 L2046.5,798.5 L2046.6,801.5 L2046.6,804.5 L2046.7,807.5 L2046.9,810.5 L2047.0,813.5 L2047.1,816.5 L2047.3,819.5 L2047.4,822.5 L2047.6,825.5 L2047.7,828.5 L2047.9,831.5 L2048.1,834.5 L2048.3,837.5 L2048.6,840.5 L2048.8,843.5 L2049.0,846.5 L2049.2,849.5 L2049.4,852.5 L2049.6,855.5 L2049.8,858.5 L2050.0,861.5 L2050.1,864.5 L2050.3,867.5 L2050.5,870.5 L2050.6,873.5 L2050.8,876.5 L2050.9,879.5 L2051.0,882.5 L2051.1,885.5 L2051.2,888.5 L2051.3,891.5 L2051.4,894.5 L2051.5,897.5 L2051.6,900.5 L2051.6,903.5 L2051.7,906.5 L2051.7,909.5 L2051.8,912.5 L2051.8,915.5 L2051.9,918.5 L2051.9,921.5 L2051.9,924.5 L2051.9,927.5 L2051.9,930.5 L2051.9,933.5 L2051.8,936.5 L2051.8,939.5 L2051.7,942.5 L2051.6,945.5 L2051.5,948.5 L2051.4,951.5 L2051.3,954.5 L2051.2,957.5 L2051.1,960.5 L2051.0,963.5 L2050.8,966.5 L2050.7,969.5 L2050.5,972.5 L2050.3,975.5 L2050.1,978.5 L2049.9,981.5 L2049.7,984.5 L2049.4,987.5 L2049.2,990.5 L2048.9,993.5 L2048.6,996.5 L2048.2,999.5 L2047.8,1002.5 L2047.4,1005.5 L2047.0,1008.5 L2046.6,1011.5 L2046.3,1014.5 L2045.9,1017.5 L2045.6,1020.5 L2045.4,1023.5 L2045.2,1026.5 L2045.0,1029.5 L2044.8,1032.5 L2044.6,1035.5 L2044.5,1038.5 L2044.4,1041.5 L2044.3,1044.5 L2044.3,1047.5 L2044.2,1050.5 L2044.2,1053.5 L2044.3,1056.5 L2044.4,1059.5 L2044.6,1062.5 L2044.8,1065.5 L2045.1,1068.5 L2045.6,1071.5 L2046.1,1074.5 L2046.8,1077.5 L2047.5,1080.5 L2048.4,1083.5 L2049.5,1086.5 L2050.6,1089.5 L2051.9,1092.5 L2053.2,1095.5 L2054.7,1098.5 L2056.3,1101.5 L2058.0,1104.5 L2059.8,1107.5 L2061.6,1110.5 L2063.5,1113.5 L2065.3,1116.5 L2067.1,1119.5 L2068.9,1122.5 L2070.7,1125.5 L2072.4,1128.5 L2074.0,1131.5 L2075.4,1134.5 L2076.8,1137.5 L2078.0,1140.5 L2079.1,1143.5 L2080.0,1146.5 L2080.8,1149.5 L2081.3,1152.5 L2081.7,1155.5 L2082.0,1158.5 L2082.1,1161.5 L2082.1,1162.0Z" fill="#FF3030"/>
<path d="M2108.6,1162.0 L2108.6,1161.5 L2108.7,1158.5 L2108.9,1155.5 L2109.2,1152.5 L2109.6,1149.5 L2110.1,1146.5 L2110.7,1143.5 L2111.4,1140.5 L2112.2,1137.5 L2113.0,1134.5 L2114.0,1131.5 L2115.0,1128.5 L2116.0,1125.5 L2117.1,1122.5 L2118.3,1119.5 L2119.4,1116.5 L2120.6,1113.5 L2121.8,1110.5 L2123.0,1107.5 L2124.3,1104.5 L2125.5,1101.5 L2126.7,1098.5 L2127.9,1095.5 L2129.0,1092.5 L2130.1,1089.5 L2131.2,1086.5 L2132.2,1083.5 L2133.1,1080.5 L2133.9,1077.5 L2134.7,1074.5 L2135.4,1071.5 L2136.0,1068.5 L2136.5,1065.5 L2137.0,1062.5 L2137.4,1059.5 L2137.7,1056.5 L2138.0,1053.5 L2138.1,1050.5 L2138.2,1047.5 L2138.3,1044.5 L2138.2,1041.5 L2138.1,1038.5 L2138.0,1035.5 L2137.7,1032.5 L2137.5,1029.5 L2137.1,1026.5 L2136.8,1023.5 L2136.3,1020.5 L2135.9,1017.5 L2135.4,1014.5 L2135.0,1011.5 L2134.5,1008.5 L2134.1,1005.5 L2133.7,1002.5 L2133.4,999.5 L2133.1,996.5 L2132.8,993.5 L2132.5,990.5 L2132.2,987.5 L2131.8,984.5 L2131.6,981.5 L2131.3,978.5 L2131.1,975.5 L2131.0,972.5 L2130.8,969.5 L2130.7,966.5 L2130.6,963.5 L2130.5,960.5 L2130.4,957.5 L2130.3,954.5 L2130.3,951.5 L2130.3,948.5 L2130.3,945.5 L2130.4,942.5 L2130.4,939.5 L2130.4,936.5 L2130.5,933.5 L2130.6,930.5 L2130.7,927.5 L2130.8,924.5 L2130.9,921.5 L2131.1,918.5 L2131.3,915.5 L2131.4,912.5 L2131.6,909.5 L2131.8,906.5 L2132.0,903.5 L2132.2,900.5 L2132.5,897.5 L2132.7,894.5 L2133.0,891.5 L2133.2,888.5 L2133.5,885.5 L2133.8,882.5 L2134.0,879.5 L2134.3,876.5 L2134.5,873.5 L2134.7,870.5 L2135.0,867.5 L2135.2,864.5 L2135.4,861.5 L2135.7,858.5 L2135.9,855.5 L2136.2,852.5 L2136.4,849.5 L2136.7,846.5 L2136.9,843.5 L2137.2,840.5 L2137.5,837.5 L2137.7,834.5 L2138.0,831.5 L2138.2,828.5 L2138.5,825.5 L2138.7,822.5 L2138.8,819.5 L2139.0,816.5 L2139.2,813.5 L2139.3,810.5 L2139.5,807.5 L2139.6,804.5 L2139.8,801.5 L2140.0,798.5 L2140.1,795.5 L2140.3,792.5 L2140.5,789.5 L2140.7,786.5 L2140.8,783.5 L2141.0,780.5 L2141.2,777.5 L2141.4,774.5 L2141.6,771.5 L2141.8,768.5 L2142.0,765.5 L2142.2,762.5 L2142.4,759.5 L2142.6,756.5 L2142.7,753.5 L2142.9,750.5 L2143.1,747.5 L2143.3,744.5 L2143.4,741.5 L2143.6,738.5 L2143.7,735.5 L2143.9,732.5 L2144.0,729.5 L2144.1,726.5 L2144.2,723.5 L2144.3,720.5 L2144.3,717.5 L2144.4,714.5 L2144.5,711.5 L2144.5,708.5 L2144.6,705.5 L2144.7,702.5 L2144.7,699.5 L2144.8,696.5 L2144.8,693.5 L2144.9,690.5 L2144.9,687.5 L2144.9,684.5 L2145.0,681.5 L2145.0,678.5 L2145.1,675.5 L2145.1,672.5 L2145.2,669.5 L2145.3,666.5 L2145.3,663.5 L2145.4,660.5 L2145.4,657.5 L2145.5,654.5 L2145.6,651.5 L2145.6,648.5 L2145.7,645.5 L2145.8,642.5 L2145.9,639.5 L2146.0,636.5 L2146.0,633.5 L2146.1,630.5 L2146.2,627.5 L2146.3,624.5 L2146.4,621.5 L2146.5,618.5 L2146.6,615.5 L2146.6,612.5 L2146.7,609.5 L2146.8,606.5 L2146.9,603.5 L2147.0,600.5 L2147.0,597.5 L2147.1,594.5 L2147.1,591.5 L2147.2,588.5 L2147.3,585.5 L2147.3,582.5 L2147.4,579.5 L2147.4,576.5 L2147.4,573.5 L2147.5,570.5 L2147.5,567.5 L2147.5,564.5 L2147.5,561.5 L2147.6,558.5 L2147.6,555.5 L2147.6,552.5 L2147.6,549.5 L2147.6,546.5 L2147.6,543.5 L2147.7,540.5 L2147.7,537.5 L2147.7,534.5 L2147.7,531.5 L2148.3,531.5 L2148.3,534.5 L2148.3,537.5 L2148.3,540.5 L2148.3,543.5 L2148.3,546.5 L2148.3,549.5 L2148.3,552.5 L2148.4,555.5 L2148.4,558.5 L2148.4,561.5 L2148.4,564.5 L2148.5,567.5 L2148.5,570.5 L2148.5,573.5 L2148.5,576.5 L2148.6,579.5 L2148.6,582.5 L2148.7,585.5 L2148.7,588.5 L2148.8,591.5 L2148.9,594.5 L2148.9,597.5 L2149.0,600.5 L2149.1,603.5 L2149.1,606.5 L2149.2,609.5 L2149.3,612.5 L2149.4,615.5 L2149.5,618.5 L2149.6,621.5 L2149.6,624.5 L2149.7,627.5 L2149.8,630.5 L2149.9,633.5 L2150.0,636.5 L2150.1,639.5 L2150.2,642.5 L2150.2,645.5 L2150.3,648.5 L2150.4,651.5 L2150.4,654.5 L2150.5,657.5 L2150.6,660.5 L2150.6,663.5 L2150.7,666.5 L2150.7,669.5 L2150.8,672.5 L2150.9,675.5 L2150.9,678.5 L2151.0,681.5 L2151.0,684.5 L2151.0,687.5 L2151.1,690.5 L2151.1,693.5 L2151.2,696.5 L2151.2,699.5 L2151.3,702.5 L2151.3,705.5 L2151.4,708.5 L2151.5,711.5 L2151.5,714.5 L2151.6,717.5 L2151.7,720.5 L2151.8,723.5 L2151.8,726.5 L2152.0,729.5 L2152.1,732.5 L2152.2,735.5 L2152.4,738.5 L2152.5,741.5 L2152.7,744.5 L2152.9,747.5 L2153.0,750.5 L2153.2,753.5 L2153.4,756.5 L2153.6,759.5 L2153.8,762.5 L2154.0,765.5 L2154.2,768.5 L2154.4,771.5 L2154.6,774.5 L2154.7,777.5 L2154.9,780.5 L2155.1,783.5 L2155.3,786.5 L2155.5,789.5 L2155.6,792.5 L2155.8,795.5 L2156.0,798.5 L2156.2,801.5 L2156.3,804.5 L2156.5,807.5 L2156.6,810.5 L2156.8,813.5 L2156.9,816.5 L2157.1,819.5 L2157.3,822.5 L2157.5,825.5 L2157.7,828.5 L2157.9,831.5 L2158.2,834.5 L2158.5,837.5 L2158.7,840.5 L2159.0,843.5 L2159.3,846.5 L2159.5,849.5 L2159.8,852.5 L2160.0,855.5 L2160.3,858.5 L2160.5,861.5 L2160.7,864.5 L2161.0,867.5 L2161.2,870.5 L2161.4,873.5 L2161.7,876.5 L2161.9,879.5 L2162.2,882.5 L2162.5,885.5 L2162.7,888.5 L2163.0,891.5 L2163.2,894.5 L2163.5,897.5 L2163.7,900.5 L2163.9,903.5 L2164.1,906.5 L2164.3,909.5 L2164.5,912.5 L2164.7,915.5 L2164.9,918.5 L2165.0,921.5 L2165.1,924.5 L2165.3,927.5 L2165.4,930.5 L2165.4,933.5 L2165.5,936.5 L2165.5,939.5 L2165.6,942.5 L2165.6,945.5 L2165.6,948.5 L2165.6,951.5 L2165.6,954.5 L2165.6,957.5 L2165.5,960.5 L2165.4,963.5 L2165.2,966.5 L2165.1,969.5 L2165.0,972.5 L2164.8,975.5 L2164.6,978.5 L2164.4,981.5 L2164.1,984.5 L2163.8,987.5 L2163.5,990.5 L2163.2,993.5 L2162.9,996.5 L2162.6,999.5 L2162.2,1002.5 L2161.8,1005.5 L2161.4,1008.5 L2161.0,1011.5 L2160.5,1014.5 L2160.0,1017.5 L2159.6,1020.5 L2159.2,1023.5 L2158.8,1026.5 L2158.5,1029.5 L2158.2,1032.5 L2158.0,1035.5 L2157.8,1038.5 L2157.7,1041.5 L2157.7,1044.5 L2157.7,1047.5 L2157.8,1050.5 L2158.0,1053.5 L2158.2,1056.5 L2158.6,1059.5 L2158.9,1062.5 L2159.4,1065.5 L2159.9,1068.5 L2160.5,1071.5 L2161.2,1074.5 L2162.0,1077.5 L2162.8,1080.5 L2163.8,1083.5 L2164.7,1086.5 L2165.8,1089.5 L2166.9,1092.5 L2168.1,1095.5 L2169.3,1098.5 L2170.5,1101.5 L2171.7,1104.5 L2172.9,1107.5 L2174.1,1110.5 L2175.3,1113.5 L2176.5,1116.5 L2177.7,1119.5 L2178.8,1122.5 L2179.9,1125.5 L2181.0,1128.5 L2182.0,1131.5 L2182.9,1134.5 L2183.8,1137.5 L2184.5,1140.5 L2185.2,1143.5 L2185.8,1146.5 L2186.4,1149.5 L2186.8,1152.5 L2187.1,1155.5 L2187.3,1158.5 L2187.4,1161.5 L2187.4,1162.0Z" fill="#7EC0EE"/>
<path d="M2187.6,1162.0 L2187.6,1160.1 L2187.7,1157.1 L2188.0,1154.1 L2188.4,1151.1 L2188.9,1148.1 L2189.4,1145.1 L2190.1,1142.1 L2190.8,1139.1 L2191.6,1136.1 L2192.5,1133.1 L2193.4,1130.1 L2194.4,1127.1 L2195.4,1124.1 L2196.5,1121.1 L2197.6,1118.1 L2198.7,1115.1 L2199.8,1112.1 L2200.9,1109.1 L2202.1,1106.1 L2203.2,1103.1 L2204.4,1100.1 L2205.5,1097.1 L2206.6,1094.1 L2207.7,1091.1 L2208.8,1088.1 L2209.8,1085.1 L2210.8,1082.1 L2211.7,1079.1 L2212.6,1076.1 L2213.3,1073.1 L2214.0,1070.1 L2214.7,1067.1 L2215.2,1064.1 L2215.7,1061.1 L2216.1,1058.1 L2216.5,1055.1 L2216.8,1052.1 L2217.0,1049.1 L2217.2,1046.1 L2217.2,1043.1 L2217.2,1040.1 L2217.2,1037.1 L2217.1,1034.1 L2217.0,1031.1 L2216.8,1028.1 L2216.5,1025.1 L2216.3,1022.1 L2216.0,1019.1 L2215.7,1016.1 L2215.4,1013.1 L2215.0,1010.1 L2214.7,1007.1 L2214.4,1004.1 L2214.1,1001.1 L2213.7,998.1 L2213.3,995.1 L2213.0,992.1 L2212.6,989.1 L2212.3,986.1 L2211.9,983.1 L2211.6,980.1 L2211.4,977.1 L2211.1,974.1 L2210.9,971.1 L2210.8,968.1 L2210.6,965.1 L2210.5,962.1 L2210.4,959.1 L2210.3,956.1 L2210.2,953.1 L2210.2,950.1 L2210.2,947.1 L2210.2,944.1 L2210.2,941.1 L2210.3,938.1 L2210.4,935.1 L2210.4,932.1 L2210.6,929.1 L2210.7,926.1 L2210.8,923.1 L2211.0,920.1 L2211.2,917.1 L2211.4,914.1 L2211.6,911.1 L2211.8,908.1 L2212.1,905.1 L2212.3,902.1 L2212.6,899.1 L2213.0,896.1 L2213.3,893.1 L2213.7,890.1 L2214.1,887.1 L2214.5,884.1 L2214.9,881.1 L2215.3,878.1 L2215.7,875.1 L2216.1,872.1 L2216.4,869.1 L2216.8,866.1 L2217.2,863.1 L2217.6,860.1 L2217.9,857.1 L2218.3,854.1 L2218.7,851.1 L2219.0,848.1 L2219.4,845.1 L2219.8,842.1 L2220.2,839.1 L2220.6,836.1 L2220.9,833.1 L2221.3,830.1 L2221.6,827.1 L2221.8,824.1 L2222.1,821.1 L2222.3,818.1 L2222.5,815.1 L2222.7,812.1 L2222.8,809.1 L2223.0,806.1 L2223.1,803.1 L2223.2,800.1 L2223.3,797.1 L2223.3,794.1 L2223.4,791.1 L2223.4,788.1 L2223.4,785.1 L2223.5,782.1 L2223.5,779.1 L2223.6,776.1 L2223.7,773.1 L2223.7,770.1 L2223.8,767.1 L2223.9,764.1 L2224.0,761.1 L2224.1,758.1 L2224.1,755.1 L2224.2,752.1 L2224.2,749.1 L2224.3,746.1 L2224.3,743.1 L2224.3,740.1 L2224.4,737.1 L2224.4,734.1 L2224.4,731.1 L2224.4,728.1 L2224.4,725.1 L2224.4,722.1 L2224.4,719.1 L2224.4,716.1 L2224.4,713.1 L2224.4,710.1 L2224.3,707.1 L2224.3,704.1 L2224.3,701.1 L2224.3,698.1 L2224.3,695.1 L2224.3,692.1 L2224.3,689.1 L2224.3,686.1 L2224.2,683.1 L2224.2,680.1 L2224.2,677.1 L2224.2,674.1 L2224.2,671.1 L2224.2,668.1 L2224.2,665.1 L2224.2,662.1 L2224.2,659.1 L2224.2,656.1 L2224.2,653.1 L2224.2,650.1 L2224.2,647.1 L2224.2,644.1 L2224.2,641.1 L2224.2,638.1 L2224.2,635.1 L2224.2,632.1 L2224.2,629.1 L2224.2,626.1 L2229.7,626.1 L2229.7,629.1 L2229.7,632.1 L2229.7,635.1 L2229.7,638.1 L2229.7,641.1 L2229.7,644.1 L2229.7,647.1 L2229.7,650.1 L2229.7,653.1 L2229.7,656.1 L2229.7,659.1 L2229.7,662.1 L2229.7,665.1 L2229.6,668.1 L2229.6,671.1 L2229.6,674.1 L2229.6,677.1 L2229.6,680.1 L2229.6,683.1 L2229.6,686.1 L2229.6,689.1 L2229.6,692.1 L2229.5,695.1 L2229.5,698.1 L2229.5,701.1 L2229.5,704.1 L2229.5,707.1 L2229.5,710.1 L2229.5,713.1 L2229.5,716.1 L2229.4,719.1 L2229.4,722.1 L2229.4,725.1 L2229.4,728.1 L2229.4,731.1 L2229.5,734.1 L2229.5,737.1 L2229.5,740.1 L2229.5,743.1 L2229.6,746.1 L2229.6,749.1 L2229.7,752.1 L2229.7,755.1 L2229.8,758.1 L2229.9,761.1 L2229.9,764.1 L2230.0,767.1 L2230.1,770.1 L2230.2,773.1 L2230.3,776.1 L2230.3,779.1 L2230.4,782.1 L2230.4,785.1 L2230.4,788.1 L2230.5,791.1 L2230.5,794.1 L2230.6,797.1 L2230.6,800.1 L2230.7,803.1 L2230.9,806.1 L2231.0,809.1 L2231.2,812.1 L2231.4,815.1 L2231.6,818.1 L2231.8,821.1 L2232.0,824.1 L2232.3,827.1 L2232.6,830.1 L2232.9,833.1 L2233.3,836.1 L2233.6,839.1 L2234.0,842.1 L2234.4,845.1 L2234.8,848.1 L2235.2,851.1 L2235.5,854.1 L2235.9,857.1 L2236.3,860.1 L2236.7,863.1 L2237.0,866.1 L2237.4,869.1 L2237.8,872.1 L2238.2,875.1 L2238.5,878.1 L2238.9,881.1 L2239.3,884.1 L2239.7,887.1 L2240.1,890.1 L2240.5,893.1 L2240.9,896.1 L2241.2,899.1 L2241.5,902.1 L2241.8,905.1 L2242.0,908.1 L2242.2,911.1 L2242.5,914.1 L2242.7,917.1 L2242.8,920.1 L2243.0,923.1 L2243.1,926.1 L2243.3,929.1 L2243.4,932.1 L2243.5,935.1 L2243.6,938.1 L2243.6,941.1 L2243.6,944.1 L2243.6,947.1 L2243.6,950.1 L2243.6,953.1 L2243.5,956.1 L2243.5,959.1 L2243.4,962.1 L2243.2,965.1 L2243.1,968.1 L2242.9,971.1 L2242.7,974.1 L2242.5,977.1 L2242.2,980.1 L2241.9,983.1 L2241.6,986.1 L2241.2,989.1 L2240.9,992.1 L2240.5,995.1 L2240.1,998.1 L2239.8,1001.1 L2239.4,1004.1 L2239.1,1007.1 L2238.8,1010.1 L2238.5,1013.1 L2238.2,1016.1 L2237.8,1019.1 L2237.6,1022.1 L2237.3,1025.1 L2237.1,1028.1 L2236.9,1031.1 L2236.7,1034.1 L2236.6,1037.1 L2236.6,1040.1 L2236.6,1043.1 L2236.7,1046.1 L2236.8,1049.1 L2237.0,1052.1 L2237.3,1055.1 L2237.7,1058.1 L2238.1,1061.1 L2238.6,1064.1 L2239.2,1067.1 L2239.8,1070.1 L2240.5,1073.1 L2241.3,1076.1 L2242.1,1079.1 L2243.0,1082.1 L2244.0,1085.1 L2245.0,1088.1 L2246.1,1091.1 L2247.2,1094.1 L2248.3,1097.1 L2249.4,1100.1 L2250.6,1103.1 L2251.7,1106.1 L2252.9,1109.1 L2254.0,1112.1 L2255.2,1115.1 L2256.3,1118.1 L2257.4,1121.1 L2258.4,1124.1 L2259.4,1127.1 L2260.4,1130.1 L2261.3,1133.1 L2262.2,1136.1 L2263.0,1139.1 L2263.7,1142.1 L2264.4,1145.1 L2265.0,1148.1 L2265.4,1151.1 L2265.8,1154.1 L2266.1,1157.1 L2266.2,1160.1 L2266.3,1162.0Z" fill="#436EEE"/>
<path d="M2266.5,1162.0 L2266.5,1161.3 L2266.7,1158.3 L2267.0,1155.3 L2267.5,1152.3 L2268.1,1149.3 L2269.0,1146.3 L2270.0,1143.3 L2271.1,1140.3 L2272.4,1137.3 L2273.8,1134.3 L2275.2,1131.3 L2276.8,1128.3 L2278.4,1125.3 L2280.1,1122.3 L2281.8,1119.3 L2283.5,1116.3 L2285.2,1113.3 L2286.9,1110.3 L2288.5,1107.3 L2290.0,1104.3 L2291.5,1101.3 L2292.9,1098.3 L2294.3,1095.3 L2295.5,1092.3 L2296.6,1089.3 L2297.5,1086.3 L2298.3,1083.3 L2298.9,1080.3 L2299.4,1077.3 L2299.8,1074.3 L2300.1,1071.3 L2300.4,1068.3 L2300.5,1065.3 L2300.6,1062.3 L2300.6,1059.3 L2300.6,1056.3 L2300.5,1053.3 L2300.3,1050.3 L2300.1,1047.3 L2299.9,1044.3 L2299.7,1041.3 L2299.4,1038.3 L2299.2,1035.3 L2298.9,1032.3 L2298.6,1029.3 L2298.3,1026.3 L2298.0,1023.3 L2297.7,1020.3 L2297.4,1017.3 L2297.1,1014.3 L2296.8,1011.3 L2296.5,1008.3 L2296.1,1005.3 L2295.8,1002.3 L2295.6,999.3 L2295.3,996.3 L2295.1,993.3 L2295.0,990.3 L2294.8,987.3 L2294.6,984.3 L2294.5,981.3 L2294.4,978.3 L2294.2,975.3 L2294.1,972.3 L2294.1,969.3 L2294.0,966.3 L2293.9,963.3 L2293.9,960.3 L2293.9,957.3 L2293.9,954.3 L2293.9,951.3 L2293.9,948.3 L2293.9,945.3 L2294.0,942.3 L2294.0,939.3 L2294.1,936.3 L2294.2,933.3 L2294.3,930.3 L2294.3,927.3 L2294.4,924.3 L2294.5,921.3 L2294.7,918.3 L2294.8,915.3 L2295.0,912.3 L2295.1,909.3 L2295.3,906.3 L2295.4,903.3 L2295.6,900.3 L2295.8,897.3 L2296.0,894.3 L2296.2,891.3 L2296.4,888.3 L2296.6,885.3 L2296.8,882.3 L2297.0,879.3 L2297.2,876.3 L2297.4,873.3 L2297.6,870.3 L2297.8,867.3 L2298.1,864.3 L2298.3,861.3 L2298.5,858.3 L2298.7,855.3 L2299.0,852.3 L2299.2,849.3 L2299.5,846.3 L2299.7,843.3 L2299.9,840.3 L2300.2,837.3 L2300.4,834.3 L2300.6,831.3 L2300.8,828.3 L2301.0,825.3 L2301.2,822.3 L2301.3,819.3 L2301.4,816.3 L2301.5,813.3 L2301.6,810.3 L2301.7,807.3 L2301.8,804.3 L2301.9,801.3 L2302.0,798.3 L2302.1,795.3 L2302.2,792.3 L2302.2,789.3 L2302.3,786.3 L2302.4,783.3 L2302.4,780.3 L2302.5,777.3 L2302.6,774.3 L2302.7,771.3 L2302.8,768.3 L2302.9,765.3 L2303.0,762.3 L2303.1,759.3 L2303.2,756.3 L2303.3,753.3 L2303.4,750.3 L2303.5,747.3 L2303.6,744.3 L2303.7,741.3 L2303.8,738.3 L2303.9,735.3 L2304.0,732.3 L2304.1,729.3 L2304.2,726.3 L2304.3,723.3 L2304.4,720.3 L2304.5,717.3 L2304.6,714.3 L2304.6,711.3 L2304.7,708.3 L2304.8,705.3 L2304.9,702.3 L2304.9,699.3 L2305.0,696.3 L2305.0,693.3 L2305.1,690.3 L2305.1,687.3 L2305.2,684.3 L2305.2,681.3 L2305.3,678.3 L2305.3,675.3 L2305.3,672.3 L2305.3,669.3 L2305.4,666.3 L2306.4,666.3 L2306.4,669.3 L2306.4,672.3 L2306.5,675.3 L2306.5,678.3 L2306.5,681.3 L2306.6,684.3 L2306.6,687.3 L2306.7,690.3 L2306.7,693.3 L2306.8,696.3 L2306.8,699.3 L2306.9,702.3 L2306.9,705.3 L2307.0,708.3 L2307.1,711.3 L2307.2,714.3 L2307.3,717.3 L2307.3,720.3 L2307.4,723.3 L2307.5,726.3 L2307.6,729.3 L2307.7,732.3 L2307.8,735.3 L2307.9,738.3 L2308.0,741.3 L2308.2,744.3 L2308.3,747.3 L2308.4,750.3 L2308.5,753.3 L2308.6,756.3 L2308.7,759.3 L2308.8,762.3 L2308.9,765.3 L2309.0,768.3 L2309.1,771.3 L2309.1,774.3 L2309.2,777.3 L2309.3,780.3 L2309.4,783.3 L2309.4,786.3 L2309.5,789.3 L2309.6,792.3 L2309.7,795.3 L2309.7,798.3 L2309.8,801.3 L2309.9,804.3 L2310.0,807.3 L2310.1,810.3 L2310.2,813.3 L2310.3,816.3 L2310.4,819.3 L2310.6,822.3 L2310.7,825.3 L2310.9,828.3 L2311.1,831.3 L2311.3,834.3 L2311.5,837.3 L2311.8,840.3 L2312.0,843.3 L2312.3,846.3 L2312.5,849.3 L2312.8,852.3 L2313.0,855.3 L2313.2,858.3 L2313.5,861.3 L2313.7,864.3 L2313.9,867.3 L2314.1,870.3 L2314.3,873.3 L2314.6,876.3 L2314.8,879.3 L2315.0,882.3 L2315.2,885.3 L2315.4,888.3 L2315.6,891.3 L2315.8,894.3 L2315.9,897.3 L2316.1,900.3 L2316.3,903.3 L2316.5,906.3 L2316.6,909.3 L2316.8,912.3 L2316.9,915.3 L2317.1,918.3 L2317.2,921.3 L2317.3,924.3 L2317.4,927.3 L2317.5,930.3 L2317.6,933.3 L2317.6,936.3 L2317.7,939.3 L2317.8,942.3 L2317.8,945.3 L2317.8,948.3 L2317.9,951.3 L2317.9,954.3 L2317.8,957.3 L2317.8,960.3 L2317.8,963.3 L2317.7,966.3 L2317.7,969.3 L2317.6,972.3 L2317.5,975.3 L2317.4,978.3 L2317.2,981.3 L2317.1,984.3 L2316.9,987.3 L2316.8,990.3 L2316.6,993.3 L2316.4,996.3 L2316.2,999.3 L2315.9,1002.3 L2315.6,1005.3 L2315.3,1008.3 L2314.9,1011.3 L2314.6,1014.3 L2314.3,1017.3 L2314.0,1020.3 L2313.7,1023.3 L2313.4,1026.3 L2313.1,1029.3 L2312.8,1032.3 L2312.6,1035.3 L2312.3,1038.3 L2312.1,1041.3 L2311.8,1044.3 L2311.6,1047.3 L2311.4,1050.3 L2311.3,1053.3 L2311.2,1056.3 L2311.1,1059.3 L2311.1,1062.3 L2311.2,1065.3 L2311.4,1068.3 L2311.6,1071.3 L2311.9,1074.3 L2312.3,1077.3 L2312.8,1080.3 L2313.4,1083.3 L2314.2,1086.3 L2315.1,1089.3 L2316.2,1092.3 L2317.5,1095.3 L2318.8,1098.3 L2320.2,1101.3 L2321.7,1104.3 L2323.3,1107.3 L2324.9,1110.3 L2326.5,1113.3 L2328.2,1116.3 L2329.9,1119.3 L2331.6,1122.3 L2333.3,1125.3 L2334.9,1128.3 L2336.5,1131.3 L2338.0,1134.3 L2339.4,1137.3 L2340.6,1140.3 L2341.8,1143.3 L2342.8,1146.3 L2343.6,1149.3 L2344.3,1152.3 L2344.7,1155.3 L2345.1,1158.3 L2345.2,1161.3 L2345.2,1162.0Z" fill="#FF3030"/>
<path d="M2371.7,1162.0 L2371.8,1159.9 L2371.9,1156.9 L2372.2,1153.9 L2372.5,1150.9 L2373.0,1147.9 L2373.5,1144.9 L2374.1,1141.9 L2374.7,1138.9 L2375.4,1135.9 L2376.2,1132.9 L2377.0,1129.9 L2377.9,1126.9 L2378.7,1123.9 L2379.7,1120.9 L2380.6,1117.9 L2381.6,1114.9 L2382.6,1111.9 L2383.6,1108.9 L2384.7,1105.9 L2385.7,1102.9 L2386.7,1099.9 L2387.7,1096.9 L2388.8,1093.9 L2389.8,1090.9 L2390.7,1087.9 L2391.6,1084.9 L2392.4,1081.9 L2393.2,1078.9 L2394.0,1075.9 L2394.7,1072.9 L2395.4,1069.9 L2396.1,1066.9 L2396.7,1063.9 L2397.2,1060.9 L2397.8,1057.9 L2398.2,1054.9 L2398.7,1051.9 L2399.0,1048.9 L2399.3,1045.9 L2399.6,1042.9 L2399.8,1039.9 L2399.9,1036.9 L2400.0,1033.9 L2400.1,1030.9 L2400.1,1027.9 L2400.1,1024.9 L2400.1,1021.9 L2400.0,1018.9 L2400.0,1015.9 L2399.9,1012.9 L2399.8,1009.9 L2399.7,1006.9 L2399.6,1003.9 L2399.4,1000.9 L2399.3,997.9 L2399.1,994.9 L2398.9,991.9 L2398.8,988.9 L2398.6,985.9 L2398.5,982.9 L2398.4,979.9 L2398.3,976.9 L2398.3,973.9 L2398.3,970.9 L2398.2,967.9 L2398.2,964.9 L2398.3,961.9 L2398.3,958.9 L2398.3,955.9 L2398.3,952.9 L2398.4,949.9 L2398.5,946.9 L2398.5,943.9 L2398.6,940.9 L2398.7,937.9 L2398.8,934.9 L2398.9,931.9 L2399.0,928.9 L2399.0,925.9 L2399.2,922.9 L2399.3,919.9 L2399.4,916.9 L2399.5,913.9 L2399.7,910.9 L2399.8,907.9 L2399.9,904.9 L2400.0,901.9 L2400.1,898.9 L2400.2,895.9 L2400.3,892.9 L2400.4,889.9 L2400.4,886.9 L2400.5,883.9 L2400.5,880.9 L2400.6,877.9 L2400.7,874.9 L2400.7,871.9 L2400.7,868.9 L2400.8,865.9 L2400.8,862.9 L2400.9,859.9 L2400.9,856.9 L2400.9,853.9 L2401.0,850.9 L2401.0,847.9 L2401.1,844.9 L2401.1,841.9 L2401.1,838.9 L2401.2,835.9 L2401.2,832.9 L2401.3,829.9 L2401.3,826.9 L2401.4,823.9 L2401.4,820.9 L2401.5,817.9 L2401.5,814.9 L2401.6,811.9 L2401.6,808.9 L2401.7,805.9 L2401.8,802.9 L2401.9,799.9 L2402.0,796.9 L2402.1,793.9 L2402.3,790.9 L2402.5,787.9 L2402.7,784.9 L2402.9,781.9 L2403.1,778.9 L2419.2,778.9 L2419.3,781.9 L2419.5,784.9 L2419.8,787.9 L2420.0,790.9 L2420.1,793.9 L2420.3,796.9 L2420.4,799.9 L2420.5,802.9 L2420.6,805.9 L2420.6,808.9 L2420.7,811.9 L2420.8,814.9 L2420.8,817.9 L2420.9,820.9 L2420.9,823.9 L2421.0,826.9 L2421.0,829.9 L2421.0,832.9 L2421.1,835.9 L2421.1,838.9 L2421.2,841.9 L2421.2,844.9 L2421.2,847.9 L2421.3,850.9 L2421.3,853.9 L2421.4,856.9 L2421.4,859.9 L2421.4,862.9 L2421.5,865.9 L2421.5,868.9 L2421.6,871.9 L2421.6,874.9 L2421.7,877.9 L2421.7,880.9 L2421.8,883.9 L2421.8,886.9 L2421.9,889.9 L2422.0,892.9 L2422.1,895.9 L2422.1,898.9 L2422.2,901.9 L2422.3,904.9 L2422.5,907.9 L2422.6,910.9 L2422.7,913.9 L2422.9,916.9 L2423.0,919.9 L2423.1,922.9 L2423.2,925.9 L2423.3,928.9 L2423.4,931.9 L2423.5,934.9 L2423.6,937.9 L2423.6,940.9 L2423.7,943.9 L2423.8,946.9 L2423.9,949.9 L2423.9,952.9 L2424.0,955.9 L2424.0,958.9 L2424.0,961.9 L2424.0,964.9 L2424.0,967.9 L2424.0,970.9 L2424.0,973.9 L2423.9,976.9 L2423.9,979.9 L2423.8,982.9 L2423.6,985.9 L2423.5,988.9 L2423.3,991.9 L2423.2,994.9 L2423.0,997.9 L2422.8,1000.9 L2422.7,1003.9 L2422.6,1006.9 L2422.5,1009.9 L2422.4,1012.9 L2422.3,1015.9 L2422.2,1018.9 L2422.2,1021.9 L2422.2,1024.9 L2422.2,1027.9 L2422.2,1030.9 L2422.2,1033.9 L2422.3,1036.9 L2422.5,1039.9 L2422.7,1042.9 L2422.9,1045.9 L2423.2,1048.9 L2423.6,1051.9 L2424.0,1054.9 L2424.5,1057.9 L2425.0,1060.9 L2425.6,1063.9 L2426.2,1066.9 L2426.9,1069.9 L2427.6,1072.9 L2428.3,1075.9 L2429.1,1078.9 L2429.8,1081.9 L2430.7,1084.9 L2431.6,1087.9 L2432.5,1090.9 L2433.5,1093.9 L2434.5,1096.9 L2435.5,1099.9 L2436.6,1102.9 L2437.6,1105.9 L2438.6,1108.9 L2439.7,1111.9 L2440.7,1114.9 L2441.6,1117.9 L2442.6,1120.9 L2443.5,1123.9 L2444.4,1126.9 L2445.3,1129.9 L2446.1,1132.9 L2446.8,1135.9 L2447.5,1138.9 L2448.2,1141.9 L2448.8,1144.9 L2449.3,1147.9 L2449.7,1150.9 L2450.1,1153.9 L2450.3,1156.9 L2450.5,1159.9 L2450.5,1162.0Z" fill="#7EC0EE"/>
<path d="M2450.7,1162.0 L2450.7,1160.3 L2450.9,1157.3 L2451.2,1154.3 L2451.5,1151.3 L2452.0,1148.3 L2452.6,1145.3 L2453.2,1142.3 L2454.0,1139.3 L2454.7,1136.3 L2455.6,1133.3 L2456.5,1130.3 L2457.5,1127.3 L2458.5,1124.3 L2459.6,1121.3 L2460.6,1118.3 L2461.7,1115.3 L2462.9,1112.3 L2464.0,1109.3 L2465.1,1106.3 L2466.3,1103.3 L2467.4,1100.3 L2468.5,1097.3 L2469.6,1094.3 L2470.7,1091.3 L2471.8,1088.3 L2472.7,1085.3 L2473.7,1082.3 L2474.5,1079.3 L2475.3,1076.3 L2476.1,1073.3 L2476.8,1070.3 L2477.5,1067.3 L2478.1,1064.3 L2478.6,1061.3 L2479.1,1058.3 L2479.5,1055.3 L2479.8,1052.3 L2480.0,1049.3 L2480.2,1046.3 L2480.3,1043.3 L2480.4,1040.3 L2480.4,1037.3 L2480.4,1034.3 L2480.3,1031.3 L2480.2,1028.3 L2480.1,1025.3 L2479.9,1022.3 L2479.7,1019.3 L2479.5,1016.3 L2479.2,1013.3 L2478.9,1010.3 L2478.6,1007.3 L2478.3,1004.3 L2478.0,1001.3 L2477.7,998.3 L2477.3,995.3 L2476.9,992.3 L2476.6,989.3 L2476.2,986.3 L2475.8,983.3 L2475.4,980.3 L2475.0,977.3 L2474.6,974.3 L2474.2,971.3 L2473.9,968.3 L2473.5,965.3 L2473.1,962.3 L2472.8,959.3 L2472.5,956.3 L2472.2,953.3 L2471.9,950.3 L2471.7,947.3 L2471.4,944.3 L2471.2,941.3 L2471.0,938.3 L2470.8,935.3 L2470.7,932.3 L2470.6,929.3 L2470.5,926.3 L2470.5,923.3 L2470.4,920.3 L2470.4,917.3 L2470.4,914.3 L2470.4,911.3 L2470.4,908.3 L2470.5,905.3 L2470.5,902.3 L2470.6,899.3 L2470.7,896.3 L2470.9,893.3 L2471.1,890.3 L2471.3,887.3 L2471.5,884.3 L2471.7,881.3 L2472.0,878.3 L2472.3,875.3 L2472.5,872.3 L2472.9,869.3 L2473.2,866.3 L2473.6,863.3 L2473.9,860.3 L2474.3,857.3 L2474.7,854.3 L2475.2,851.3 L2475.6,848.3 L2476.0,845.3 L2476.5,842.3 L2477.0,839.3 L2477.5,836.3 L2478.0,833.3 L2478.5,830.3 L2479.0,827.3 L2479.5,824.3 L2480.0,821.3 L2480.5,818.3 L2481.0,815.3 L2481.5,812.3 L2482.0,809.3 L2482.4,806.3 L2482.8,803.3 L2483.0,800.3 L2497.1,800.3 L2497.4,803.3 L2497.7,806.3 L2498.1,809.3 L2498.6,812.3 L2499.1,815.3 L2499.6,818.3 L2500.2,821.3 L2500.7,824.3 L2501.2,827.3 L2501.7,830.3 L2502.2,833.3 L2502.7,836.3 L2503.2,839.3 L2503.7,842.3 L2504.1,845.3 L2504.6,848.3 L2505.0,851.3 L2505.4,854.3 L2505.8,857.3 L2506.2,860.3 L2506.6,863.3 L2507.0,866.3 L2507.3,869.3 L2507.6,872.3 L2507.9,875.3 L2508.2,878.3 L2508.4,881.3 L2508.7,884.3 L2508.9,887.3 L2509.1,890.3 L2509.3,893.3 L2509.4,896.3 L2509.5,899.3 L2509.6,902.3 L2509.7,905.3 L2509.7,908.3 L2509.7,911.3 L2509.8,914.3 L2509.8,917.3 L2509.7,920.3 L2509.7,923.3 L2509.6,926.3 L2509.6,929.3 L2509.5,932.3 L2509.3,935.3 L2509.1,938.3 L2508.9,941.3 L2508.7,944.3 L2508.5,947.3 L2508.2,950.3 L2508.0,953.3 L2507.7,956.3 L2507.4,959.3 L2507.1,962.3 L2506.7,965.3 L2506.3,968.3 L2505.9,971.3 L2505.5,974.3 L2505.1,977.3 L2504.8,980.3 L2504.4,983.3 L2504.0,986.3 L2503.6,989.3 L2503.2,992.3 L2502.8,995.3 L2502.5,998.3 L2502.1,1001.3 L2501.8,1004.3 L2501.5,1007.3 L2501.2,1010.3 L2500.9,1013.3 L2500.7,1016.3 L2500.5,1019.3 L2500.2,1022.3 L2500.1,1025.3 L2499.9,1028.3 L2499.8,1031.3 L2499.8,1034.3 L2499.8,1037.3 L2499.8,1040.3 L2499.9,1043.3 L2500.0,1046.3 L2500.2,1049.3 L2500.4,1052.3 L2500.7,1055.3 L2501.1,1058.3 L2501.5,1061.3 L2502.0,1064.3 L2502.6,1067.3 L2503.3,1070.3 L2504.0,1073.3 L2504.8,1076.3 L2505.6,1079.3 L2506.5,1082.3 L2507.4,1085.3 L2508.4,1088.3 L2509.4,1091.3 L2510.5,1094.3 L2511.6,1097.3 L2512.8,1100.3 L2513.9,1103.3 L2515.0,1106.3 L2516.2,1109.3 L2517.3,1112.3 L2518.4,1115.3 L2519.5,1118.3 L2520.6,1121.3 L2521.7,1124.3 L2522.7,1127.3 L2523.6,1130.3 L2524.5,1133.3 L2525.4,1136.3 L2526.2,1139.3 L2526.9,1142.3 L2527.6,1145.3 L2528.2,1148.3 L2528.6,1151.3 L2529.0,1154.3 L2529.3,1157.3 L2529.4,1160.3 L2529.4,1162.0Z" fill="#436EEE"/>
<path d="M2529.7,1162.0 L2529.7,1160.7 L2529.9,1157.7 L2530.3,1154.7 L2530.8,1151.7 L2531.5,1148.7 L2532.4,1145.7 L2533.4,1142.7 L2534.6,1139.7 L2535.9,1136.7 L2537.3,1133.7 L2538.8,1130.7 L2540.4,1127.7 L2542.0,1124.7 L2543.7,1121.7 L2545.4,1118.7 L2547.1,1115.7 L2548.7,1112.7 L2550.3,1109.7 L2551.8,1106.7 L2553.3,1103.7 L2554.7,1100.7 L2556.0,1097.7 L2557.2,1094.7 L2558.3,1091.7 L2559.2,1088.7 L2559.9,1085.7 L2560.3,1082.7 L2560.6,1079.7 L2560.8,1076.7 L2560.8,1073.7 L2560.8,1070.7 L2560.7,1067.7 L2560.5,1064.7 L2560.3,1061.7 L2560.1,1058.7 L2559.8,1055.7 L2559.5,1052.7 L2559.2,1049.7 L2558.9,1046.7 L2558.6,1043.7 L2558.2,1040.7 L2557.9,1037.7 L2557.5,1034.7 L2557.1,1031.7 L2556.8,1028.7 L2556.4,1025.7 L2556.1,1022.7 L2555.9,1019.7 L2555.7,1016.7 L2555.5,1013.7 L2555.5,1010.7 L2555.4,1007.7 L2555.5,1004.7 L2555.5,1001.7 L2555.7,998.7 L2555.8,995.7 L2556.1,992.7 L2556.3,989.7 L2556.5,986.7 L2556.7,983.7 L2557.0,980.7 L2557.2,977.7 L2557.5,974.7 L2557.8,971.7 L2558.1,968.7 L2558.4,965.7 L2558.7,962.7 L2559.1,959.7 L2559.4,956.7 L2559.6,953.7 L2559.9,950.7 L2560.2,947.7 L2560.5,944.7 L2560.7,941.7 L2561.0,938.7 L2561.2,935.7 L2561.5,932.7 L2561.7,929.7 L2561.9,926.7 L2562.0,923.7 L2562.2,920.7 L2562.3,917.7 L2562.4,914.7 L2562.4,911.7 L2562.5,908.7 L2562.5,905.7 L2562.6,902.7 L2562.6,899.7 L2562.6,896.7 L2562.6,893.7 L2562.6,890.7 L2562.7,887.7 L2562.7,884.7 L2562.7,881.7 L2562.7,878.7 L2562.7,875.7 L2562.8,872.7 L2562.8,869.7 L2562.8,866.7 L2562.9,863.7 L2562.9,860.7 L2563.0,857.7 L2563.0,854.7 L2563.1,851.7 L2563.2,848.7 L2563.2,845.7 L2563.4,842.7 L2563.5,839.7 L2563.6,836.7 L2563.8,833.7 L2563.9,830.7 L2564.1,827.7 L2564.2,824.7 L2564.4,821.7 L2564.6,818.7 L2564.8,815.7 L2564.9,812.7 L2565.1,809.7 L2565.3,806.7 L2565.5,803.7 L2565.7,800.7 L2565.8,797.7 L2566.0,794.7 L2566.2,791.7 L2566.3,788.7 L2566.5,785.7 L2566.6,782.7 L2566.7,779.7 L2566.9,776.7 L2567.0,773.7 L2567.2,770.7 L2567.3,767.7 L2567.4,764.7 L2567.5,761.7 L2567.5,758.7 L2567.6,755.7 L2567.7,752.7 L2567.7,749.7 L2567.8,746.7 L2567.8,743.7 L2567.8,740.7 L2567.9,737.7 L2567.9,734.7 L2568.0,731.7 L2568.0,728.7 L2568.0,725.7 L2568.0,722.7 L2568.0,719.7 L2568.0,716.7 L2570.0,716.7 L2570.0,719.7 L2570.0,722.7 L2570.1,725.7 L2570.1,728.7 L2570.1,731.7 L2570.1,734.7 L2570.2,737.7 L2570.2,740.7 L2570.2,743.7 L2570.3,746.7 L2570.3,749.7 L2570.4,752.7 L2570.5,755.7 L2570.5,758.7 L2570.6,761.7 L2570.7,764.7 L2570.8,767.7 L2570.9,770.7 L2571.0,773.7 L2571.2,776.7 L2571.3,779.7 L2571.5,782.7 L2571.6,785.7 L2571.7,788.7 L2571.9,791.7 L2572.0,794.7 L2572.2,797.7 L2572.4,800.7 L2572.5,803.7 L2572.7,806.7 L2572.9,809.7 L2573.1,812.7 L2573.3,815.7 L2573.5,818.7 L2573.7,821.7 L2573.8,824.7 L2574.0,827.7 L2574.1,830.7 L2574.3,833.7 L2574.4,836.7 L2574.6,839.7 L2574.7,842.7 L2574.8,845.7 L2574.9,848.7 L2575.0,851.7 L2575.0,854.7 L2575.1,857.7 L2575.1,860.7 L2575.2,863.7 L2575.2,866.7 L2575.3,869.7 L2575.3,872.7 L2575.3,875.7 L2575.3,878.7 L2575.4,881.7 L2575.4,884.7 L2575.4,887.7 L2575.4,890.7 L2575.4,893.7 L2575.4,896.7 L2575.5,899.7 L2575.5,902.7 L2575.5,905.7 L2575.6,908.7 L2575.6,911.7 L2575.7,914.7 L2575.8,917.7 L2575.9,920.7 L2576.0,923.7 L2576.2,926.7 L2576.4,929.7 L2576.6,932.7 L2576.8,935.7 L2577.1,938.7 L2577.3,941.7 L2577.6,944.7 L2577.9,947.7 L2578.1,950.7 L2578.4,953.7 L2578.7,956.7 L2579.0,959.7 L2579.3,962.7 L2579.6,965.7 L2579.9,968.7 L2580.2,971.7 L2580.5,974.7 L2580.8,977.7 L2581.1,980.7 L2581.3,983.7 L2581.5,986.7 L2581.8,989.7 L2582.0,992.7 L2582.2,995.7 L2582.4,998.7 L2582.5,1001.7 L2582.6,1004.7 L2582.6,1007.7 L2582.6,1010.7 L2582.5,1013.7 L2582.4,1016.7 L2582.2,1019.7 L2581.9,1022.7 L2581.6,1025.7 L2581.3,1028.7 L2580.9,1031.7 L2580.6,1034.7 L2580.2,1037.7 L2579.8,1040.7 L2579.5,1043.7 L2579.1,1046.7 L2578.8,1049.7 L2578.5,1052.7 L2578.2,1055.7 L2578.0,1058.7 L2577.7,1061.7 L2577.5,1064.7 L2577.4,1067.7 L2577.3,1070.7 L2577.3,1073.7 L2577.3,1076.7 L2577.5,1079.7 L2577.7,1082.7 L2578.2,1085.7 L2578.9,1088.7 L2579.8,1091.7 L2580.9,1094.7 L2582.1,1097.7 L2583.4,1100.7 L2584.8,1103.7 L2586.2,1106.7 L2587.8,1109.7 L2589.4,1112.7 L2591.0,1115.7 L2592.7,1118.7 L2594.3,1121.7 L2596.0,1124.7 L2597.6,1127.7 L2599.2,1130.7 L2600.7,1133.7 L2602.1,1136.7 L2603.4,1139.7 L2604.6,1142.7 L2605.7,1145.7 L2606.5,1148.7 L2607.2,1151.7 L2607.8,1154.7 L2608.2,1157.7 L2608.3,1160.7 L2608.4,1162.0Z" fill="#FF3030"/>
</g>
<g stroke="#000" stroke-width="4.2" fill="none" stroke-linecap="butt">
<path d="M227,141 V1212.4"/>
<path d="M224.9,1210.3 H2650.3"/>
<path d="M212.3,1162.0 H225"/>
<path d="M212.3,922.2 H225"/>
<path d="M212.3,682.4 H225"/>
<path d="M212.3,442.6 H225"/>
<path d="M212.3,202.8 H225"/>
<path d="M384.80,1212 V1225.0"/>
<path d="M647.96,1212 V1225.0"/>
<path d="M911.12,1212 V1225.0"/>
<path d="M1174.28,1212 V1225.0"/>
<path d="M1437.44,1212 V1225.0"/>
<path d="M1700.60,1212 V1225.0"/>
<path d="M1963.76,1212 V1225.0"/>
<path d="M2226.92,1212 V1225.0"/>
<path d="M2490.08,1212 V1225.0"/>
</g>
<text transform="translate(199.6,1180.4) scale(1.076,1)" text-anchor="end" font-size="53.2">0.0</text>
<text transform="translate(199.6,940.6) scale(1.076,1)" text-anchor="end" font-size="53.2">0.5</text>
<text transform="translate(199.6,700.8) scale(1.076,1)" text-anchor="end" font-size="53.2">1.0</text>
<text transform="translate(199.6,461.0) scale(1.076,1)" text-anchor="end" font-size="53.2">1.5</text>
<text transform="translate(199.6,221.2) scale(1.076,1)" text-anchor="end" font-size="53.2">2.0</text>
<text transform="translate(94.7,675) rotate(-90) scale(1.049,1)" text-anchor="middle" font-size="61.25">Expression Level</text>
<text transform="translate(410.8,1263) rotate(-45) scale(1.0829,1)" text-anchor="end" font-size="52.5">Lef1+ Papillary</text>
<text transform="translate(674.0,1263) rotate(-45) scale(1.0966,1)" text-anchor="end" font-size="52.5">Dlk1+ Reticular</text>
<text transform="translate(937.1,1263) rotate(-45) scale(1.0866,1)" text-anchor="end" font-size="52.5">Dpp4+ Papillary</text>
<text transform="translate(1200.3,1263) rotate(-45) scale(1.0772,1)" text-anchor="end" font-size="52.5">Mki67+ Fibroblasts</text>
<text transform="translate(1463.4,1263) rotate(-45) scale(1.0527,1)" text-anchor="end" font-size="52.5">Fabp4+ Pre-Adipocytes</text>
<text transform="translate(1726.6,1263) rotate(-45) scale(1.0791,1)" text-anchor="end" font-size="52.5">Inhba+ Dermal Papilla</text>
<text transform="translate(1989.8,1263) rotate(-45) scale(1.0770,1)" text-anchor="end" font-size="52.5">Tagln+ Papillary</text>
<text transform="translate(2252.9,1263) rotate(-45) scale(1.0406,1)" text-anchor="end" font-size="52.5">Plac8+ Fascia</text>
<text transform="translate(2516.1,1263) rotate(-45) scale(1.0777,1)" text-anchor="end" font-size="52.5">Acan+ Dermal Sheath</text>
</svg></body></html>
